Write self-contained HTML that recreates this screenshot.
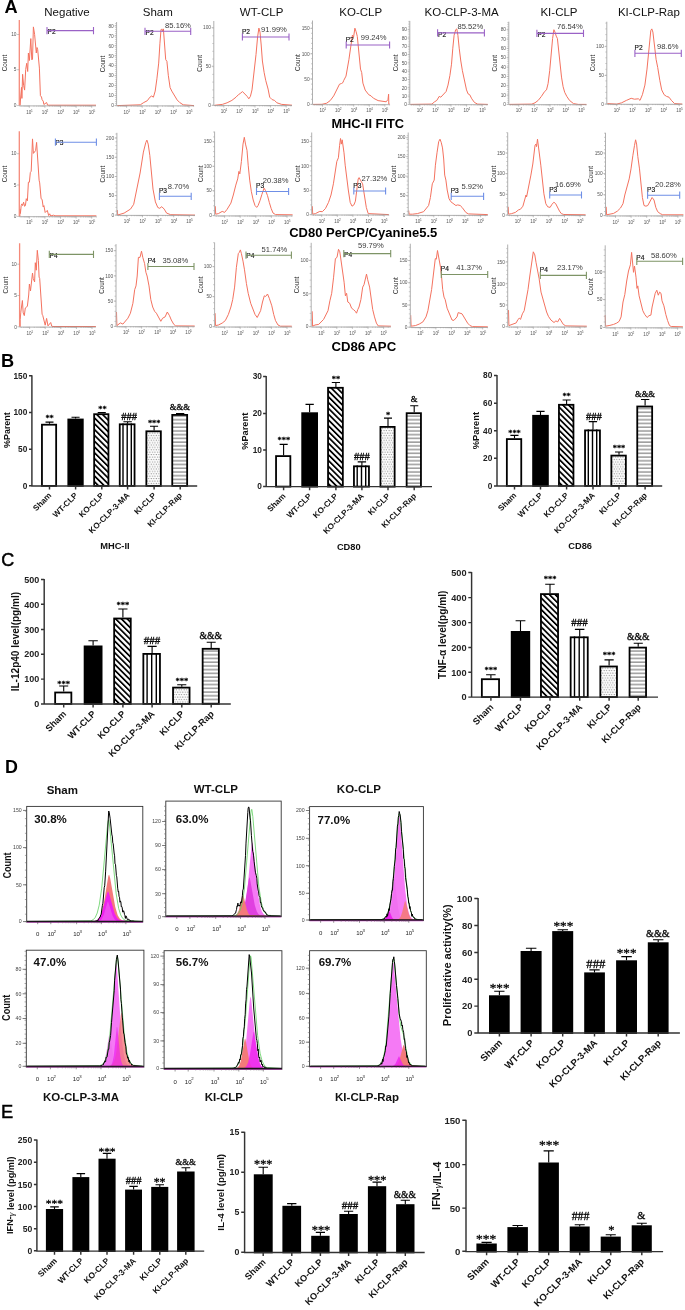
<!DOCTYPE html>
<html><head><meta charset="utf-8"><title>Figure</title>
<style>
html,body{margin:0;padding:0;background:#fff;}
body{width:685px;height:1310px;overflow:hidden;}
svg{display:block;filter:blur(0.3px);font-family:"Liberation Sans", sans-serif;}
</style></head><body>
<svg width="685" height="1310" viewBox="0 0 685 1310">
<rect width="685" height="1310" fill="#fff"/>

<defs>
<pattern id="hatch" patternUnits="userSpaceOnUse" width="4.1" height="4.1" patternTransform="rotate(-45)">
  <rect width="4.1" height="4.1" fill="#fff"/><rect width="1.75" height="4.1" fill="#000"/>
</pattern>
<pattern id="vl" patternUnits="userSpaceOnUse" width="4.4" height="4">
  <rect width="4.4" height="4" fill="#fff"/><rect x="0" width="1.5" height="4" fill="#000"/>
</pattern>
<pattern id="dots" patternUnits="userSpaceOnUse" width="2.53" height="4.8">
  <rect width="2.53" height="4.8" fill="#fff"/>
  <circle cx="0.7" cy="1.0" r="0.62" fill="#777"/><circle cx="1.96" cy="3.4" r="0.62" fill="#808080"/>
</pattern>
<pattern id="hl" patternUnits="userSpaceOnUse" width="4" height="3.73">
  <rect width="4" height="3.73" fill="#fff"/><rect y="1.5" width="4" height="0.9" fill="#555"/>
</pattern>
</defs>

<text x="4.60" y="13.00" font-size="18.2" font-weight="bold">A</text>
<text x="67.00" y="15.60" font-size="11.5" text-anchor="middle" fill="#111">Negative</text>
<text x="157.80" y="15.60" font-size="11.5" text-anchor="middle" fill="#111">Sham</text>
<text x="261.60" y="15.60" font-size="11.5" text-anchor="middle" fill="#111">WT-CLP</text>
<text x="360.70" y="15.60" font-size="11.5" text-anchor="middle" fill="#111">KO-CLP</text>
<text x="461.60" y="15.60" font-size="11.5" text-anchor="middle" fill="#111">KO-CLP-3-MA</text>
<text x="559.00" y="15.60" font-size="11.5" text-anchor="middle" fill="#111">KI-CLP</text>
<text x="648.90" y="15.60" font-size="11.5" text-anchor="middle" fill="#111">KI-CLP-Rap</text>
<text x="28.80" y="113.60" font-size="4.6" text-anchor="middle" fill="#555">10</text>
<text x="31.90" y="111.60" font-size="3.2" text-anchor="middle" fill="#555">1</text>
<text x="44.40" y="113.60" font-size="4.6" text-anchor="middle" fill="#555">10</text>
<text x="47.50" y="111.60" font-size="3.2" text-anchor="middle" fill="#555">2</text>
<text x="60.00" y="113.60" font-size="4.6" text-anchor="middle" fill="#555">10</text>
<text x="63.10" y="111.60" font-size="3.2" text-anchor="middle" fill="#555">3</text>
<text x="75.60" y="113.60" font-size="4.6" text-anchor="middle" fill="#555">10</text>
<text x="78.70" y="111.60" font-size="3.2" text-anchor="middle" fill="#555">4</text>
<text x="91.20" y="113.60" font-size="4.6" text-anchor="middle" fill="#555">10</text>
<text x="94.30" y="111.60" font-size="3.2" text-anchor="middle" fill="#555">5</text>
<text x="16.50" y="36.20" font-size="4.8" text-anchor="end" fill="#555">10</text>
<text x="16.50" y="71.40" font-size="4.8" text-anchor="end" fill="#555">5</text>
<text x="16.50" y="107.30" font-size="4.8" text-anchor="end" fill="#555">0</text>
<text x="7.30" y="63.00" font-size="6.4" text-anchor="middle" fill="#222" transform="rotate(-90 7.30 63.00)" textLength="16.6" lengthAdjust="spacingAndGlyphs">Count</text>
<path d="M19.9 105.6L20.2 105.2L20.5 99.0L21.5 87.4L21.9 98.4L22.6 74.3L23.6 85.3L24.6 90.1L25.7 69.5L26.7 63.3L27.7 71.5L28.4 53.0L29.4 60.5L30.8 38.6L31.8 59.9L32.5 59.2L33.4 26.9L34.6 34.4L36.3 53.0L37.0 47.5L37.7 49.6L39.4 68.1L40.4 95.6L41.5 97.0L42.1 99.7L43.2 101.1L43.9 104.5L46.6 102.5L47.6 105.2L96.0 105.2" stroke="#f4725f" stroke-width="1.0" fill="none" stroke-linejoin="round"/>
<text x="47.50" y="33.60" font-size="6.6" fill="#111" stroke="#111" stroke-width="0.15">P2</text>
<text x="126.10" y="113.60" font-size="4.6" text-anchor="middle" fill="#555">10</text>
<text x="129.20" y="111.60" font-size="3.2" text-anchor="middle" fill="#555">1</text>
<text x="141.70" y="113.60" font-size="4.6" text-anchor="middle" fill="#555">10</text>
<text x="144.80" y="111.60" font-size="3.2" text-anchor="middle" fill="#555">2</text>
<text x="157.30" y="113.60" font-size="4.6" text-anchor="middle" fill="#555">10</text>
<text x="160.40" y="111.60" font-size="3.2" text-anchor="middle" fill="#555">3</text>
<text x="172.90" y="113.60" font-size="4.6" text-anchor="middle" fill="#555">10</text>
<text x="176.00" y="111.60" font-size="3.2" text-anchor="middle" fill="#555">4</text>
<text x="188.50" y="113.60" font-size="4.6" text-anchor="middle" fill="#555">10</text>
<text x="191.60" y="111.60" font-size="3.2" text-anchor="middle" fill="#555">5</text>
<text x="113.80" y="27.60" font-size="4.8" text-anchor="end" fill="#555">80</text>
<text x="113.80" y="37.60" font-size="4.8" text-anchor="end" fill="#555">70</text>
<text x="113.80" y="47.50" font-size="4.8" text-anchor="end" fill="#555">60</text>
<text x="113.80" y="57.50" font-size="4.8" text-anchor="end" fill="#555">50</text>
<text x="113.80" y="67.40" font-size="4.8" text-anchor="end" fill="#555">40</text>
<text x="113.80" y="77.40" font-size="4.8" text-anchor="end" fill="#555">30</text>
<text x="113.80" y="87.30" font-size="4.8" text-anchor="end" fill="#555">20</text>
<text x="113.80" y="97.30" font-size="4.8" text-anchor="end" fill="#555">10</text>
<text x="113.80" y="107.30" font-size="4.8" text-anchor="end" fill="#555">0</text>
<text x="104.60" y="64.00" font-size="6.4" text-anchor="middle" fill="#222" transform="rotate(-90 104.60 64.00)" textLength="16.6" lengthAdjust="spacingAndGlyphs">Count</text>
<path d="M117.2 105.6L140.3 104.8L143.8 102.5L147.3 100.7L149.9 97.2L151.7 96.0L153.4 97.2L155.2 91.1L156.9 78.8L158.7 63.1L159.9 43.8L161.0 29.8L161.8 28.9L162.7 31.5L163.4 28.9L165.7 59.6L166.9 61.3L168.3 75.3L170.1 87.6L171.8 91.1L177.1 99.9L179.7 102.5L183.2 104.8L194.0 105.6" stroke="#f4725f" stroke-width="1.0" fill="none" stroke-linejoin="round"/>
<text x="145.50" y="34.50" font-size="6.6" fill="#111" stroke="#111" stroke-width="0.15">P2</text>
<text x="178.00" y="27.80" font-size="7.6" text-anchor="middle" fill="#3a3a3a">85.16%</text>
<text x="223.30" y="113.30" font-size="4.6" text-anchor="middle" fill="#555">10</text>
<text x="226.40" y="111.30" font-size="3.2" text-anchor="middle" fill="#555">1</text>
<text x="238.90" y="113.30" font-size="4.6" text-anchor="middle" fill="#555">10</text>
<text x="242.00" y="111.30" font-size="3.2" text-anchor="middle" fill="#555">2</text>
<text x="254.50" y="113.30" font-size="4.6" text-anchor="middle" fill="#555">10</text>
<text x="257.60" y="111.30" font-size="3.2" text-anchor="middle" fill="#555">3</text>
<text x="270.10" y="113.30" font-size="4.6" text-anchor="middle" fill="#555">10</text>
<text x="273.20" y="111.30" font-size="3.2" text-anchor="middle" fill="#555">4</text>
<text x="285.70" y="113.30" font-size="4.6" text-anchor="middle" fill="#555">10</text>
<text x="288.80" y="111.30" font-size="3.2" text-anchor="middle" fill="#555">5</text>
<text x="211.00" y="29.30" font-size="4.8" text-anchor="end" fill="#555">100</text>
<text x="211.00" y="67.90" font-size="4.8" text-anchor="end" fill="#555">50</text>
<text x="211.00" y="107.00" font-size="4.8" text-anchor="end" fill="#555">0</text>
<text x="201.80" y="63.35" font-size="6.4" text-anchor="middle" fill="#222" transform="rotate(-90 201.80 63.35)" textLength="16.6" lengthAdjust="spacingAndGlyphs">Count</text>
<path d="M214.4 105.3L222.3 104.4L227.1 102.8L231.9 100.4L236.0 97.2L238.4 94.7L240.8 93.1L242.4 91.5L247.2 96.4L248.8 98.8L250.4 96.4L252.0 89.9L256.0 54.6L257.6 36.9L258.9 28.1L260.0 32.1L261.2 45.0L262.4 61.0L264.1 72.3L265.7 80.3L268.1 89.1L269.7 97.2L272.1 99.6L274.5 100.4L276.9 102.8L281.7 104.4L292.0 105.2" stroke="#f4725f" stroke-width="1.0" fill="none" stroke-linejoin="round"/>
<text x="241.90" y="33.50" font-size="6.6" fill="#111" stroke="#111" stroke-width="0.15">P2</text>
<text x="274.00" y="32.30" font-size="7.6" text-anchor="middle" fill="#3a3a3a">91.99%</text>
<text x="322.00" y="112.40" font-size="4.6" text-anchor="middle" fill="#555">10</text>
<text x="325.10" y="110.40" font-size="3.2" text-anchor="middle" fill="#555">1</text>
<text x="337.60" y="112.40" font-size="4.6" text-anchor="middle" fill="#555">10</text>
<text x="340.70" y="110.40" font-size="3.2" text-anchor="middle" fill="#555">2</text>
<text x="353.20" y="112.40" font-size="4.6" text-anchor="middle" fill="#555">10</text>
<text x="356.30" y="110.40" font-size="3.2" text-anchor="middle" fill="#555">3</text>
<text x="368.80" y="112.40" font-size="4.6" text-anchor="middle" fill="#555">10</text>
<text x="371.90" y="110.40" font-size="3.2" text-anchor="middle" fill="#555">4</text>
<text x="384.40" y="112.40" font-size="4.6" text-anchor="middle" fill="#555">10</text>
<text x="387.50" y="110.40" font-size="3.2" text-anchor="middle" fill="#555">5</text>
<text x="309.70" y="30.10" font-size="4.8" text-anchor="end" fill="#555">150</text>
<text x="309.70" y="55.50" font-size="4.8" text-anchor="end" fill="#555">100</text>
<text x="309.70" y="80.70" font-size="4.8" text-anchor="end" fill="#555">50</text>
<text x="309.70" y="106.10" font-size="4.8" text-anchor="end" fill="#555">0</text>
<text x="300.50" y="62.65" font-size="6.4" text-anchor="middle" fill="#222" transform="rotate(-90 300.50 62.65)" textLength="16.6" lengthAdjust="spacingAndGlyphs">Count</text>
<path d="M313.1 104.4L322.0 104.3L326.7 103.2L330.2 100.6L333.7 95.9L339.5 84.2L341.5 83.5L343.0 82.5L343.6 80.7L346.0 76.1L348.9 59.7L352.4 35.2L353.5 37.5L354.9 28.2L356.1 31.7L357.3 36.4L360.5 69.1L361.7 72.6L362.9 83.1L365.2 90.1L368.7 94.7L371.1 95.9L373.4 98.2L378.1 100.6L386.2 101.8L388.0 99.4L388.6 94.2L388.8 104.1L389.6 104.1" stroke="#f4725f" stroke-width="1.0" fill="none" stroke-linejoin="round"/>
<text x="345.70" y="41.50" font-size="6.6" fill="#111" stroke="#111" stroke-width="0.15">P2</text>
<text x="373.70" y="39.90" font-size="7.6" text-anchor="middle" fill="#3a3a3a">99.24%</text>
<text x="419.30" y="112.40" font-size="4.6" text-anchor="middle" fill="#555">10</text>
<text x="422.40" y="110.40" font-size="3.2" text-anchor="middle" fill="#555">1</text>
<text x="434.90" y="112.40" font-size="4.6" text-anchor="middle" fill="#555">10</text>
<text x="438.00" y="110.40" font-size="3.2" text-anchor="middle" fill="#555">2</text>
<text x="450.50" y="112.40" font-size="4.6" text-anchor="middle" fill="#555">10</text>
<text x="453.60" y="110.40" font-size="3.2" text-anchor="middle" fill="#555">3</text>
<text x="466.10" y="112.40" font-size="4.6" text-anchor="middle" fill="#555">10</text>
<text x="469.20" y="110.40" font-size="3.2" text-anchor="middle" fill="#555">4</text>
<text x="481.70" y="112.40" font-size="4.6" text-anchor="middle" fill="#555">10</text>
<text x="484.80" y="110.40" font-size="3.2" text-anchor="middle" fill="#555">5</text>
<text x="407.00" y="31.40" font-size="4.8" text-anchor="end" fill="#555">90</text>
<text x="407.00" y="39.70" font-size="4.8" text-anchor="end" fill="#555">80</text>
<text x="407.00" y="48.00" font-size="4.8" text-anchor="end" fill="#555">70</text>
<text x="407.00" y="56.30" font-size="4.8" text-anchor="end" fill="#555">60</text>
<text x="407.00" y="64.60" font-size="4.8" text-anchor="end" fill="#555">50</text>
<text x="407.00" y="72.90" font-size="4.8" text-anchor="end" fill="#555">40</text>
<text x="407.00" y="81.20" font-size="4.8" text-anchor="end" fill="#555">30</text>
<text x="407.00" y="89.50" font-size="4.8" text-anchor="end" fill="#555">20</text>
<text x="407.00" y="97.80" font-size="4.8" text-anchor="end" fill="#555">10</text>
<text x="407.00" y="106.10" font-size="4.8" text-anchor="end" fill="#555">0</text>
<text x="397.80" y="62.85" font-size="6.4" text-anchor="middle" fill="#222" transform="rotate(-90 397.80 62.85)" textLength="16.6" lengthAdjust="spacingAndGlyphs">Count</text>
<path d="M410.4 104.4L431.9 104.1L434.3 102.0L436.8 100.4L439.2 96.4L440.8 97.2L446.1 91.5L448.0 85.1L449.9 75.5L451.5 64.2L452.8 48.2L454.1 35.3L455.7 29.7L456.8 28.9L457.9 35.3L459.2 48.2L460.8 61.0L462.4 70.7L466.5 89.9L468.1 93.9L469.7 94.7L471.8 98.8L474.5 102.5L477.7 104.1L487.8 104.4" stroke="#f4725f" stroke-width="1.0" fill="none" stroke-linejoin="round"/>
<text x="438.10" y="36.60" font-size="6.6" fill="#111" stroke="#111" stroke-width="0.15">P2</text>
<text x="470.30" y="29.10" font-size="7.6" text-anchor="middle" fill="#3a3a3a">85.52%</text>
<text x="518.30" y="112.40" font-size="4.6" text-anchor="middle" fill="#555">10</text>
<text x="521.40" y="110.40" font-size="3.2" text-anchor="middle" fill="#555">1</text>
<text x="533.90" y="112.40" font-size="4.6" text-anchor="middle" fill="#555">10</text>
<text x="537.00" y="110.40" font-size="3.2" text-anchor="middle" fill="#555">2</text>
<text x="549.50" y="112.40" font-size="4.6" text-anchor="middle" fill="#555">10</text>
<text x="552.60" y="110.40" font-size="3.2" text-anchor="middle" fill="#555">3</text>
<text x="565.10" y="112.40" font-size="4.6" text-anchor="middle" fill="#555">10</text>
<text x="568.20" y="110.40" font-size="3.2" text-anchor="middle" fill="#555">4</text>
<text x="580.70" y="112.40" font-size="4.6" text-anchor="middle" fill="#555">10</text>
<text x="583.80" y="110.40" font-size="3.2" text-anchor="middle" fill="#555">5</text>
<text x="506.00" y="31.40" font-size="4.8" text-anchor="end" fill="#555">80</text>
<text x="506.00" y="40.70" font-size="4.8" text-anchor="end" fill="#555">70</text>
<text x="506.00" y="50.10" font-size="4.8" text-anchor="end" fill="#555">60</text>
<text x="506.00" y="59.40" font-size="4.8" text-anchor="end" fill="#555">50</text>
<text x="506.00" y="68.80" font-size="4.8" text-anchor="end" fill="#555">40</text>
<text x="506.00" y="78.10" font-size="4.8" text-anchor="end" fill="#555">30</text>
<text x="506.00" y="87.40" font-size="4.8" text-anchor="end" fill="#555">20</text>
<text x="506.00" y="96.80" font-size="4.8" text-anchor="end" fill="#555">10</text>
<text x="506.00" y="106.10" font-size="4.8" text-anchor="end" fill="#555">0</text>
<text x="496.80" y="63.25" font-size="6.4" text-anchor="middle" fill="#222" transform="rotate(-90 496.80 63.25)" textLength="16.6" lengthAdjust="spacingAndGlyphs">Count</text>
<path d="M509.4 104.4L531.8 104.1L535.0 102.8L538.2 100.4L541.4 96.4L544.6 91.5L546.5 89.9L548.1 83.5L549.7 70.7L552.6 38.5L553.9 29.7L555.0 32.1L556.2 36.1L557.4 38.5L561.5 77.1L563.1 86.7L564.7 92.3L566.8 96.4L569.5 100.4L573.5 103.6L578.3 104.4L586.4 104.4" stroke="#f4725f" stroke-width="1.0" fill="none" stroke-linejoin="round"/>
<text x="537.40" y="37.10" font-size="6.6" fill="#111" stroke="#111" stroke-width="0.15">P2</text>
<text x="569.80" y="29.10" font-size="7.6" text-anchor="middle" fill="#3a3a3a">76.54%</text>
<text x="616.30" y="112.00" font-size="4.6" text-anchor="middle" fill="#555">10</text>
<text x="619.40" y="110.00" font-size="3.2" text-anchor="middle" fill="#555">1</text>
<text x="631.90" y="112.00" font-size="4.6" text-anchor="middle" fill="#555">10</text>
<text x="635.00" y="110.00" font-size="3.2" text-anchor="middle" fill="#555">2</text>
<text x="647.50" y="112.00" font-size="4.6" text-anchor="middle" fill="#555">10</text>
<text x="650.60" y="110.00" font-size="3.2" text-anchor="middle" fill="#555">3</text>
<text x="663.10" y="112.00" font-size="4.6" text-anchor="middle" fill="#555">10</text>
<text x="666.20" y="110.00" font-size="3.2" text-anchor="middle" fill="#555">4</text>
<text x="678.70" y="112.00" font-size="4.6" text-anchor="middle" fill="#555">10</text>
<text x="681.80" y="110.00" font-size="3.2" text-anchor="middle" fill="#555">5</text>
<text x="604.00" y="48.30" font-size="4.8" text-anchor="end" fill="#555">100</text>
<text x="604.00" y="77.20" font-size="4.8" text-anchor="end" fill="#555">50</text>
<text x="604.00" y="105.80" font-size="4.8" text-anchor="end" fill="#555">0</text>
<text x="594.80" y="63.05" font-size="6.4" text-anchor="middle" fill="#222" transform="rotate(-90 594.80 63.05)" textLength="16.6" lengthAdjust="spacingAndGlyphs">Count</text>
<path d="M607.4 104.0L607.5 103.6L616.8 104.1L621.6 102.8L626.4 100.4L631.2 98.3L634.4 99.2L638.4 98.8L640.0 100.4L642.4 94.7L644.9 85.1L647.0 69.1L650.8 30.5L651.8 28.9L652.9 32.1L656.1 59.4L657.7 67.4L659.8 80.3L661.7 89.9L664.1 94.7L666.5 96.4L669.0 97.2L671.4 100.4L674.6 103.6L682.3 104.1" stroke="#f4725f" stroke-width="1.0" fill="none" stroke-linejoin="round"/>
<text x="634.50" y="50.00" font-size="6.6" fill="#111" stroke="#111" stroke-width="0.15">P2</text>
<text x="667.70" y="49.20" font-size="7.6" text-anchor="middle" fill="#3a3a3a">98.6%</text>
<text x="367.70" y="127.60" font-size="13.0" font-weight="bold" text-anchor="middle" textLength="72.6" lengthAdjust="spacingAndGlyphs">MHC-II FITC</text>
<text x="28.80" y="224.40" font-size="4.6" text-anchor="middle" fill="#555">10</text>
<text x="31.90" y="222.40" font-size="3.2" text-anchor="middle" fill="#555">1</text>
<text x="44.40" y="224.40" font-size="4.6" text-anchor="middle" fill="#555">10</text>
<text x="47.50" y="222.40" font-size="3.2" text-anchor="middle" fill="#555">2</text>
<text x="60.00" y="224.40" font-size="4.6" text-anchor="middle" fill="#555">10</text>
<text x="63.10" y="222.40" font-size="3.2" text-anchor="middle" fill="#555">3</text>
<text x="75.60" y="224.40" font-size="4.6" text-anchor="middle" fill="#555">10</text>
<text x="78.70" y="222.40" font-size="3.2" text-anchor="middle" fill="#555">4</text>
<text x="91.20" y="224.40" font-size="4.6" text-anchor="middle" fill="#555">10</text>
<text x="94.30" y="222.40" font-size="3.2" text-anchor="middle" fill="#555">5</text>
<text x="16.50" y="155.40" font-size="4.8" text-anchor="end" fill="#555">10</text>
<text x="16.50" y="186.70" font-size="4.8" text-anchor="end" fill="#555">5</text>
<text x="16.50" y="218.10" font-size="4.8" text-anchor="end" fill="#555">0</text>
<text x="7.30" y="174.00" font-size="6.4" text-anchor="middle" fill="#222" transform="rotate(-90 7.30 174.00)" textLength="16.6" lengthAdjust="spacingAndGlyphs">Count</text>
<path d="M19.9 216.4L19.8 209.0L20.4 213.5L21.2 205.6L21.9 203.9L22.6 205.6L23.6 202.2L24.6 206.3L25.4 205.6L26.3 198.7L27.4 200.8L28.4 182.2L29.4 182.2L30.3 172.6L31.2 171.2L32.5 138.9L33.4 153.4L35.6 150.6L36.6 142.4L39.1 180.2L39.7 182.9L41.1 198.7L42.1 199.4L43.2 207.0L43.9 205.6L45.2 212.5L47.3 210.4L48.7 215.6L49.7 213.8L50.7 215.9L53.5 215.2L55.0 215.8L96.4 215.8" stroke="#f4725f" stroke-width="1.0" fill="none" stroke-linejoin="round"/>
<text x="55.30" y="145.30" font-size="6.6" fill="#111" stroke="#111" stroke-width="0.15">P3</text>
<text x="126.40" y="223.10" font-size="4.6" text-anchor="middle" fill="#555">10</text>
<text x="129.50" y="221.10" font-size="3.2" text-anchor="middle" fill="#555">1</text>
<text x="142.00" y="223.10" font-size="4.6" text-anchor="middle" fill="#555">10</text>
<text x="145.10" y="221.10" font-size="3.2" text-anchor="middle" fill="#555">2</text>
<text x="157.60" y="223.10" font-size="4.6" text-anchor="middle" fill="#555">10</text>
<text x="160.70" y="221.10" font-size="3.2" text-anchor="middle" fill="#555">3</text>
<text x="173.20" y="223.10" font-size="4.6" text-anchor="middle" fill="#555">10</text>
<text x="176.30" y="221.10" font-size="3.2" text-anchor="middle" fill="#555">4</text>
<text x="188.80" y="223.10" font-size="4.6" text-anchor="middle" fill="#555">10</text>
<text x="191.90" y="221.10" font-size="3.2" text-anchor="middle" fill="#555">5</text>
<text x="114.10" y="139.70" font-size="4.8" text-anchor="end" fill="#555">200</text>
<text x="114.10" y="159.00" font-size="4.8" text-anchor="end" fill="#555">150</text>
<text x="114.10" y="178.20" font-size="4.8" text-anchor="end" fill="#555">100</text>
<text x="114.10" y="197.20" font-size="4.8" text-anchor="end" fill="#555">50</text>
<text x="114.10" y="216.80" font-size="4.8" text-anchor="end" fill="#555">0</text>
<text x="104.90" y="174.15" font-size="6.4" text-anchor="middle" fill="#222" transform="rotate(-90 104.90 174.15)" textLength="16.6" lengthAdjust="spacingAndGlyphs">Count</text>
<path d="M117.3 210.0L117.7 215.0L124.1 213.1L130.5 209.1L133.7 204.3L140.1 173.0L143.4 152.1L145.8 142.5L146.9 140.1L148.2 144.1L149.8 155.3L153.0 189.1L155.4 201.9L157.8 207.5L159.7 208.3L161.8 206.7L164.2 209.1L166.6 213.1L170.7 214.7L195.0 215.1" stroke="#f4725f" stroke-width="1.0" fill="none" stroke-linejoin="round"/>
<text x="158.90" y="192.80" font-size="6.6" fill="#111" stroke="#111" stroke-width="0.15">P3</text>
<text x="178.50" y="188.50" font-size="7.6" text-anchor="middle" fill="#3a3a3a">8.70%</text>
<text x="224.10" y="223.60" font-size="4.6" text-anchor="middle" fill="#555">10</text>
<text x="227.20" y="221.60" font-size="3.2" text-anchor="middle" fill="#555">1</text>
<text x="239.70" y="223.60" font-size="4.6" text-anchor="middle" fill="#555">10</text>
<text x="242.80" y="221.60" font-size="3.2" text-anchor="middle" fill="#555">2</text>
<text x="255.30" y="223.60" font-size="4.6" text-anchor="middle" fill="#555">10</text>
<text x="258.40" y="221.60" font-size="3.2" text-anchor="middle" fill="#555">3</text>
<text x="270.90" y="223.60" font-size="4.6" text-anchor="middle" fill="#555">10</text>
<text x="274.00" y="221.60" font-size="3.2" text-anchor="middle" fill="#555">4</text>
<text x="286.50" y="223.60" font-size="4.6" text-anchor="middle" fill="#555">10</text>
<text x="289.60" y="221.60" font-size="3.2" text-anchor="middle" fill="#555">5</text>
<text x="211.80" y="143.40" font-size="4.8" text-anchor="end" fill="#555">150</text>
<text x="211.80" y="168.00" font-size="4.8" text-anchor="end" fill="#555">100</text>
<text x="211.80" y="192.40" font-size="4.8" text-anchor="end" fill="#555">50</text>
<text x="211.80" y="217.30" font-size="4.8" text-anchor="end" fill="#555">0</text>
<text x="202.60" y="173.80" font-size="6.4" text-anchor="middle" fill="#222" transform="rotate(-90 202.60 173.80)" textLength="16.6" lengthAdjust="spacingAndGlyphs">Count</text>
<path d="M215.3 206.2L215.7 214.2L218.4 213.6L222.2 211.4L224.6 212.4L227.1 209.3L230.9 203.1L233.3 195.0L235.8 185.1L237.7 178.9L238.9 171.4L239.8 173.9L241.4 161.5L243.0 144.1L244.3 137.3L245.5 144.1L247.0 150.3L248.2 165.2L249.7 180.1L251.3 191.3L253.2 200.0L255.0 205.5L256.7 207.4L258.1 205.5L260.0 200.6L261.9 194.4L264.1 188.2L265.6 190.7L267.5 195.6L269.3 202.4L271.2 208.6L273.0 213.0L275.5 214.6L292.6 214.8" stroke="#f4725f" stroke-width="1.0" fill="none" stroke-linejoin="round"/>
<text x="256.10" y="188.00" font-size="6.6" fill="#111" stroke="#111" stroke-width="0.15">P3</text>
<text x="275.70" y="182.90" font-size="7.6" text-anchor="middle" fill="#3a3a3a">20.38%</text>
<text x="321.20" y="222.70" font-size="4.6" text-anchor="middle" fill="#555">10</text>
<text x="324.30" y="220.70" font-size="3.2" text-anchor="middle" fill="#555">1</text>
<text x="336.80" y="222.70" font-size="4.6" text-anchor="middle" fill="#555">10</text>
<text x="339.90" y="220.70" font-size="3.2" text-anchor="middle" fill="#555">2</text>
<text x="352.40" y="222.70" font-size="4.6" text-anchor="middle" fill="#555">10</text>
<text x="355.50" y="220.70" font-size="3.2" text-anchor="middle" fill="#555">3</text>
<text x="368.00" y="222.70" font-size="4.6" text-anchor="middle" fill="#555">10</text>
<text x="371.10" y="220.70" font-size="3.2" text-anchor="middle" fill="#555">4</text>
<text x="383.60" y="222.70" font-size="4.6" text-anchor="middle" fill="#555">10</text>
<text x="386.70" y="220.70" font-size="3.2" text-anchor="middle" fill="#555">5</text>
<text x="308.90" y="143.10" font-size="4.8" text-anchor="end" fill="#555">150</text>
<text x="308.90" y="167.50" font-size="4.8" text-anchor="end" fill="#555">100</text>
<text x="308.90" y="192.40" font-size="4.8" text-anchor="end" fill="#555">50</text>
<text x="308.90" y="216.40" font-size="4.8" text-anchor="end" fill="#555">0</text>
<text x="299.70" y="173.80" font-size="6.4" text-anchor="middle" fill="#222" transform="rotate(-90 299.70 173.80)" textLength="16.6" lengthAdjust="spacingAndGlyphs">Count</text>
<path d="M312.3 206.2L312.7 214.2L315.4 213.6L319.8 211.4L322.3 211.7L325.4 208.6L328.5 202.4L331.0 195.0L333.4 183.8L336.8 161.5L338.4 157.8L339.6 145.4L340.5 138.5L341.3 144.1L342.2 139.8L344.0 152.8L345.2 165.2L348.3 190.0L350.2 202.4L352.0 206.2L353.9 204.9L355.4 201.2L358.2 178.9L359.1 177.6L360.7 180.7L362.6 183.8L366.3 207.4L368.2 213.6L388.8 214.6" stroke="#f4725f" stroke-width="1.0" fill="none" stroke-linejoin="round"/>
<text x="353.30" y="188.00" font-size="6.6" fill="#111" stroke="#111" stroke-width="0.15">P3</text>
<text x="374.50" y="180.70" font-size="7.6" text-anchor="middle" fill="#3a3a3a">27.32%</text>
<text x="417.70" y="223.10" font-size="4.6" text-anchor="middle" fill="#555">10</text>
<text x="420.80" y="221.10" font-size="3.2" text-anchor="middle" fill="#555">1</text>
<text x="433.30" y="223.10" font-size="4.6" text-anchor="middle" fill="#555">10</text>
<text x="436.40" y="221.10" font-size="3.2" text-anchor="middle" fill="#555">2</text>
<text x="448.90" y="223.10" font-size="4.6" text-anchor="middle" fill="#555">10</text>
<text x="452.00" y="221.10" font-size="3.2" text-anchor="middle" fill="#555">3</text>
<text x="464.50" y="223.10" font-size="4.6" text-anchor="middle" fill="#555">10</text>
<text x="467.60" y="221.10" font-size="3.2" text-anchor="middle" fill="#555">4</text>
<text x="480.10" y="223.10" font-size="4.6" text-anchor="middle" fill="#555">10</text>
<text x="483.20" y="221.10" font-size="3.2" text-anchor="middle" fill="#555">5</text>
<text x="405.40" y="139.40" font-size="4.8" text-anchor="end" fill="#555">200</text>
<text x="405.40" y="158.30" font-size="4.8" text-anchor="end" fill="#555">150</text>
<text x="405.40" y="177.90" font-size="4.8" text-anchor="end" fill="#555">100</text>
<text x="405.40" y="197.20" font-size="4.8" text-anchor="end" fill="#555">50</text>
<text x="405.40" y="216.80" font-size="4.8" text-anchor="end" fill="#555">0</text>
<text x="396.20" y="174.00" font-size="6.4" text-anchor="middle" fill="#222" transform="rotate(-90 396.20 174.00)" textLength="16.6" lengthAdjust="spacingAndGlyphs">Count</text>
<path d="M408.7 210.5L409.1 214.2L412.4 214.2L417.4 213.6L423.6 211.7L428.6 205.5L430.4 197.5L432.3 183.8L434.2 180.1L435.4 165.2L437.0 152.8L438.7 141.6L440.0 139.2L441.2 142.3L442.5 147.9L443.7 159.0L444.7 175.1L445.9 180.1L447.2 190.0L449.0 198.7L450.9 201.8L455.9 205.5L457.7 204.9L460.2 205.5L462.1 207.4L465.8 212.4L468.3 213.9L487.8 214.6" stroke="#f4725f" stroke-width="1.0" fill="none" stroke-linejoin="round"/>
<text x="450.70" y="192.80" font-size="6.6" fill="#111" stroke="#111" stroke-width="0.15">P3</text>
<text x="472.30" y="188.90" font-size="7.6" text-anchor="middle" fill="#3a3a3a">5.92%</text>
<text x="517.20" y="223.10" font-size="4.6" text-anchor="middle" fill="#555">10</text>
<text x="520.30" y="221.10" font-size="3.2" text-anchor="middle" fill="#555">1</text>
<text x="532.80" y="223.10" font-size="4.6" text-anchor="middle" fill="#555">10</text>
<text x="535.90" y="221.10" font-size="3.2" text-anchor="middle" fill="#555">2</text>
<text x="548.40" y="223.10" font-size="4.6" text-anchor="middle" fill="#555">10</text>
<text x="551.50" y="221.10" font-size="3.2" text-anchor="middle" fill="#555">3</text>
<text x="564.00" y="223.10" font-size="4.6" text-anchor="middle" fill="#555">10</text>
<text x="567.10" y="221.10" font-size="3.2" text-anchor="middle" fill="#555">4</text>
<text x="579.60" y="223.10" font-size="4.6" text-anchor="middle" fill="#555">10</text>
<text x="582.70" y="221.10" font-size="3.2" text-anchor="middle" fill="#555">5</text>
<text x="504.90" y="154.60" font-size="4.8" text-anchor="end" fill="#555">150</text>
<text x="504.90" y="175.20" font-size="4.8" text-anchor="end" fill="#555">100</text>
<text x="504.90" y="195.90" font-size="4.8" text-anchor="end" fill="#555">50</text>
<text x="504.90" y="216.80" font-size="4.8" text-anchor="end" fill="#555">0</text>
<text x="495.70" y="174.00" font-size="6.4" text-anchor="middle" fill="#222" transform="rotate(-90 495.70 174.00)" textLength="16.6" lengthAdjust="spacingAndGlyphs">Count</text>
<path d="M508.2 206.8L508.6 214.2L511.7 213.6L515.4 212.4L518.5 209.9L520.4 209.3L522.9 206.2L526.0 195.0L526.6 196.9L530.9 175.1L532.8 164.0L535.0 145.4L535.9 144.1L536.5 146.6L537.5 139.2L540.8 165.2L543.9 193.8L545.8 203.7L547.7 206.8L550.1 207.4L552.0 204.3L553.9 202.2L555.7 203.7L559.5 211.1L561.3 213.6L563.8 214.5L585.6 214.8" stroke="#f4725f" stroke-width="1.0" fill="none" stroke-linejoin="round"/>
<text x="549.20" y="191.80" font-size="6.6" fill="#111" stroke="#111" stroke-width="0.15">P3</text>
<text x="568.00" y="186.90" font-size="7.6" text-anchor="middle" fill="#3a3a3a">16.69%</text>
<text x="615.00" y="223.60" font-size="4.6" text-anchor="middle" fill="#555">10</text>
<text x="618.10" y="221.60" font-size="3.2" text-anchor="middle" fill="#555">1</text>
<text x="630.60" y="223.60" font-size="4.6" text-anchor="middle" fill="#555">10</text>
<text x="633.70" y="221.60" font-size="3.2" text-anchor="middle" fill="#555">2</text>
<text x="646.20" y="223.60" font-size="4.6" text-anchor="middle" fill="#555">10</text>
<text x="649.30" y="221.60" font-size="3.2" text-anchor="middle" fill="#555">3</text>
<text x="661.80" y="223.60" font-size="4.6" text-anchor="middle" fill="#555">10</text>
<text x="664.90" y="221.60" font-size="3.2" text-anchor="middle" fill="#555">4</text>
<text x="677.40" y="223.60" font-size="4.6" text-anchor="middle" fill="#555">10</text>
<text x="680.50" y="221.60" font-size="3.2" text-anchor="middle" fill="#555">5</text>
<text x="602.70" y="154.60" font-size="4.8" text-anchor="end" fill="#555">150</text>
<text x="602.70" y="175.20" font-size="4.8" text-anchor="end" fill="#555">100</text>
<text x="602.70" y="196.40" font-size="4.8" text-anchor="end" fill="#555">50</text>
<text x="602.70" y="217.30" font-size="4.8" text-anchor="end" fill="#555">0</text>
<text x="593.50" y="174.40" font-size="6.4" text-anchor="middle" fill="#222" transform="rotate(-90 593.50 174.40)" textLength="16.6" lengthAdjust="spacingAndGlyphs">Count</text>
<path d="M606.2 206.8L606.6 214.8L613.6 213.4L617.4 211.1L620.5 208.0L623.0 203.7L624.8 195.0L629.2 178.9L631.0 168.9L632.9 155.3L634.5 145.4L635.6 139.8L636.6 144.1L637.8 156.5L639.5 168.9L642.4 197.5L644.0 205.5L645.9 206.2L647.8 205.5L652.1 197.5L654.0 200.0L655.8 207.4L657.7 211.7L660.2 213.6L662.7 214.8L683.4 214.8" stroke="#f4725f" stroke-width="1.0" fill="none" stroke-linejoin="round"/>
<text x="647.10" y="192.20" font-size="6.6" fill="#111" stroke="#111" stroke-width="0.15">P3</text>
<text x="667.90" y="186.90" font-size="7.6" text-anchor="middle" fill="#3a3a3a">20.28%</text>
<text x="363.20" y="237.00" font-size="13.0" font-weight="bold" text-anchor="middle">CD80 PerCP/Cyanine5.5</text>
<text x="29.10" y="334.80" font-size="4.6" text-anchor="middle" fill="#555">10</text>
<text x="32.20" y="332.80" font-size="3.2" text-anchor="middle" fill="#555">1</text>
<text x="44.70" y="334.80" font-size="4.6" text-anchor="middle" fill="#555">10</text>
<text x="47.80" y="332.80" font-size="3.2" text-anchor="middle" fill="#555">2</text>
<text x="60.30" y="334.80" font-size="4.6" text-anchor="middle" fill="#555">10</text>
<text x="63.40" y="332.80" font-size="3.2" text-anchor="middle" fill="#555">3</text>
<text x="75.90" y="334.80" font-size="4.6" text-anchor="middle" fill="#555">10</text>
<text x="79.00" y="332.80" font-size="3.2" text-anchor="middle" fill="#555">4</text>
<text x="91.50" y="334.80" font-size="4.6" text-anchor="middle" fill="#555">10</text>
<text x="94.60" y="332.80" font-size="3.2" text-anchor="middle" fill="#555">5</text>
<text x="16.80" y="265.90" font-size="4.8" text-anchor="end" fill="#555">10</text>
<text x="16.80" y="297.20" font-size="4.8" text-anchor="end" fill="#555">5</text>
<text x="16.80" y="328.50" font-size="4.8" text-anchor="end" fill="#555">0</text>
<text x="7.60" y="285.20" font-size="6.4" text-anchor="middle" fill="#222" transform="rotate(-90 7.60 285.20)" textLength="16.6" lengthAdjust="spacingAndGlyphs">Count</text>
<path d="M20.2 326.8L20.2 319.7L20.8 312.2L22.4 300.5L23.2 312.9L24.3 315.6L25.3 308.0L26.3 307.4L27.4 306.0L28.7 295.0L29.4 284.0L30.5 290.9L32.5 273.0L33.2 278.5L34.6 281.9L35.3 262.7L36.3 270.2L37.3 250.3L38.4 260.6L39.1 277.1L39.7 278.5L42.1 314.2L42.8 315.6L45.2 325.2L46.6 318.4L48.0 325.9L50.7 322.5L51.8 326.3L53.0 326.5L95.9 326.5" stroke="#f4725f" stroke-width="1.0" fill="none" stroke-linejoin="round"/>
<text x="49.60" y="257.90" font-size="6.6" fill="#111" stroke="#111" stroke-width="0.15">P4</text>
<text x="125.50" y="334.40" font-size="4.6" text-anchor="middle" fill="#555">10</text>
<text x="128.60" y="332.40" font-size="3.2" text-anchor="middle" fill="#555">1</text>
<text x="141.10" y="334.40" font-size="4.6" text-anchor="middle" fill="#555">10</text>
<text x="144.20" y="332.40" font-size="3.2" text-anchor="middle" fill="#555">2</text>
<text x="156.70" y="334.40" font-size="4.6" text-anchor="middle" fill="#555">10</text>
<text x="159.80" y="332.40" font-size="3.2" text-anchor="middle" fill="#555">3</text>
<text x="172.30" y="334.40" font-size="4.6" text-anchor="middle" fill="#555">10</text>
<text x="175.40" y="332.40" font-size="3.2" text-anchor="middle" fill="#555">4</text>
<text x="187.90" y="334.40" font-size="4.6" text-anchor="middle" fill="#555">10</text>
<text x="191.00" y="332.40" font-size="3.2" text-anchor="middle" fill="#555">5</text>
<text x="113.20" y="252.30" font-size="4.8" text-anchor="end" fill="#555">150</text>
<text x="113.20" y="277.50" font-size="4.8" text-anchor="end" fill="#555">100</text>
<text x="113.20" y="302.80" font-size="4.8" text-anchor="end" fill="#555">50</text>
<text x="113.20" y="328.10" font-size="4.8" text-anchor="end" fill="#555">0</text>
<text x="104.00" y="285.45" font-size="6.4" text-anchor="middle" fill="#222" transform="rotate(-90 104.00 285.45)" textLength="16.6" lengthAdjust="spacingAndGlyphs">Count</text>
<path d="M116.5 312.0L116.9 325.6L120.4 322.9L122.9 324.1L127.9 318.2L130.4 313.2L132.9 303.3L134.7 289.6L136.0 285.9L137.2 276.0L138.4 257.4L140.0 257.4L141.5 251.2L142.8 257.4L144.6 263.6L145.9 272.3L147.1 276.0L149.0 285.9L150.8 299.6L152.7 307.0L154.6 311.3L156.4 313.2L160.8 321.3L162.6 318.2L165.1 316.9L167.3 312.0L169.5 315.7L171.3 320.0L173.8 324.4L175.7 325.9L194.7 326.0" stroke="#f4725f" stroke-width="1.0" fill="none" stroke-linejoin="round"/>
<text x="147.70" y="263.40" font-size="6.6" fill="#111" stroke="#111" stroke-width="0.15">P4</text>
<text x="175.40" y="262.60" font-size="7.6" text-anchor="middle" fill="#3a3a3a">35.08%</text>
<text x="224.10" y="334.70" font-size="4.6" text-anchor="middle" fill="#555">10</text>
<text x="227.20" y="332.70" font-size="3.2" text-anchor="middle" fill="#555">1</text>
<text x="239.70" y="334.70" font-size="4.6" text-anchor="middle" fill="#555">10</text>
<text x="242.80" y="332.70" font-size="3.2" text-anchor="middle" fill="#555">2</text>
<text x="255.30" y="334.70" font-size="4.6" text-anchor="middle" fill="#555">10</text>
<text x="258.40" y="332.70" font-size="3.2" text-anchor="middle" fill="#555">3</text>
<text x="270.90" y="334.70" font-size="4.6" text-anchor="middle" fill="#555">10</text>
<text x="274.00" y="332.70" font-size="3.2" text-anchor="middle" fill="#555">4</text>
<text x="286.50" y="334.70" font-size="4.6" text-anchor="middle" fill="#555">10</text>
<text x="289.60" y="332.70" font-size="3.2" text-anchor="middle" fill="#555">5</text>
<text x="211.80" y="268.30" font-size="4.8" text-anchor="end" fill="#555">100</text>
<text x="211.80" y="298.30" font-size="4.8" text-anchor="end" fill="#555">50</text>
<text x="211.80" y="328.40" font-size="4.8" text-anchor="end" fill="#555">0</text>
<text x="202.60" y="284.80" font-size="6.4" text-anchor="middle" fill="#222" transform="rotate(-90 202.60 284.80)" textLength="16.6" lengthAdjust="spacingAndGlyphs">Count</text>
<path d="M215.1 313.2L215.5 325.6L218.4 325.0L222.2 323.1L225.3 320.6L228.4 314.4L230.9 307.0L232.7 299.6L234.6 287.1L236.4 267.3L238.3 253.6L239.3 252.4L240.4 249.9L241.4 253.6L243.0 261.1L244.5 269.8L246.4 283.4L248.2 293.3L250.7 303.3L255.0 314.4L257.2 317.5L260.6 310.7L262.5 302.0L264.3 295.8L265.6 296.5L267.5 294.0L269.3 298.3L271.8 305.8L273.7 314.4L275.5 320.6L278.0 325.0L280.5 326.2L291.8 326.2" stroke="#f4725f" stroke-width="1.0" fill="none" stroke-linejoin="round"/>
<text x="246.30" y="258.30" font-size="6.6" fill="#111" stroke="#111" stroke-width="0.15">P4</text>
<text x="274.50" y="252.30" font-size="7.6" text-anchor="middle" fill="#3a3a3a">51.74%</text>
<text x="320.70" y="334.70" font-size="4.6" text-anchor="middle" fill="#555">10</text>
<text x="323.80" y="332.70" font-size="3.2" text-anchor="middle" fill="#555">1</text>
<text x="336.30" y="334.70" font-size="4.6" text-anchor="middle" fill="#555">10</text>
<text x="339.40" y="332.70" font-size="3.2" text-anchor="middle" fill="#555">2</text>
<text x="351.90" y="334.70" font-size="4.6" text-anchor="middle" fill="#555">10</text>
<text x="355.00" y="332.70" font-size="3.2" text-anchor="middle" fill="#555">3</text>
<text x="367.50" y="334.70" font-size="4.6" text-anchor="middle" fill="#555">10</text>
<text x="370.60" y="332.70" font-size="3.2" text-anchor="middle" fill="#555">4</text>
<text x="383.10" y="334.70" font-size="4.6" text-anchor="middle" fill="#555">10</text>
<text x="386.20" y="332.70" font-size="3.2" text-anchor="middle" fill="#555">5</text>
<text x="308.40" y="262.20" font-size="4.8" text-anchor="end" fill="#555">100</text>
<text x="308.40" y="295.50" font-size="4.8" text-anchor="end" fill="#555">50</text>
<text x="308.40" y="328.40" font-size="4.8" text-anchor="end" fill="#555">0</text>
<text x="299.20" y="284.95" font-size="6.4" text-anchor="middle" fill="#222" transform="rotate(-90 299.20 284.95)" textLength="16.6" lengthAdjust="spacingAndGlyphs">Count</text>
<path d="M312.2 311.3L312.6 326.2L315.0 325.0L318.7 324.4L323.6 319.4L328.0 310.7L329.9 300.8L331.7 293.3L333.6 277.2L335.4 258.6L337.0 257.4L338.5 249.3L339.8 251.8L344.1 282.2L345.4 295.8L346.6 293.3L347.8 302.0L349.7 303.3L351.6 308.2L353.4 309.5L355.3 311.3L356.5 313.2L357.8 309.5L359.0 307.0L360.9 299.6L362.7 287.1L364.0 284.7L366.5 274.1L367.7 279.7L369.6 287.1L372.7 309.5L374.5 316.9L376.4 323.1L378.2 325.9L390.9 326.2" stroke="#f4725f" stroke-width="1.0" fill="none" stroke-linejoin="round"/>
<text x="344.10" y="257.20" font-size="6.6" fill="#111" stroke="#111" stroke-width="0.15">P4</text>
<text x="370.90" y="248.30" font-size="7.6" text-anchor="middle" fill="#3a3a3a">59.79%</text>
<text x="419.80" y="335.20" font-size="4.6" text-anchor="middle" fill="#555">10</text>
<text x="422.90" y="333.20" font-size="3.2" text-anchor="middle" fill="#555">1</text>
<text x="435.40" y="335.20" font-size="4.6" text-anchor="middle" fill="#555">10</text>
<text x="438.50" y="333.20" font-size="3.2" text-anchor="middle" fill="#555">2</text>
<text x="451.00" y="335.20" font-size="4.6" text-anchor="middle" fill="#555">10</text>
<text x="454.10" y="333.20" font-size="3.2" text-anchor="middle" fill="#555">3</text>
<text x="466.60" y="335.20" font-size="4.6" text-anchor="middle" fill="#555">10</text>
<text x="469.70" y="333.20" font-size="3.2" text-anchor="middle" fill="#555">4</text>
<text x="482.20" y="335.20" font-size="4.6" text-anchor="middle" fill="#555">10</text>
<text x="485.30" y="333.20" font-size="3.2" text-anchor="middle" fill="#555">5</text>
<text x="407.50" y="262.20" font-size="4.8" text-anchor="end" fill="#555">150</text>
<text x="407.50" y="284.40" font-size="4.8" text-anchor="end" fill="#555">100</text>
<text x="407.50" y="306.70" font-size="4.8" text-anchor="end" fill="#555">50</text>
<text x="407.50" y="328.90" font-size="4.8" text-anchor="end" fill="#555">0</text>
<text x="398.30" y="285.65" font-size="6.4" text-anchor="middle" fill="#222" transform="rotate(-90 398.30 285.65)" textLength="16.6" lengthAdjust="spacingAndGlyphs">Count</text>
<path d="M410.7 315.1L411.1 326.2L415.4 325.6L419.2 324.1L422.9 321.9L426.0 316.9L427.9 310.7L431.6 289.6L435.3 258.6L436.3 259.2L437.5 250.5L440.5 267.3L441.5 276.0L442.7 289.6L444.0 297.1L445.2 299.6L447.1 308.2L452.0 320.0L453.9 320.4L457.0 316.9L458.2 312.6L462.0 313.8L467.6 323.1L470.0 325.6L472.5 326.6L487.8 326.8" stroke="#f4725f" stroke-width="1.0" fill="none" stroke-linejoin="round"/>
<text x="440.80" y="270.80" font-size="6.6" fill="#111" stroke="#111" stroke-width="0.15">P4</text>
<text x="469.20" y="269.70" font-size="7.6" text-anchor="middle" fill="#3a3a3a">41.37%</text>
<text x="517.20" y="334.70" font-size="4.6" text-anchor="middle" fill="#555">10</text>
<text x="520.30" y="332.70" font-size="3.2" text-anchor="middle" fill="#555">1</text>
<text x="532.80" y="334.70" font-size="4.6" text-anchor="middle" fill="#555">10</text>
<text x="535.90" y="332.70" font-size="3.2" text-anchor="middle" fill="#555">2</text>
<text x="548.40" y="334.70" font-size="4.6" text-anchor="middle" fill="#555">10</text>
<text x="551.50" y="332.70" font-size="3.2" text-anchor="middle" fill="#555">3</text>
<text x="564.00" y="334.70" font-size="4.6" text-anchor="middle" fill="#555">10</text>
<text x="567.10" y="332.70" font-size="3.2" text-anchor="middle" fill="#555">4</text>
<text x="579.60" y="334.70" font-size="4.6" text-anchor="middle" fill="#555">10</text>
<text x="582.70" y="332.70" font-size="3.2" text-anchor="middle" fill="#555">5</text>
<text x="504.90" y="263.80" font-size="4.8" text-anchor="end" fill="#555">150</text>
<text x="504.90" y="285.50" font-size="4.8" text-anchor="end" fill="#555">100</text>
<text x="504.90" y="306.70" font-size="4.8" text-anchor="end" fill="#555">50</text>
<text x="504.90" y="328.40" font-size="4.8" text-anchor="end" fill="#555">0</text>
<text x="495.70" y="285.80" font-size="6.4" text-anchor="middle" fill="#222" transform="rotate(-90 495.70 285.80)" textLength="16.6" lengthAdjust="spacingAndGlyphs">Count</text>
<path d="M508.5 310.1L508.9 325.6L516.2 322.9L518.0 319.4L519.3 318.2L520.5 319.4L522.4 313.8L524.2 310.7L528.0 289.6L529.8 276.0L533.3 251.8L534.8 254.9L536.0 262.3L539.1 278.5L541.0 292.1L546.6 312.0L548.4 316.3L550.9 320.0L554.0 322.5L555.9 320.9L557.7 321.9L559.6 318.4L563.3 324.4L565.8 325.9L586.8 326.2" stroke="#f4725f" stroke-width="1.0" fill="none" stroke-linejoin="round"/>
<text x="539.80" y="272.40" font-size="6.6" fill="#111" stroke="#111" stroke-width="0.15">P4</text>
<text x="569.90" y="269.70" font-size="7.6" text-anchor="middle" fill="#3a3a3a">23.17%</text>
<text x="614.70" y="335.50" font-size="4.6" text-anchor="middle" fill="#555">10</text>
<text x="617.80" y="333.50" font-size="3.2" text-anchor="middle" fill="#555">1</text>
<text x="630.30" y="335.50" font-size="4.6" text-anchor="middle" fill="#555">10</text>
<text x="633.40" y="333.50" font-size="3.2" text-anchor="middle" fill="#555">2</text>
<text x="645.90" y="335.50" font-size="4.6" text-anchor="middle" fill="#555">10</text>
<text x="649.00" y="333.50" font-size="3.2" text-anchor="middle" fill="#555">3</text>
<text x="661.50" y="335.50" font-size="4.6" text-anchor="middle" fill="#555">10</text>
<text x="664.60" y="333.50" font-size="3.2" text-anchor="middle" fill="#555">4</text>
<text x="677.10" y="335.50" font-size="4.6" text-anchor="middle" fill="#555">10</text>
<text x="680.20" y="333.50" font-size="3.2" text-anchor="middle" fill="#555">5</text>
<text x="602.40" y="273.50" font-size="4.8" text-anchor="end" fill="#555">100</text>
<text x="602.40" y="301.20" font-size="4.8" text-anchor="end" fill="#555">50</text>
<text x="602.40" y="329.20" font-size="4.8" text-anchor="end" fill="#555">0</text>
<text x="593.20" y="286.60" font-size="6.4" text-anchor="middle" fill="#222" transform="rotate(-90 593.20 286.60)" textLength="16.6" lengthAdjust="spacingAndGlyphs">Count</text>
<path d="M605.2 315.1L605.6 326.2L609.9 325.4L613.6 324.4L616.7 323.1L619.2 321.3L621.1 316.9L623.0 302.0L624.8 294.6L626.7 281.0L628.5 271.0L630.4 264.8L631.6 252.4L633.5 272.3L634.5 266.1L636.0 277.2L637.0 288.4L637.8 285.9L639.1 295.8L642.8 310.7L644.7 314.4L647.1 317.5L649.0 315.7L650.9 315.1L652.1 307.0L655.2 293.3L656.8 290.2L658.3 295.2L659.6 292.1L661.0 293.3L662.0 300.8L663.9 305.8L665.8 314.4L667.6 320.6L669.5 325.6L671.3 326.5L682.9 326.8" stroke="#f4725f" stroke-width="1.0" fill="none" stroke-linejoin="round"/>
<text x="636.30" y="259.90" font-size="6.6" fill="#111" stroke="#111" stroke-width="0.15">P4</text>
<text x="663.90" y="258.10" font-size="7.6" text-anchor="middle" fill="#3a3a3a">58.60%</text>
<text x="363.80" y="350.70" font-size="13.2" font-weight="bold" text-anchor="middle">CD86 APC</text>
<text x="1.10" y="366.90" font-size="18.2" font-weight="bold">B</text>
<rect x="41.95" y="424.70" width="14.20" height="61.20" fill="#fff" stroke="#000" stroke-width="1.8"/>
<rect x="68.30" y="419.50" width="14.50" height="66.40" fill="#000" stroke="#000" stroke-width="1.8"/>
<rect x="94.15" y="414.20" width="14.30" height="71.70" fill="url(#hatch)" stroke="#000" stroke-width="1.8"/>
<rect x="119.75" y="424.30" width="14.80" height="61.60" fill="#fff" stroke="#000" stroke-width="1.8"/>
<rect x="146.35" y="431.30" width="14.50" height="54.60" fill="url(#dots)" stroke="#000" stroke-width="1.8"/>
<rect x="172.25" y="414.90" width="14.90" height="71.00" fill="url(#hl)" stroke="#000" stroke-width="1.8"/>
<text x="27.30" y="488.79" font-size="8.3" font-weight="bold" text-anchor="end" fill="#222">0</text>
<text x="27.30" y="452.19" font-size="8.3" font-weight="bold" text-anchor="end" fill="#222">50</text>
<text x="27.30" y="415.39" font-size="8.3" font-weight="bold" text-anchor="end" fill="#222">100</text>
<text x="27.30" y="378.69" font-size="8.3" font-weight="bold" text-anchor="end" fill="#222">150</text>
<text x="9.60" y="430.10" font-size="9.8" font-weight="bold" text-anchor="middle" fill="#111" transform="rotate(-90 9.60 430.10)" textLength="35.6" lengthAdjust="spacingAndGlyphs">%Parent</text>
<text x="49.60" y="420.80" font-size="8.4" text-anchor="middle" font-family="Liberation Serif" stroke="#000" stroke-width="0.3">**</text>
<text x="102.50" y="412.00" font-size="8.4" text-anchor="middle" font-family="Liberation Serif" stroke="#000" stroke-width="0.3">**</text>
<text x="129.00" y="420.10" font-size="10.5" text-anchor="middle" font-family="Liberation Serif" stroke="#000" stroke-width="0.3">###</text>
<text x="154.20" y="426.00" font-size="8.4" text-anchor="middle" font-family="Liberation Serif" stroke="#000" stroke-width="0.3">***</text>
<text x="179.80" y="410.20" font-size="8.6" text-anchor="middle" font-family="Liberation Serif" stroke="#000" stroke-width="0.3">&amp;&amp;&amp;</text>
<text x="52.00" y="495.90" font-size="8.15" font-weight="bold" text-anchor="end" fill="#111" transform="rotate(-45 52.00 495.90)">Sham</text>
<text x="78.05" y="495.90" font-size="8.15" font-weight="bold" text-anchor="end" fill="#111" transform="rotate(-45 78.05 495.90)">WT-CLP</text>
<text x="104.25" y="495.90" font-size="8.15" font-weight="bold" text-anchor="end" fill="#111" transform="rotate(-45 104.25 495.90)">KO-CLP</text>
<text x="130.10" y="495.90" font-size="8.15" font-weight="bold" text-anchor="end" fill="#111" transform="rotate(-45 130.10 495.90)">KO-CLP-3-MA</text>
<text x="156.55" y="495.90" font-size="8.15" font-weight="bold" text-anchor="end" fill="#111" transform="rotate(-45 156.55 495.90)">KI-CLP</text>
<text x="182.65" y="495.90" font-size="8.15" font-weight="bold" text-anchor="end" fill="#111" transform="rotate(-45 182.65 495.90)">KI-CLP-Rap</text>
<text x="114.90" y="548.70" font-size="9.3" font-weight="bold" text-anchor="middle" fill="#111">MHC-II</text>
<rect x="276.05" y="456.10" width="14.30" height="30.50" fill="#fff" stroke="#000" stroke-width="1.8"/>
<rect x="302.20" y="413.20" width="14.90" height="73.40" fill="#000" stroke="#000" stroke-width="1.8"/>
<rect x="328.05" y="387.80" width="14.80" height="98.80" fill="url(#hatch)" stroke="#000" stroke-width="1.8"/>
<rect x="353.95" y="466.30" width="15.00" height="20.30" fill="#fff" stroke="#000" stroke-width="1.8"/>
<rect x="380.45" y="426.90" width="14.20" height="59.70" fill="url(#dots)" stroke="#000" stroke-width="1.8"/>
<rect x="406.65" y="413.20" width="14.30" height="73.40" fill="url(#hl)" stroke="#000" stroke-width="1.8"/>
<text x="261.90" y="489.39" font-size="8.3" font-weight="bold" text-anchor="end" fill="#222">0</text>
<text x="261.90" y="452.99" font-size="8.3" font-weight="bold" text-anchor="end" fill="#222">10</text>
<text x="261.90" y="416.49" font-size="8.3" font-weight="bold" text-anchor="end" fill="#222">20</text>
<text x="261.90" y="379.39" font-size="8.3" font-weight="bold" text-anchor="end" fill="#222">30</text>
<text x="248.10" y="431.30" font-size="9.8" font-weight="bold" text-anchor="middle" fill="#111" transform="rotate(-90 248.10 431.30)" textLength="37.1" lengthAdjust="spacingAndGlyphs">%Parent</text>
<text x="283.80" y="443.10" font-size="8.4" text-anchor="middle" font-family="Liberation Serif" stroke="#000" stroke-width="0.3">***</text>
<text x="335.90" y="382.10" font-size="8.4" text-anchor="middle" font-family="Liberation Serif" stroke="#000" stroke-width="0.3">**</text>
<text x="361.90" y="459.90" font-size="10.5" text-anchor="middle" font-family="Liberation Serif" stroke="#000" stroke-width="0.3">###</text>
<text x="388.00" y="417.70" font-size="8.4" text-anchor="middle" font-family="Liberation Serif" stroke="#000" stroke-width="0.3">*</text>
<text x="414.20" y="402.00" font-size="8.6" text-anchor="middle" font-family="Liberation Serif" stroke="#000" stroke-width="0.3">&amp;</text>
<text x="286.15" y="496.60" font-size="8.15" font-weight="bold" text-anchor="end" fill="#111" transform="rotate(-45 286.15 496.60)">Sham</text>
<text x="312.15" y="496.60" font-size="8.15" font-weight="bold" text-anchor="end" fill="#111" transform="rotate(-45 312.15 496.60)">WT-CLP</text>
<text x="338.40" y="496.60" font-size="8.15" font-weight="bold" text-anchor="end" fill="#111" transform="rotate(-45 338.40 496.60)">KO-CLP</text>
<text x="364.40" y="496.60" font-size="8.15" font-weight="bold" text-anchor="end" fill="#111" transform="rotate(-45 364.40 496.60)">KO-CLP-3-MA</text>
<text x="390.50" y="496.60" font-size="8.15" font-weight="bold" text-anchor="end" fill="#111" transform="rotate(-45 390.50 496.60)">KI-CLP</text>
<text x="416.75" y="496.60" font-size="8.15" font-weight="bold" text-anchor="end" fill="#111" transform="rotate(-45 416.75 496.60)">KI-CLP-Rap</text>
<text x="348.80" y="549.90" font-size="9.3" font-weight="bold" text-anchor="middle" fill="#111">CD80</text>
<rect x="506.85" y="439.10" width="14.40" height="46.80" fill="#fff" stroke="#000" stroke-width="1.8"/>
<rect x="533.10" y="415.80" width="14.80" height="70.10" fill="#000" stroke="#000" stroke-width="1.8"/>
<rect x="558.95" y="404.80" width="14.50" height="81.10" fill="url(#hatch)" stroke="#000" stroke-width="1.8"/>
<rect x="585.05" y="430.40" width="14.90" height="55.50" fill="#fff" stroke="#000" stroke-width="1.8"/>
<rect x="611.35" y="455.60" width="14.50" height="30.30" fill="url(#dots)" stroke="#000" stroke-width="1.8"/>
<rect x="637.25" y="406.50" width="14.90" height="79.40" fill="url(#hl)" stroke="#000" stroke-width="1.8"/>
<text x="492.30" y="488.89" font-size="8.3" font-weight="bold" text-anchor="end" fill="#222">0</text>
<text x="492.30" y="461.19" font-size="8.3" font-weight="bold" text-anchor="end" fill="#222">20</text>
<text x="492.30" y="433.69" font-size="8.3" font-weight="bold" text-anchor="end" fill="#222">40</text>
<text x="492.30" y="406.19" font-size="8.3" font-weight="bold" text-anchor="end" fill="#222">60</text>
<text x="492.30" y="378.49" font-size="8.3" font-weight="bold" text-anchor="end" fill="#222">80</text>
<text x="479.30" y="430.60" font-size="9.8" font-weight="bold" text-anchor="middle" fill="#111" transform="rotate(-90 479.30 430.60)" textLength="37.3" lengthAdjust="spacingAndGlyphs">%Parent</text>
<text x="514.50" y="435.90" font-size="8.4" text-anchor="middle" font-family="Liberation Serif" stroke="#000" stroke-width="0.3">***</text>
<text x="566.60" y="399.10" font-size="8.4" text-anchor="middle" font-family="Liberation Serif" stroke="#000" stroke-width="0.3">**</text>
<text x="593.90" y="420.10" font-size="10.5" text-anchor="middle" font-family="Liberation Serif" stroke="#000" stroke-width="0.3">###</text>
<text x="619.00" y="451.30" font-size="8.4" text-anchor="middle" font-family="Liberation Serif" stroke="#000" stroke-width="0.3">***</text>
<text x="645.00" y="397.20" font-size="8.6" text-anchor="middle" font-family="Liberation Serif" stroke="#000" stroke-width="0.3">&amp;&amp;&amp;</text>
<text x="517.00" y="495.90" font-size="8.15" font-weight="bold" text-anchor="end" fill="#111" transform="rotate(-45 517.00 495.90)">Sham</text>
<text x="543.00" y="495.90" font-size="8.15" font-weight="bold" text-anchor="end" fill="#111" transform="rotate(-45 543.00 495.90)">WT-CLP</text>
<text x="569.15" y="495.90" font-size="8.15" font-weight="bold" text-anchor="end" fill="#111" transform="rotate(-45 569.15 495.90)">KO-CLP</text>
<text x="595.45" y="495.90" font-size="8.15" font-weight="bold" text-anchor="end" fill="#111" transform="rotate(-45 595.45 495.90)">KO-CLP-3-MA</text>
<text x="621.55" y="495.90" font-size="8.15" font-weight="bold" text-anchor="end" fill="#111" transform="rotate(-45 621.55 495.90)">KI-CLP</text>
<text x="647.65" y="495.90" font-size="8.15" font-weight="bold" text-anchor="end" fill="#111" transform="rotate(-45 647.65 495.90)">KI-CLP-Rap</text>
<text x="580.10" y="548.70" font-size="9.3" font-weight="bold" text-anchor="middle" fill="#111">CD86</text>
<text x="1.30" y="565.80" font-size="18.0" stroke="#000" stroke-width="0.45">C</text>
<rect x="55.15" y="692.50" width="16.20" height="11.40" fill="#fff" stroke="#000" stroke-width="1.8"/>
<rect x="84.60" y="646.40" width="17.00" height="57.50" fill="#000" stroke="#000" stroke-width="1.8"/>
<rect x="114.15" y="618.50" width="16.60" height="85.40" fill="url(#hatch)" stroke="#000" stroke-width="1.8"/>
<rect x="143.35" y="653.90" width="16.60" height="50.00" fill="#fff" stroke="#000" stroke-width="1.8"/>
<rect x="173.05" y="687.60" width="16.50" height="16.30" fill="url(#dots)" stroke="#000" stroke-width="1.8"/>
<rect x="202.65" y="648.80" width="16.20" height="55.10" fill="url(#hl)" stroke="#000" stroke-width="1.8"/>
<text x="39.30" y="707.24" font-size="9.0" font-weight="bold" text-anchor="end" fill="#222">0</text>
<text x="39.30" y="682.34" font-size="9.0" font-weight="bold" text-anchor="end" fill="#222">100</text>
<text x="39.30" y="657.44" font-size="9.0" font-weight="bold" text-anchor="end" fill="#222">200</text>
<text x="39.30" y="632.64" font-size="9.0" font-weight="bold" text-anchor="end" fill="#222">300</text>
<text x="39.30" y="607.54" font-size="9.0" font-weight="bold" text-anchor="end" fill="#222">400</text>
<text x="39.30" y="582.64" font-size="9.0" font-weight="bold" text-anchor="end" fill="#222">500</text>
<text x="19.20" y="641.60" font-size="11.0" font-weight="bold" text-anchor="middle" fill="#111" transform="rotate(-90 19.20 641.60)" textLength="99.5" lengthAdjust="spacingAndGlyphs">IL-12p40 level(pg/ml)</text>
<text x="63.70" y="687.10" font-size="8.5" text-anchor="middle" font-family="Liberation Serif" stroke="#000" stroke-width="0.3">***</text>
<text x="122.90" y="607.90" font-size="8.5" text-anchor="middle" font-family="Liberation Serif" stroke="#000" stroke-width="0.3">***</text>
<text x="152.10" y="643.60" font-size="11.0" text-anchor="middle" font-family="Liberation Serif" stroke="#000" stroke-width="0.3">###</text>
<text x="181.90" y="683.50" font-size="8.5" text-anchor="middle" font-family="Liberation Serif" stroke="#000" stroke-width="0.3">***</text>
<text x="210.80" y="639.20" font-size="9.6" text-anchor="middle" font-family="Liberation Serif" stroke="#000" stroke-width="0.3">&amp;&amp;&amp;</text>
<text x="66.90" y="714.50" font-size="9.2" font-weight="bold" text-anchor="end" fill="#111" transform="rotate(-45 66.90 714.50)">Sham</text>
<text x="96.30" y="714.50" font-size="9.2" font-weight="bold" text-anchor="end" fill="#111" transform="rotate(-45 96.30 714.50)">WT-CLP</text>
<text x="126.10" y="714.50" font-size="9.2" font-weight="bold" text-anchor="end" fill="#111" transform="rotate(-45 126.10 714.50)">KO-CLP</text>
<text x="155.30" y="714.50" font-size="9.2" font-weight="bold" text-anchor="end" fill="#111" transform="rotate(-45 155.30 714.50)">KO-CLP-3-MA</text>
<text x="184.95" y="714.50" font-size="9.2" font-weight="bold" text-anchor="end" fill="#111" transform="rotate(-45 184.95 714.50)">KI-CLP</text>
<text x="214.40" y="714.50" font-size="9.2" font-weight="bold" text-anchor="end" fill="#111" transform="rotate(-45 214.40 714.50)">KI-CLP-Rap</text>
<rect x="481.85" y="679.20" width="17.20" height="17.90" fill="#fff" stroke="#000" stroke-width="1.8"/>
<rect x="511.70" y="631.90" width="17.60" height="65.20" fill="#000" stroke="#000" stroke-width="1.8"/>
<rect x="540.95" y="594.10" width="17.10" height="103.00" fill="url(#hatch)" stroke="#000" stroke-width="1.8"/>
<rect x="570.65" y="637.30" width="17.10" height="59.80" fill="#fff" stroke="#000" stroke-width="1.8"/>
<rect x="600.35" y="666.50" width="16.60" height="30.60" fill="url(#dots)" stroke="#000" stroke-width="1.8"/>
<rect x="629.55" y="647.60" width="16.50" height="49.50" fill="url(#hl)" stroke="#000" stroke-width="1.8"/>
<text x="466.60" y="700.41" font-size="9.2" font-weight="bold" text-anchor="end" fill="#222">0</text>
<text x="466.60" y="675.51" font-size="9.2" font-weight="bold" text-anchor="end" fill="#222">100</text>
<text x="466.60" y="650.81" font-size="9.2" font-weight="bold" text-anchor="end" fill="#222">200</text>
<text x="466.60" y="625.91" font-size="9.2" font-weight="bold" text-anchor="end" fill="#222">300</text>
<text x="466.60" y="600.91" font-size="9.2" font-weight="bold" text-anchor="end" fill="#222">400</text>
<text x="466.60" y="575.81" font-size="9.2" font-weight="bold" text-anchor="end" fill="#222">500</text>
<text x="446.50" y="634.80" font-size="10.9" font-weight="bold" text-anchor="middle" fill="#111" transform="rotate(-90 446.50 634.80)" textLength="88.5" lengthAdjust="spacingAndGlyphs">TNF-α level(pg/ml)</text>
<text x="490.80" y="673.00" font-size="8.5" text-anchor="middle" font-family="Liberation Serif" stroke="#000" stroke-width="0.3">***</text>
<text x="550.00" y="581.80" font-size="8.5" text-anchor="middle" font-family="Liberation Serif" stroke="#000" stroke-width="0.3">***</text>
<text x="579.60" y="625.90" font-size="11.0" text-anchor="middle" font-family="Liberation Serif" stroke="#000" stroke-width="0.3">###</text>
<text x="609.10" y="658.00" font-size="8.5" text-anchor="middle" font-family="Liberation Serif" stroke="#000" stroke-width="0.3">***</text>
<text x="638.20" y="639.60" font-size="9.6" text-anchor="middle" font-family="Liberation Serif" stroke="#000" stroke-width="0.3">&amp;&amp;&amp;</text>
<text x="494.10" y="707.70" font-size="9.2" font-weight="bold" text-anchor="end" fill="#111" transform="rotate(-45 494.10 707.70)">Sham</text>
<text x="523.70" y="707.70" font-size="9.2" font-weight="bold" text-anchor="end" fill="#111" transform="rotate(-45 523.70 707.70)">WT-CLP</text>
<text x="553.15" y="707.70" font-size="9.2" font-weight="bold" text-anchor="end" fill="#111" transform="rotate(-45 553.15 707.70)">KO-CLP</text>
<text x="582.85" y="707.70" font-size="9.2" font-weight="bold" text-anchor="end" fill="#111" transform="rotate(-45 582.85 707.70)">KO-CLP-3-MA</text>
<text x="612.30" y="707.70" font-size="9.2" font-weight="bold" text-anchor="end" fill="#111" transform="rotate(-45 612.30 707.70)">KI-CLP</text>
<text x="641.45" y="707.70" font-size="9.2" font-weight="bold" text-anchor="end" fill="#111" transform="rotate(-45 641.45 707.70)">KI-CLP-Rap</text>
<rect x="489.90" y="996.20" width="18.90" height="36.80" fill="#000" stroke="#000" stroke-width="1.8"/>
<rect x="521.50" y="951.90" width="19.20" height="81.10" fill="#000" stroke="#000" stroke-width="1.8"/>
<rect x="553.10" y="932.00" width="19.20" height="101.00" fill="#000" stroke="#000" stroke-width="1.8"/>
<rect x="585.10" y="973.30" width="18.90" height="59.70" fill="#000" stroke="#000" stroke-width="1.8"/>
<rect x="617.00" y="961.20" width="19.10" height="71.80" fill="#000" stroke="#000" stroke-width="1.8"/>
<rect x="648.70" y="943.20" width="19.00" height="89.80" fill="#000" stroke="#000" stroke-width="1.8"/>
<text x="472.40" y="1036.28" font-size="9.4" font-weight="bold" text-anchor="end" fill="#222">0</text>
<text x="472.40" y="1009.48" font-size="9.4" font-weight="bold" text-anchor="end" fill="#222">20</text>
<text x="472.40" y="982.68" font-size="9.4" font-weight="bold" text-anchor="end" fill="#222">40</text>
<text x="472.40" y="955.78" font-size="9.4" font-weight="bold" text-anchor="end" fill="#222">60</text>
<text x="472.40" y="928.88" font-size="9.4" font-weight="bold" text-anchor="end" fill="#222">80</text>
<text x="472.40" y="901.78" font-size="9.4" font-weight="bold" text-anchor="end" fill="#222">100</text>
<text x="451.20" y="965.20" font-size="11.0" font-weight="bold" text-anchor="middle" fill="#111" transform="rotate(-90 451.20 965.20)" textLength="121.9" lengthAdjust="spacingAndGlyphs">Proliferative activity(%)</text>
<text x="499.60" y="992.30" font-size="13.2" text-anchor="middle" font-family="Liberation Serif" stroke="#000" stroke-width="0.3">***</text>
<text x="563.40" y="929.60" font-size="13.2" text-anchor="middle" font-family="Liberation Serif" stroke="#000" stroke-width="0.3">***</text>
<text x="595.80" y="968.40" font-size="12.7" text-anchor="middle" font-family="Liberation Serif" stroke="#000" stroke-width="0.3">###</text>
<text x="626.60" y="957.40" font-size="13.2" text-anchor="middle" font-family="Liberation Serif" stroke="#000" stroke-width="0.3">***</text>
<text x="657.90" y="937.10" font-size="10.1" text-anchor="middle" font-family="Liberation Serif" stroke="#000" stroke-width="0.3">&amp;&amp;&amp;</text>
<text x="502.75" y="1043.50" font-size="9.6" font-weight="bold" text-anchor="end" fill="#111" transform="rotate(-45 502.75 1043.50)">Sham</text>
<text x="534.50" y="1043.50" font-size="9.6" font-weight="bold" text-anchor="end" fill="#111" transform="rotate(-45 534.50 1043.50)">WT-CLP</text>
<text x="566.10" y="1043.50" font-size="9.6" font-weight="bold" text-anchor="end" fill="#111" transform="rotate(-45 566.10 1043.50)">KO-CLP</text>
<text x="597.95" y="1043.50" font-size="9.6" font-weight="bold" text-anchor="end" fill="#111" transform="rotate(-45 597.95 1043.50)">KO-CLP-3-MA</text>
<text x="629.95" y="1043.50" font-size="9.6" font-weight="bold" text-anchor="end" fill="#111" transform="rotate(-45 629.95 1043.50)">KI-CLP</text>
<text x="661.60" y="1043.50" font-size="9.6" font-weight="bold" text-anchor="end" fill="#111" transform="rotate(-45 661.60 1043.50)">KI-CLP-Rap</text>
<text x="4.90" y="772.80" font-size="17.9" font-weight="bold">D</text>
<text x="62.30" y="793.70" font-size="11.5" font-weight="bold" text-anchor="middle" fill="#111">Sham</text>
<text x="215.80" y="793.40" font-size="11.5" font-weight="bold" text-anchor="middle" fill="#111">WT-CLP</text>
<text x="358.90" y="793.40" font-size="11.5" font-weight="bold" text-anchor="middle" fill="#111">KO-CLP</text>
<text x="81.00" y="1101.00" font-size="11.5" font-weight="bold" text-anchor="middle" fill="#111">KO-CLP-3-MA</text>
<text x="223.80" y="1101.00" font-size="11.5" font-weight="bold" text-anchor="middle" fill="#111">KI-CLP</text>
<text x="367.00" y="1101.00" font-size="11.5" font-weight="bold" text-anchor="middle" fill="#111">KI-CLP-Rap</text>
<text x="10.70" y="865.50" font-size="10.2" font-weight="bold" text-anchor="middle" fill="#111" transform="rotate(-90 10.70 865.50)" textLength="26.2" lengthAdjust="spacingAndGlyphs">Count</text>
<text x="10.40" y="1007.80" font-size="10.2" font-weight="bold" text-anchor="middle" fill="#111" transform="rotate(-90 10.40 1007.80)" textLength="26.2" lengthAdjust="spacingAndGlyphs">Count</text>
<path d="M27.7 921.5L95.2 921.0L97.7 919.8L99.7 917.3L101.7 912.4L104.2 901.1L108.2 876.7L108.7 875.0L109.2 874.7L110.2 878.3L115.2 906.8L117.7 915.2L119.7 918.6L122.2 920.6L141.8 921.5 Z" stroke="none" stroke-width="0" fill="#f47a7a"/>
<path d="M27.7 921.5L95.2 921.0L97.7 919.7L99.7 917.5L101.7 913.3L107.2 892.9L107.7 891.8L108.2 891.6L109.2 893.9L114.7 913.5L117.2 918.1L119.7 920.3L141.8 921.5 Z" stroke="none" stroke-width="0" fill="#ee22ee"/>
<path d="M27.7 921.5L98.2 921.2L100.2 920.4L101.7 918.9L103.7 914.9L107.2 903.0L107.7 901.8L108.2 901.7L112.7 915.9L114.7 919.4L116.7 920.9L141.8 921.5 Z" stroke="none" stroke-width="0" fill="#f0a0f0" fill-opacity="0.35"/>
<path d="M27.7 921.5L90.7 920.9L93.2 919.7L95.2 917.5L97.2 913.1L99.2 905.2L101.7 888.2L107.7 823.9L108.2 820.9L108.7 819.8L109.2 821.9L116.2 893.9L118.7 908.5L120.7 914.9L122.7 918.4L125.2 920.4L141.7 921.5" stroke="#5fcf5f" stroke-width="0.8" fill="none"/>
<path d="M27.7 921.5L94.8 921.3L95.7 921.1L96.1 921.2L96.6 920.9L97.0 920.9L97.5 920.1L97.9 920.5L98.4 919.0L98.8 918.8L99.7 917.2L100.2 917.1L100.6 915.0L101.1 914.7L102.4 905.3L102.9 903.3L104.2 887.7L104.7 885.8L105.6 871.9L108.7 811.0L109.2 812.2L110.1 818.2L111.9 835.0L112.3 836.1L112.8 842.9L113.2 843.7L114.1 853.0L114.6 855.8L115.0 863.9L115.5 864.3L116.4 875.7L116.8 876.9L117.7 888.2L118.2 891.7L118.6 891.1L119.1 896.8L119.5 897.2L120.0 902.3L120.4 900.9L120.9 902.2L121.3 906.9L121.8 906.5L122.2 907.5L122.7 912.0L123.1 912.1L123.6 910.7L124.0 911.9L124.5 914.6L124.9 915.5L125.4 918.4L125.8 915.9L126.3 916.2L127.2 919.2L127.6 919.7L128.1 919.0L129.0 919.7L129.4 919.7L129.9 920.7L131.2 920.9L131.7 921.1L133.0 921.0L134.8 921.4L141.6 921.5" stroke="#000" stroke-width="1.0" fill="none" stroke-linejoin="round"/>
<rect x="26.70" y="806.40" width="116.10" height="115.60" fill="none" stroke="#333" stroke-width="0.9"/>
<text x="21.70" y="923.40" font-size="5.2" text-anchor="end" fill="#444">0</text>
<text x="21.70" y="886.60" font-size="5.2" text-anchor="end" fill="#444">50</text>
<text x="21.70" y="849.40" font-size="5.2" text-anchor="end" fill="#444">100</text>
<text x="21.70" y="812.20" font-size="5.2" text-anchor="end" fill="#444">150</text>
<text x="37.70" y="936.30" font-size="6.0" text-anchor="middle" fill="#222">0</text>
<text x="50.80" y="936.30" font-size="6.0" text-anchor="middle" fill="#222">10</text>
<text x="55.00" y="933.00" font-size="4.3" text-anchor="middle" fill="#222">2</text>
<text x="76.60" y="936.30" font-size="6.0" text-anchor="middle" fill="#222">10</text>
<text x="80.80" y="933.00" font-size="4.3" text-anchor="middle" fill="#222">3</text>
<text x="101.40" y="936.30" font-size="6.0" text-anchor="middle" fill="#222">10</text>
<text x="105.60" y="933.00" font-size="4.3" text-anchor="middle" fill="#222">4</text>
<text x="125.90" y="936.30" font-size="6.0" text-anchor="middle" fill="#222">10</text>
<text x="130.10" y="933.00" font-size="4.3" text-anchor="middle" fill="#222">5</text>
<text x="34.20" y="823.20" font-size="11.5" font-weight="bold" fill="#111">30.8%</text>
<path d="M166.8 916.2L238.8 915.8L240.8 914.9L242.3 913.2L243.8 909.9L245.3 904.1L247.3 890.5L251.3 847.9L251.8 844.1L252.3 842.2L252.8 844.0L258.3 896.0L260.3 906.7L261.8 911.3L263.3 913.8L265.3 915.4L280.2 916.2 Z" stroke="none" stroke-width="0" fill="#f57af5"/>
<path d="M166.8 916.2L238.3 915.8L240.3 914.9L241.8 913.1L243.3 909.8L245.3 901.4L248.8 879.3L249.3 877.5L249.8 877.7L254.8 905.3L256.8 911.5L258.3 914.0L260.3 915.5L280.2 916.2 Z" stroke="none" stroke-width="0" fill="#e040e0"/>
<path d="M166.8 916.2L234.3 915.9L235.8 915.2L237.3 913.6L238.8 910.2L242.3 895.5L242.8 894.3L243.3 894.9L246.8 909.5L248.3 913.3L249.8 915.1L280.2 916.2 Z" stroke="none" stroke-width="0" fill="#f47a7a"/>
<path d="M166.8 916.2L234.8 915.7L237.3 914.5L238.8 912.8L240.3 909.8L242.3 902.7L244.3 889.9L250.8 813.2L251.3 809.8L251.8 809.3L252.8 816.4L258.8 886.4L261.3 902.5L263.3 909.6L265.3 913.2L267.8 915.2L279.8 916.2" stroke="#5fcf5f" stroke-width="0.8" fill="none"/>
<path d="M166.8 916.2L231.6 916.0L232.9 915.6L233.8 914.6L234.3 913.8L234.7 913.9L235.2 913.3L235.6 913.1L236.1 910.9L236.5 909.7L237.0 905.9L237.4 906.4L237.9 903.1L238.3 906.1L239.2 905.1L239.7 906.2L240.1 904.8L240.6 901.8L241.0 903.1L241.5 902.6L242.4 895.4L242.8 890.1L243.3 889.1L245.5 855.4L246.0 843.1L247.8 812.5L248.2 808.0L248.7 806.9L249.1 807.9L250.0 817.9L250.5 820.8L251.4 835.3L252.7 851.4L253.2 852.9L253.6 855.9L254.1 861.3L255.4 872.2L256.3 875.5L256.8 878.2L257.2 883.9L258.1 890.1L258.6 891.8L259.0 895.6L259.5 896.8L259.9 897.5L260.4 902.6L260.8 902.0L261.3 905.4L261.7 907.3L262.6 907.7L263.1 909.8L263.5 910.8L264.0 910.6L264.4 911.9L264.9 911.5L265.3 911.8L266.7 914.8L267.1 914.7L267.6 915.1L268.0 915.1L268.5 915.6L268.9 915.2L269.4 915.7L270.3 915.6L271.6 916.0L280.2 916.2" stroke="#000" stroke-width="1.0" fill="none" stroke-linejoin="round"/>
<rect x="165.80" y="801.10" width="115.40" height="115.60" fill="none" stroke="#333" stroke-width="0.9"/>
<text x="160.80" y="918.50" font-size="5.2" text-anchor="end" fill="#444">0</text>
<text x="160.80" y="895.50" font-size="5.2" text-anchor="end" fill="#444">30</text>
<text x="160.80" y="871.40" font-size="5.2" text-anchor="end" fill="#444">60</text>
<text x="160.80" y="847.30" font-size="5.2" text-anchor="end" fill="#444">90</text>
<text x="160.80" y="823.30" font-size="5.2" text-anchor="end" fill="#444">120</text>
<text x="176.80" y="931.00" font-size="6.0" text-anchor="middle" fill="#222">0</text>
<text x="189.90" y="931.00" font-size="6.0" text-anchor="middle" fill="#222">10</text>
<text x="194.10" y="927.70" font-size="4.3" text-anchor="middle" fill="#222">2</text>
<text x="215.70" y="931.00" font-size="6.0" text-anchor="middle" fill="#222">10</text>
<text x="219.90" y="927.70" font-size="4.3" text-anchor="middle" fill="#222">3</text>
<text x="240.50" y="931.00" font-size="6.0" text-anchor="middle" fill="#222">10</text>
<text x="244.70" y="927.70" font-size="4.3" text-anchor="middle" fill="#222">4</text>
<text x="265.00" y="931.00" font-size="6.0" text-anchor="middle" fill="#222">10</text>
<text x="269.20" y="927.70" font-size="4.3" text-anchor="middle" fill="#222">5</text>
<text x="175.80" y="823.40" font-size="11.5" font-weight="bold" fill="#111">63.0%</text>
<path d="M310.6 920.0L384.6 919.5L386.6 918.6L388.1 916.9L389.6 913.6L391.1 907.5L393.1 893.0L398.6 818.3L399.1 814.6L399.6 815.1L405.1 889.0L407.1 905.3L408.6 912.3L410.1 916.2L411.6 918.2L414.6 919.7L422.4 920.0 Z" stroke="none" stroke-width="0" fill="#f57af5"/>
<path d="M310.6 920.0L383.6 919.7L385.1 919.0L386.6 917.2L388.1 913.3L389.6 905.8L393.1 876.1L393.6 873.4L394.1 873.9L398.1 908.4L399.6 915.1L400.6 917.4L402.1 919.1L422.4 920.0 Z" stroke="none" stroke-width="0" fill="#f070f0" fill-opacity="0.85"/>
<path d="M310.6 920.0L382.6 919.8L384.1 919.1L385.6 917.3L388.6 910.2L389.1 910.3L392.1 917.5L393.6 919.2L422.4 920.0 Z" stroke="none" stroke-width="0" fill="#ee22ee"/>
<path d="M310.6 920.0L397.1 919.8L399.1 918.8L400.6 916.8L402.1 912.6L404.6 902.2L405.1 901.1L405.6 901.7L409.1 915.1L410.6 918.1L412.1 919.4L422.4 920.0 Z" stroke="none" stroke-width="0" fill="#f47a7a" fill-opacity="0.9"/>
<path d="M310.6 920.0L381.6 919.5L384.1 918.5L386.1 916.4L388.1 912.1L390.1 904.1L392.6 886.2L398.6 816.6L399.1 813.6L399.6 813.6L400.6 820.3L407.6 894.0L409.6 906.8L411.6 913.9L413.6 917.4L416.1 919.2L422.1 920.0" stroke="#5fcf5f" stroke-width="0.8" fill="none"/>
<path d="M310.6 920.0L380.8 919.8L382.6 919.3L383.0 919.1L383.9 919.2L384.8 917.9L385.3 916.8L386.2 916.2L386.6 917.2L387.1 913.8L387.5 916.2L388.9 908.7L389.3 910.5L389.8 905.2L391.1 898.4L391.6 893.3L392.0 890.3L392.5 890.3L392.9 881.8L393.4 878.4L394.3 866.7L395.2 859.1L395.6 849.1L396.1 847.6L397.4 826.1L397.9 823.9L398.3 817.2L398.8 815.5L399.2 811.5L399.7 813.6L400.1 814.6L401.0 822.4L401.5 831.7L403.3 849.3L403.7 858.4L404.2 859.3L404.6 866.6L405.1 868.7L405.5 877.3L407.3 889.8L407.8 896.7L408.2 897.9L408.7 903.1L409.1 903.0L409.6 908.4L410.0 906.5L410.5 910.6L411.4 912.5L411.8 916.3L412.3 914.0L412.7 916.1L413.2 917.0L413.6 917.1L414.1 918.1L414.5 917.8L415.0 919.2L415.4 919.3L415.9 919.1L417.2 919.7L422.2 920.0" stroke="#000" stroke-width="1.0" fill="none" stroke-linejoin="round"/>
<rect x="309.60" y="806.60" width="113.80" height="114.00" fill="none" stroke="#333" stroke-width="0.9"/>
<text x="304.60" y="921.80" font-size="5.2" text-anchor="end" fill="#444">0</text>
<text x="304.60" y="895.10" font-size="5.2" text-anchor="end" fill="#444">50</text>
<text x="304.60" y="867.50" font-size="5.2" text-anchor="end" fill="#444">100</text>
<text x="304.60" y="840.10" font-size="5.2" text-anchor="end" fill="#444">150</text>
<text x="304.60" y="812.30" font-size="5.2" text-anchor="end" fill="#444">200</text>
<text x="320.60" y="934.90" font-size="6.0" text-anchor="middle" fill="#222">0</text>
<text x="333.70" y="934.90" font-size="6.0" text-anchor="middle" fill="#222">10</text>
<text x="337.90" y="931.60" font-size="4.3" text-anchor="middle" fill="#222">2</text>
<text x="359.50" y="934.90" font-size="6.0" text-anchor="middle" fill="#222">10</text>
<text x="363.70" y="931.60" font-size="4.3" text-anchor="middle" fill="#222">3</text>
<text x="384.30" y="934.90" font-size="6.0" text-anchor="middle" fill="#222">10</text>
<text x="388.50" y="931.60" font-size="4.3" text-anchor="middle" fill="#222">4</text>
<text x="408.80" y="934.90" font-size="6.0" text-anchor="middle" fill="#222">10</text>
<text x="413.00" y="931.60" font-size="4.3" text-anchor="middle" fill="#222">5</text>
<text x="317.50" y="824.00" font-size="11.5" font-weight="bold" fill="#111">77.0%</text>
<path d="M27.3 1066.3L101.8 1066.0L103.8 1065.2L105.3 1063.7L106.8 1060.6L108.3 1054.8L109.8 1044.6L112.3 1015.2L115.3 969.1L115.8 964.2L116.3 962.5L116.8 966.1L121.8 1038.7L123.8 1054.3L125.3 1060.5L126.8 1063.7L128.3 1065.2L142.9 1066.3 Z" stroke="none" stroke-width="0" fill="#f57af5"/>
<path d="M27.3 1066.3L100.3 1066.0L101.8 1065.4L103.3 1063.7L104.8 1059.9L106.8 1049.8L108.8 1036.7L109.3 1034.6L109.8 1034.9L113.8 1058.4L115.3 1062.9L116.8 1065.1L142.9 1066.3 Z" stroke="none" stroke-width="0" fill="#f070f0" fill-opacity="0.8"/>
<path d="M27.3 1066.3L109.8 1065.9L111.8 1064.9L113.3 1063.1L114.8 1059.3L116.3 1052.4L120.8 1015.2L121.3 1012.7L121.8 1013.1L126.8 1053.0L128.3 1059.6L129.8 1063.2L131.3 1065.0L142.9 1066.3 Z" stroke="none" stroke-width="0" fill="#f47a7a" fill-opacity="0.8"/>
<path d="M27.3 1066.3L109.3 1066.1L110.8 1065.4L111.8 1064.1L112.8 1061.1L113.8 1055.7L116.8 1026.9L117.3 1027.5L120.3 1056.4L121.3 1061.5L122.3 1064.3L123.3 1065.5L142.9 1066.3 Z" stroke="none" stroke-width="0" fill="#ee22ee" fill-opacity="0.7"/>
<path d="M27.3 1066.3L99.3 1065.8L101.8 1064.8L103.8 1062.8L105.3 1060.0L107.3 1053.2L109.3 1041.3L116.3 961.1L116.8 957.5L117.3 956.3L117.8 958.8L124.3 1034.8L126.8 1051.8L128.8 1059.2L130.8 1063.1L133.3 1065.2L142.8 1066.3" stroke="#5fcf5f" stroke-width="0.8" fill="none"/>
<path d="M27.3 1066.3L99.8 1066.0L100.2 1065.8L101.1 1065.8L102.5 1065.0L102.9 1064.5L103.4 1064.7L103.8 1062.9L104.3 1062.9L104.7 1061.1L105.6 1061.8L106.1 1057.2L106.5 1057.6L107.0 1057.2L108.3 1049.2L108.8 1049.3L109.2 1042.7L109.7 1041.0L110.6 1035.5L111.5 1022.7L114.2 990.7L114.6 980.2L116.4 959.6L117.3 955.0L118.2 962.0L120.5 989.1L120.9 999.7L121.4 1003.6L122.3 1017.1L122.7 1020.9L123.6 1033.1L124.1 1034.2L125.0 1042.5L125.9 1046.8L126.3 1053.0L126.8 1054.7L127.2 1055.4L127.7 1058.2L128.1 1057.4L129.0 1061.9L129.5 1060.3L129.9 1063.2L130.4 1063.0L131.3 1063.7L131.7 1065.2L132.2 1065.2L132.6 1064.8L133.5 1065.7L142.5 1066.3" stroke="#000" stroke-width="1.0" fill="none" stroke-linejoin="round"/>
<rect x="26.30" y="950.20" width="117.60" height="116.90" fill="none" stroke="#333" stroke-width="0.9"/>
<text x="21.30" y="1068.10" font-size="5.2" text-anchor="end" fill="#444">0</text>
<text x="21.30" y="1045.10" font-size="5.2" text-anchor="end" fill="#444">20</text>
<text x="21.30" y="1020.30" font-size="5.2" text-anchor="end" fill="#444">40</text>
<text x="21.30" y="995.60" font-size="5.2" text-anchor="end" fill="#444">60</text>
<text x="21.30" y="971.10" font-size="5.2" text-anchor="end" fill="#444">80</text>
<text x="37.30" y="1081.40" font-size="6.0" text-anchor="middle" fill="#222">0</text>
<text x="50.40" y="1081.40" font-size="6.0" text-anchor="middle" fill="#222">10</text>
<text x="54.60" y="1078.10" font-size="4.3" text-anchor="middle" fill="#222">2</text>
<text x="76.20" y="1081.40" font-size="6.0" text-anchor="middle" fill="#222">10</text>
<text x="80.40" y="1078.10" font-size="4.3" text-anchor="middle" fill="#222">3</text>
<text x="101.00" y="1081.40" font-size="6.0" text-anchor="middle" fill="#222">10</text>
<text x="105.20" y="1078.10" font-size="4.3" text-anchor="middle" fill="#222">4</text>
<text x="125.50" y="1081.40" font-size="6.0" text-anchor="middle" fill="#222">10</text>
<text x="129.70" y="1078.10" font-size="4.3" text-anchor="middle" fill="#222">5</text>
<text x="33.60" y="966.40" font-size="11.5" font-weight="bold" fill="#111">47.0%</text>
<path d="M165.1 1068.5L237.6 1068.2L239.6 1067.3L241.1 1065.7L242.6 1062.3L244.1 1056.1L246.1 1041.4L249.6 1002.6L250.1 998.6L250.6 996.5L251.1 998.4L256.1 1047.5L258.1 1059.0L259.6 1063.7L261.1 1066.2L263.1 1067.8L280.9 1068.5 Z" stroke="none" stroke-width="0" fill="#f57af5"/>
<path d="M165.1 1068.5L236.1 1068.2L237.6 1067.5L239.1 1065.7L240.6 1061.8L244.6 1039.8L245.1 1038.5L245.6 1039.8L249.1 1059.9L250.6 1064.7L252.1 1067.1L254.1 1068.2L280.9 1068.5 Z" stroke="none" stroke-width="0" fill="#f47a7a"/>
<path d="M165.1 1068.5L243.1 1068.2L245.1 1067.4L246.6 1065.7L248.1 1062.4L250.1 1053.6L253.1 1034.2L253.6 1032.1L254.1 1031.8L258.6 1058.2L260.1 1063.5L261.6 1066.3L263.6 1067.9L280.9 1068.5 Z" stroke="none" stroke-width="0" fill="#ee22ee" fill-opacity="0.8"/>
<path d="M165.1 1068.5L233.6 1068.0L236.1 1066.8L237.6 1065.2L239.1 1062.3L240.6 1057.5L242.6 1046.4L245.6 1016.2L249.6 962.2L250.1 958.0L250.6 955.8L251.1 957.8L257.6 1035.4L260.1 1053.2L262.1 1061.0L264.1 1065.1L266.6 1067.4L280.6 1068.5" stroke="#5fcf5f" stroke-width="0.8" fill="none"/>
<path d="M165.1 1068.5L232.1 1068.4L233.9 1068.1L234.4 1067.8L235.7 1067.6L236.6 1066.8L237.1 1065.2L237.5 1065.0L238.4 1062.4L238.9 1063.3L239.8 1059.0L240.2 1059.8L240.7 1054.9L241.1 1054.9L241.6 1053.2L242.5 1045.6L242.9 1038.2L243.4 1036.6L243.8 1029.9L244.3 1026.8L244.7 1018.4L245.2 1014.7L245.6 1003.9L246.1 999.8L246.5 989.7L247.0 986.1L249.2 954.6L249.7 956.9L251.5 973.0L253.7 1008.0L256.4 1038.8L256.9 1040.3L257.3 1043.2L257.8 1050.7L258.2 1049.2L258.7 1056.0L259.1 1057.9L259.6 1057.0L260.0 1061.5L260.5 1062.0L260.9 1060.1L261.8 1064.7L262.3 1064.0L262.7 1066.5L263.2 1066.7L263.6 1065.9L264.1 1066.4L264.5 1067.7L265.0 1067.2L265.9 1068.0L266.8 1067.9L267.2 1068.3L280.7 1068.5" stroke="#000" stroke-width="1.0" fill="none" stroke-linejoin="round"/>
<rect x="164.10" y="950.70" width="117.80" height="118.60" fill="none" stroke="#333" stroke-width="0.9"/>
<text x="159.10" y="1070.30" font-size="5.2" text-anchor="end" fill="#444">0</text>
<text x="159.10" y="1042.70" font-size="5.2" text-anchor="end" fill="#444">30</text>
<text x="159.10" y="1014.40" font-size="5.2" text-anchor="end" fill="#444">60</text>
<text x="159.10" y="986.40" font-size="5.2" text-anchor="end" fill="#444">90</text>
<text x="159.10" y="957.90" font-size="5.2" text-anchor="end" fill="#444">120</text>
<text x="175.10" y="1083.60" font-size="6.0" text-anchor="middle" fill="#222">0</text>
<text x="188.20" y="1083.60" font-size="6.0" text-anchor="middle" fill="#222">10</text>
<text x="192.40" y="1080.30" font-size="4.3" text-anchor="middle" fill="#222">2</text>
<text x="214.00" y="1083.60" font-size="6.0" text-anchor="middle" fill="#222">10</text>
<text x="218.20" y="1080.30" font-size="4.3" text-anchor="middle" fill="#222">3</text>
<text x="238.80" y="1083.60" font-size="6.0" text-anchor="middle" fill="#222">10</text>
<text x="243.00" y="1080.30" font-size="4.3" text-anchor="middle" fill="#222">4</text>
<text x="263.30" y="1083.60" font-size="6.0" text-anchor="middle" fill="#222">10</text>
<text x="267.50" y="1080.30" font-size="4.3" text-anchor="middle" fill="#222">5</text>
<text x="175.80" y="966.10" font-size="11.5" font-weight="bold" fill="#111">56.7%</text>
<path d="M310.6 1066.3L378.1 1065.9L380.1 1064.9L381.6 1063.4L383.1 1060.4L384.6 1054.9L386.6 1041.9L392.6 965.5L393.1 962.5L393.6 963.6L400.6 1039.0L403.1 1053.9L405.1 1060.3L407.1 1063.6L409.6 1065.4L425.3 1066.3 Z" stroke="none" stroke-width="0" fill="#f57af5"/>
<path d="M310.6 1066.3L394.6 1066.0L396.6 1065.0L398.1 1063.1L399.6 1059.5L403.1 1045.9L403.6 1044.9L404.1 1045.4L408.1 1060.4L409.6 1063.6L411.1 1065.2L425.3 1066.3 Z" stroke="none" stroke-width="0" fill="#f47a7a"/>
<path d="M310.6 1066.3L392.6 1066.0L394.1 1065.2L395.6 1063.4L398.6 1056.7L399.1 1056.3L402.6 1063.8L404.1 1065.4L425.3 1066.3 Z" stroke="none" stroke-width="0" fill="#ee22ee" fill-opacity="0.8"/>
<path d="M310.6 1066.3L377.1 1065.8L379.6 1064.7L381.1 1063.0L382.6 1059.9L384.1 1054.7L386.1 1042.5L392.6 962.7L393.1 959.0L393.6 958.4L394.6 964.9L399.6 1018.4L401.1 1027.4L403.6 1034.9L407.6 1057.0L409.1 1061.6L410.6 1064.1L412.6 1065.6L425.1 1066.3" stroke="#5fcf5f" stroke-width="0.8" fill="none"/>
<path d="M310.6 1066.3L377.2 1066.1L377.6 1065.8L378.1 1065.9L380.3 1064.5L380.8 1064.4L381.2 1062.7L381.7 1064.2L382.1 1063.0L382.6 1059.2L383.0 1061.6L383.5 1057.1L383.9 1056.6L385.3 1050.8L385.7 1046.0L386.2 1046.4L388.9 1016.1L390.2 993.7L392.5 962.3L392.9 959.3L393.4 959.3L393.8 956.8L394.3 961.5L394.7 964.0L396.5 985.3L397.9 998.6L399.2 1013.9L400.1 1018.3L401.5 1021.7L401.9 1025.9L402.4 1025.1L402.8 1029.3L403.7 1032.7L404.2 1039.3L404.6 1038.8L405.5 1048.7L406.0 1050.8L406.4 1051.9L406.9 1057.5L407.3 1055.6L408.7 1062.9L409.1 1062.4L409.6 1064.2L410.0 1064.9L410.5 1064.2L410.9 1065.2L411.4 1065.1L411.8 1065.6L412.7 1065.9L424.9 1066.3" stroke="#000" stroke-width="1.0" fill="none" stroke-linejoin="round"/>
<rect x="309.60" y="950.70" width="116.70" height="116.00" fill="none" stroke="#333" stroke-width="0.9"/>
<text x="304.60" y="1068.10" font-size="5.2" text-anchor="end" fill="#444">0</text>
<text x="304.60" y="1044.00" font-size="5.2" text-anchor="end" fill="#444">30</text>
<text x="304.60" y="1019.70" font-size="5.2" text-anchor="end" fill="#444">60</text>
<text x="304.60" y="995.20" font-size="5.2" text-anchor="end" fill="#444">90</text>
<text x="304.60" y="970.00" font-size="5.2" text-anchor="end" fill="#444">120</text>
<text x="320.60" y="1081.00" font-size="6.0" text-anchor="middle" fill="#222">0</text>
<text x="333.70" y="1081.00" font-size="6.0" text-anchor="middle" fill="#222">10</text>
<text x="337.90" y="1077.70" font-size="4.3" text-anchor="middle" fill="#222">2</text>
<text x="359.50" y="1081.00" font-size="6.0" text-anchor="middle" fill="#222">10</text>
<text x="363.70" y="1077.70" font-size="4.3" text-anchor="middle" fill="#222">3</text>
<text x="384.30" y="1081.00" font-size="6.0" text-anchor="middle" fill="#222">10</text>
<text x="388.50" y="1077.70" font-size="4.3" text-anchor="middle" fill="#222">4</text>
<text x="408.80" y="1081.00" font-size="6.0" text-anchor="middle" fill="#222">10</text>
<text x="413.00" y="1077.70" font-size="4.3" text-anchor="middle" fill="#222">5</text>
<text x="318.70" y="966.40" font-size="11.5" font-weight="bold" fill="#111">69.7%</text>
<text x="1.00" y="1117.70" font-size="18.3" stroke="#000" stroke-width="0.45">E</text>
<rect x="46.80" y="1209.90" width="15.40" height="41.20" fill="#000" stroke="#000" stroke-width="1.8"/>
<rect x="73.30" y="1178.00" width="15.10" height="73.10" fill="#000" stroke="#000" stroke-width="1.8"/>
<rect x="99.40" y="1159.60" width="15.30" height="91.50" fill="#000" stroke="#000" stroke-width="1.8"/>
<rect x="126.00" y="1190.50" width="15.10" height="60.60" fill="#000" stroke="#000" stroke-width="1.8"/>
<rect x="152.10" y="1187.80" width="15.30" height="63.30" fill="#000" stroke="#000" stroke-width="1.8"/>
<rect x="178.00" y="1172.40" width="15.70" height="78.70" fill="#000" stroke="#000" stroke-width="1.8"/>
<text x="32.20" y="1253.80" font-size="8.6" font-weight="bold" text-anchor="end" fill="#222">0</text>
<text x="32.20" y="1231.90" font-size="8.6" font-weight="bold" text-anchor="end" fill="#222">50</text>
<text x="32.20" y="1209.60" font-size="8.6" font-weight="bold" text-anchor="end" fill="#222">100</text>
<text x="32.20" y="1187.50" font-size="8.6" font-weight="bold" text-anchor="end" fill="#222">150</text>
<text x="32.20" y="1165.30" font-size="8.6" font-weight="bold" text-anchor="end" fill="#222">200</text>
<text x="32.20" y="1143.00" font-size="8.6" font-weight="bold" text-anchor="end" fill="#222">250</text>
<text x="13.00" y="1195.20" font-size="8.9" font-weight="bold" text-anchor="middle" fill="#111" transform="rotate(-90 13.00 1195.20)" textLength="77.7" lengthAdjust="spacingAndGlyphs">IFN-<tspan font-family="Liberation Serif" font-style="italic" font-weight="normal" dy="0.8">γ</tspan><tspan dy="-0.8"></tspan> level (pg/ml)</text>
<text x="54.30" y="1206.70" font-size="11.4" text-anchor="middle" font-family="Liberation Serif" stroke="#000" stroke-width="0.3">***</text>
<text x="107.00" y="1154.50" font-size="11.4" text-anchor="middle" font-family="Liberation Serif" stroke="#000" stroke-width="0.3">***</text>
<text x="133.60" y="1183.90" font-size="10.5" text-anchor="middle" font-family="Liberation Serif" stroke="#000" stroke-width="0.3">###</text>
<text x="159.60" y="1186.10" font-size="11.8" text-anchor="middle" font-family="Liberation Serif" stroke="#000" stroke-width="0.3">**</text>
<text x="185.60" y="1164.80" font-size="8.7" text-anchor="middle" font-family="Liberation Serif" stroke="#000" stroke-width="0.3">&amp;&amp;&amp;</text>
<text x="57.50" y="1261.40" font-size="8.4" font-weight="bold" text-anchor="end" fill="#111" transform="rotate(-45 57.50 1261.40)">Sham</text>
<text x="83.85" y="1261.40" font-size="8.4" font-weight="bold" text-anchor="end" fill="#111" transform="rotate(-45 83.85 1261.40)">WT-CLP</text>
<text x="110.05" y="1261.40" font-size="8.4" font-weight="bold" text-anchor="end" fill="#111" transform="rotate(-45 110.05 1261.40)">KO-CLP</text>
<text x="136.55" y="1261.40" font-size="8.4" font-weight="bold" text-anchor="end" fill="#111" transform="rotate(-45 136.55 1261.40)">KO-CLP-3-MA</text>
<text x="162.75" y="1261.40" font-size="8.4" font-weight="bold" text-anchor="end" fill="#111" transform="rotate(-45 162.75 1261.40)">KI-CLP</text>
<text x="188.85" y="1261.40" font-size="8.4" font-weight="bold" text-anchor="end" fill="#111" transform="rotate(-45 188.85 1261.40)">KI-CLP-Rap</text>
<rect x="254.70" y="1175.20" width="17.10" height="77.20" fill="#000" stroke="#000" stroke-width="1.8"/>
<rect x="283.30" y="1206.70" width="16.90" height="45.70" fill="#000" stroke="#000" stroke-width="1.8"/>
<rect x="312.10" y="1236.70" width="16.60" height="15.70" fill="#000" stroke="#000" stroke-width="1.8"/>
<rect x="340.30" y="1214.90" width="16.60" height="37.50" fill="#000" stroke="#000" stroke-width="1.8"/>
<rect x="368.80" y="1187.10" width="16.50" height="65.30" fill="#000" stroke="#000" stroke-width="1.8"/>
<rect x="397.00" y="1205.10" width="16.60" height="47.30" fill="#000" stroke="#000" stroke-width="1.8"/>
<text x="239.30" y="1255.47" font-size="8.8" font-weight="bold" text-anchor="end" fill="#222">0</text>
<text x="239.30" y="1215.47" font-size="8.8" font-weight="bold" text-anchor="end" fill="#222">5</text>
<text x="239.30" y="1175.37" font-size="8.8" font-weight="bold" text-anchor="end" fill="#222">10</text>
<text x="239.30" y="1135.47" font-size="8.8" font-weight="bold" text-anchor="end" fill="#222">15</text>
<text x="224.30" y="1192.30" font-size="9.9" font-weight="bold" text-anchor="middle" fill="#111" transform="rotate(-90 224.30 1192.30)" textLength="76.8" lengthAdjust="spacingAndGlyphs">IL-4 level (pg/ml)</text>
<text x="263.20" y="1167.80" font-size="12.2" text-anchor="middle" font-family="Liberation Serif" stroke="#000" stroke-width="0.3">***</text>
<text x="321.00" y="1233.60" font-size="12.4" text-anchor="middle" font-family="Liberation Serif" stroke="#000" stroke-width="0.3">***</text>
<text x="349.90" y="1208.70" font-size="11.0" text-anchor="middle" font-family="Liberation Serif" stroke="#000" stroke-width="0.3">###</text>
<text x="377.20" y="1183.50" font-size="12.4" text-anchor="middle" font-family="Liberation Serif" stroke="#000" stroke-width="0.3">***</text>
<text x="404.80" y="1197.70" font-size="9.5" text-anchor="middle" font-family="Liberation Serif" stroke="#000" stroke-width="0.3">&amp;&amp;&amp;</text>
<text x="266.25" y="1262.70" font-size="9.2" font-weight="bold" text-anchor="end" fill="#111" transform="rotate(-45 266.25 1262.70)">Sham</text>
<text x="294.75" y="1262.70" font-size="9.2" font-weight="bold" text-anchor="end" fill="#111" transform="rotate(-45 294.75 1262.70)">WT-CLP</text>
<text x="323.40" y="1262.70" font-size="9.2" font-weight="bold" text-anchor="end" fill="#111" transform="rotate(-45 323.40 1262.70)">KO-CLP</text>
<text x="351.60" y="1262.70" font-size="9.2" font-weight="bold" text-anchor="end" fill="#111" transform="rotate(-45 351.60 1262.70)">KO-CLP-3-MA</text>
<text x="380.05" y="1262.70" font-size="9.2" font-weight="bold" text-anchor="end" fill="#111" transform="rotate(-45 380.05 1262.70)">KI-CLP</text>
<text x="408.30" y="1262.70" font-size="9.2" font-weight="bold" text-anchor="end" fill="#111" transform="rotate(-45 408.30 1262.70)">KI-CLP-Rap</text>
<rect x="477.30" y="1244.40" width="18.60" height="7.20" fill="#000" stroke="#000" stroke-width="1.8"/>
<rect x="508.30" y="1228.00" width="18.70" height="23.60" fill="#000" stroke="#000" stroke-width="1.8"/>
<rect x="539.40" y="1163.40" width="18.60" height="88.20" fill="#000" stroke="#000" stroke-width="1.8"/>
<rect x="570.60" y="1227.40" width="18.20" height="24.20" fill="#000" stroke="#000" stroke-width="1.8"/>
<rect x="601.60" y="1237.50" width="18.30" height="14.10" fill="#000" stroke="#000" stroke-width="1.8"/>
<rect x="632.60" y="1226.20" width="18.30" height="25.40" fill="#000" stroke="#000" stroke-width="1.8"/>
<text x="460.40" y="1254.76" font-size="9.6" font-weight="bold" text-anchor="end" fill="#222">0</text>
<text x="460.40" y="1211.56" font-size="9.6" font-weight="bold" text-anchor="end" fill="#222">50</text>
<text x="460.40" y="1168.06" font-size="9.6" font-weight="bold" text-anchor="end" fill="#222">100</text>
<text x="460.40" y="1123.76" font-size="9.6" font-weight="bold" text-anchor="end" fill="#222">150</text>
<text x="439.80" y="1185.80" font-size="10.6" font-weight="bold" text-anchor="middle" fill="#111" transform="rotate(-90 439.80 1185.80)" textLength="48.2" lengthAdjust="spacingAndGlyphs">IFN-<tspan font-family="Liberation Serif" font-style="italic" font-weight="normal" dy="0.8">γ</tspan><tspan dy="-0.8"></tspan>/IL-4</text>
<text x="486.20" y="1242.70" font-size="13.5" text-anchor="middle" font-family="Liberation Serif" stroke="#000" stroke-width="0.3">***</text>
<text x="549.10" y="1149.10" font-size="13.5" text-anchor="middle" font-family="Liberation Serif" stroke="#000" stroke-width="0.3">***</text>
<text x="580.60" y="1220.30" font-size="11.9" text-anchor="middle" font-family="Liberation Serif" stroke="#000" stroke-width="0.3">###</text>
<text x="611.40" y="1234.40" font-size="12.6" text-anchor="middle" font-family="Liberation Serif" stroke="#000" stroke-width="0.3">*</text>
<text x="641.30" y="1219.00" font-size="10.3" text-anchor="middle" font-family="Liberation Serif" stroke="#000" stroke-width="0.3">&amp;</text>
<text x="489.60" y="1262.40" font-size="9.6" font-weight="bold" text-anchor="end" fill="#111" transform="rotate(-45 489.60 1262.40)">Sham</text>
<text x="520.65" y="1262.40" font-size="9.6" font-weight="bold" text-anchor="end" fill="#111" transform="rotate(-45 520.65 1262.40)">WT-CLP</text>
<text x="551.70" y="1262.40" font-size="9.6" font-weight="bold" text-anchor="end" fill="#111" transform="rotate(-45 551.70 1262.40)">KO-CLP</text>
<text x="582.70" y="1262.40" font-size="9.6" font-weight="bold" text-anchor="end" fill="#111" transform="rotate(-45 582.70 1262.40)">KO-CLP-3-MA</text>
<text x="613.75" y="1262.40" font-size="9.6" font-weight="bold" text-anchor="end" fill="#111" transform="rotate(-45 613.75 1262.40)">KI-CLP</text>
<text x="644.75" y="1262.40" font-size="9.6" font-weight="bold" text-anchor="end" fill="#111" transform="rotate(-45 644.75 1262.40)">KI-CLP-Rap</text>
<path d="M19.3 20.0L19.3 105.6M19.3 131.2L19.3 216.4M19.6 243.2L19.6 326.8" stroke="#f58a7a" stroke-width="1.3" fill="none"/>
<path d="M19.3 105.9L96.0 105.9M116.6 105.9L194.0 105.9M213.8 105.6L292.0 105.6M312.5 104.7L389.6 104.7M409.8 104.7L487.8 104.7M508.8 104.7L586.4 104.7M606.8 104.3L682.3 104.3M19.3 216.7L96.4 216.7M116.9 215.4L195.0 215.4M214.6 215.9L292.6 215.9M311.7 215.0L388.8 215.0M408.2 215.4L487.8 215.4M507.7 215.4L585.6 215.4M605.5 215.9L683.4 215.9M19.6 327.1L95.9 327.1M116.0 326.7L194.7 326.7M214.6 327.0L291.8 327.0M311.2 327.0L390.9 327.0M410.3 327.5L487.8 327.5M507.7 327.0L586.8 327.0M605.2 327.8L682.9 327.8" stroke="#9a9a9a" stroke-width="0.8" fill="none"/>
<path d="M29.3 105.6L29.3 107.8M44.9 105.6L44.9 107.8M60.5 105.6L60.5 107.8M76.1 105.6L76.1 107.8M91.7 105.6L91.7 107.8M17.1 34.5L19.3 34.5M17.1 69.7L19.3 69.7M17.1 105.6L19.3 105.6M126.6 105.6L126.6 107.8M142.2 105.6L142.2 107.8M157.8 105.6L157.8 107.8M173.4 105.6L173.4 107.8M189.0 105.6L189.0 107.8M114.4 25.9L116.6 25.9M114.4 35.9L116.6 35.9M114.4 45.8L116.6 45.8M114.4 55.8L116.6 55.8M114.4 65.7L116.6 65.7M114.4 75.7L116.6 75.7M114.4 85.6L116.6 85.6M114.4 95.6L116.6 95.6M114.4 105.6L116.6 105.6M223.8 105.3L223.8 107.5M239.4 105.3L239.4 107.5M255.0 105.3L255.0 107.5M270.6 105.3L270.6 107.5M286.2 105.3L286.2 107.5M211.6 27.6L213.8 27.6M211.6 66.2L213.8 66.2M211.6 105.3L213.8 105.3M322.5 104.4L322.5 106.6M338.1 104.4L338.1 106.6M353.7 104.4L353.7 106.6M369.3 104.4L369.3 106.6M384.9 104.4L384.9 106.6M310.3 28.4L312.5 28.4M310.3 53.8L312.5 53.8M310.3 79.0L312.5 79.0M310.3 104.4L312.5 104.4M419.8 104.4L419.8 106.6M435.4 104.4L435.4 106.6M451.0 104.4L451.0 106.6M466.6 104.4L466.6 106.6M482.2 104.4L482.2 106.6M407.6 29.7L409.8 29.7M407.6 38.0L409.8 38.0M407.6 46.3L409.8 46.3M407.6 54.6L409.8 54.6M407.6 62.9L409.8 62.9M407.6 71.2L409.8 71.2M407.6 79.5L409.8 79.5M407.6 87.8L409.8 87.8M407.6 96.1L409.8 96.1M407.6 104.4L409.8 104.4M518.8 104.4L518.8 106.6M534.4 104.4L534.4 106.6M550.0 104.4L550.0 106.6M565.6 104.4L565.6 106.6M581.2 104.4L581.2 106.6M506.6 29.7L508.8 29.7M506.6 39.0L508.8 39.0M506.6 48.4L508.8 48.4M506.6 57.7L508.8 57.7M506.6 67.1L508.8 67.1M506.6 76.4L508.8 76.4M506.6 85.7L508.8 85.7M506.6 95.1L508.8 95.1M506.6 104.4L508.8 104.4M616.8 104.0L616.8 106.2M632.4 104.0L632.4 106.2M648.0 104.0L648.0 106.2M663.6 104.0L663.6 106.2M679.2 104.0L679.2 106.2M604.6 46.6L606.8 46.6M604.6 75.5L606.8 75.5M604.6 104.1L606.8 104.1M29.3 216.4L29.3 218.6M44.9 216.4L44.9 218.6M60.5 216.4L60.5 218.6M76.1 216.4L76.1 218.6M91.7 216.4L91.7 218.6M17.1 153.7L19.3 153.7M17.1 185.0L19.3 185.0M17.1 216.4L19.3 216.4M126.9 215.1L126.9 217.3M142.5 215.1L142.5 217.3M158.1 215.1L158.1 217.3M173.7 215.1L173.7 217.3M189.3 215.1L189.3 217.3M114.7 138.0L116.9 138.0M114.7 157.3L116.9 157.3M114.7 176.5L116.9 176.5M114.7 195.5L116.9 195.5M114.7 215.1L116.9 215.1M224.6 215.6L224.6 217.8M240.2 215.6L240.2 217.8M255.8 215.6L255.8 217.8M271.4 215.6L271.4 217.8M287.0 215.6L287.0 217.8M212.4 141.7L214.6 141.7M212.4 166.3L214.6 166.3M212.4 190.7L214.6 190.7M212.4 215.6L214.6 215.6M321.7 214.7L321.7 216.9M337.3 214.7L337.3 216.9M352.9 214.7L352.9 216.9M368.5 214.7L368.5 216.9M384.1 214.7L384.1 216.9M309.5 141.4L311.7 141.4M309.5 165.8L311.7 165.8M309.5 190.7L311.7 190.7M309.5 214.7L311.7 214.7M418.2 215.1L418.2 217.3M433.8 215.1L433.8 217.3M449.4 215.1L449.4 217.3M465.0 215.1L465.0 217.3M480.6 215.1L480.6 217.3M406.0 137.7L408.2 137.7M406.0 156.6L408.2 156.6M406.0 176.2L408.2 176.2M406.0 195.5L408.2 195.5M406.0 215.1L408.2 215.1M517.7 215.1L517.7 217.3M533.3 215.1L533.3 217.3M548.9 215.1L548.9 217.3M564.5 215.1L564.5 217.3M580.1 215.1L580.1 217.3M505.5 152.9L507.7 152.9M505.5 173.5L507.7 173.5M505.5 194.2L507.7 194.2M505.5 215.1L507.7 215.1M615.5 215.6L615.5 217.8M631.1 215.6L631.1 217.8M646.7 215.6L646.7 217.8M662.3 215.6L662.3 217.8M677.9 215.6L677.9 217.8M603.3 152.9L605.5 152.9M603.3 173.5L605.5 173.5M603.3 194.7L605.5 194.7M603.3 215.6L605.5 215.6M29.6 326.8L29.6 329.0M45.2 326.8L45.2 329.0M60.8 326.8L60.8 329.0M76.4 326.8L76.4 329.0M92.0 326.8L92.0 329.0M17.4 264.2L19.6 264.2M17.4 295.5L19.6 295.5M17.4 326.8L19.6 326.8M126.0 326.4L126.0 328.6M141.6 326.4L141.6 328.6M157.2 326.4L157.2 328.6M172.8 326.4L172.8 328.6M188.4 326.4L188.4 328.6M113.8 250.6L116.0 250.6M113.8 275.8L116.0 275.8M113.8 301.1L116.0 301.1M113.8 326.4L116.0 326.4M224.6 326.7L224.6 328.9M240.2 326.7L240.2 328.9M255.8 326.7L255.8 328.9M271.4 326.7L271.4 328.9M287.0 326.7L287.0 328.9M212.4 266.6L214.6 266.6M212.4 296.6L214.6 296.6M212.4 326.7L214.6 326.7M321.2 326.7L321.2 328.9M336.8 326.7L336.8 328.9M352.4 326.7L352.4 328.9M368.0 326.7L368.0 328.9M383.6 326.7L383.6 328.9M309.0 260.5L311.2 260.5M309.0 293.8L311.2 293.8M309.0 326.7L311.2 326.7M420.3 327.2L420.3 329.4M435.9 327.2L435.9 329.4M451.5 327.2L451.5 329.4M467.1 327.2L467.1 329.4M482.7 327.2L482.7 329.4M408.1 260.5L410.3 260.5M408.1 282.7L410.3 282.7M408.1 305.0L410.3 305.0M408.1 327.2L410.3 327.2M517.7 326.7L517.7 328.9M533.3 326.7L533.3 328.9M548.9 326.7L548.9 328.9M564.5 326.7L564.5 328.9M580.1 326.7L580.1 328.9M505.5 262.1L507.7 262.1M505.5 283.8L507.7 283.8M505.5 305.0L507.7 305.0M505.5 326.7L507.7 326.7M615.2 327.5L615.2 329.7M630.8 327.5L630.8 329.7M646.4 327.5L646.4 329.7M662.0 327.5L662.0 329.7M677.6 327.5L677.6 329.7M603.0 271.8L605.2 271.8M603.0 299.5L605.2 299.5M603.0 327.5L605.2 327.5" stroke="#9a9a9a" stroke-width="0.6" fill="none"/>
<path d="M21.1 105.6L21.1 106.8M23.1 105.6L23.1 106.8M24.6 105.6L24.6 106.8M25.8 105.6L25.8 106.8M26.9 105.6L26.9 106.8M27.8 105.6L27.8 106.8M28.6 105.6L28.6 106.8M34.0 105.6L34.0 106.8M36.7 105.6L36.7 106.8M38.7 105.6L38.7 106.8M40.2 105.6L40.2 106.8M41.4 105.6L41.4 106.8M42.5 105.6L42.5 106.8M43.4 105.6L43.4 106.8M44.2 105.6L44.2 106.8M49.6 105.6L49.6 106.8M52.3 105.6L52.3 106.8M54.3 105.6L54.3 106.8M55.8 105.6L55.8 106.8M57.0 105.6L57.0 106.8M58.1 105.6L58.1 106.8M59.0 105.6L59.0 106.8M59.8 105.6L59.8 106.8M65.2 105.6L65.2 106.8M67.9 105.6L67.9 106.8M69.9 105.6L69.9 106.8M71.4 105.6L71.4 106.8M72.6 105.6L72.6 106.8M73.7 105.6L73.7 106.8M74.6 105.6L74.6 106.8M75.4 105.6L75.4 106.8M80.8 105.6L80.8 106.8M83.5 105.6L83.5 106.8M85.5 105.6L85.5 106.8M87.0 105.6L87.0 106.8M88.2 105.6L88.2 106.8M89.3 105.6L89.3 106.8M90.2 105.6L90.2 106.8M91.0 105.6L91.0 106.8M118.4 105.6L118.4 106.8M120.4 105.6L120.4 106.8M121.9 105.6L121.9 106.8M123.1 105.6L123.1 106.8M124.2 105.6L124.2 106.8M125.1 105.6L125.1 106.8M125.9 105.6L125.9 106.8M131.3 105.6L131.3 106.8M134.0 105.6L134.0 106.8M136.0 105.6L136.0 106.8M137.5 105.6L137.5 106.8M138.7 105.6L138.7 106.8M139.8 105.6L139.8 106.8M140.7 105.6L140.7 106.8M141.5 105.6L141.5 106.8M146.9 105.6L146.9 106.8M149.6 105.6L149.6 106.8M151.6 105.6L151.6 106.8M153.1 105.6L153.1 106.8M154.3 105.6L154.3 106.8M155.4 105.6L155.4 106.8M156.3 105.6L156.3 106.8M157.1 105.6L157.1 106.8M162.5 105.6L162.5 106.8M165.2 105.6L165.2 106.8M167.2 105.6L167.2 106.8M168.7 105.6L168.7 106.8M169.9 105.6L169.9 106.8M171.0 105.6L171.0 106.8M171.9 105.6L171.9 106.8M172.7 105.6L172.7 106.8M178.1 105.6L178.1 106.8M180.8 105.6L180.8 106.8M182.8 105.6L182.8 106.8M184.3 105.6L184.3 106.8M185.5 105.6L185.5 106.8M186.6 105.6L186.6 106.8M187.5 105.6L187.5 106.8M188.3 105.6L188.3 106.8M193.7 105.6L193.7 106.8M215.6 105.3L215.6 106.5M217.6 105.3L217.6 106.5M219.1 105.3L219.1 106.5M220.3 105.3L220.3 106.5M221.4 105.3L221.4 106.5M222.3 105.3L222.3 106.5M223.1 105.3L223.1 106.5M228.5 105.3L228.5 106.5M231.2 105.3L231.2 106.5M233.2 105.3L233.2 106.5M234.7 105.3L234.7 106.5M235.9 105.3L235.9 106.5M237.0 105.3L237.0 106.5M237.9 105.3L237.9 106.5M238.7 105.3L238.7 106.5M244.1 105.3L244.1 106.5M246.8 105.3L246.8 106.5M248.8 105.3L248.8 106.5M250.3 105.3L250.3 106.5M251.5 105.3L251.5 106.5M252.6 105.3L252.6 106.5M253.5 105.3L253.5 106.5M254.3 105.3L254.3 106.5M259.7 105.3L259.7 106.5M262.4 105.3L262.4 106.5M264.4 105.3L264.4 106.5M265.9 105.3L265.9 106.5M267.1 105.3L267.1 106.5M268.2 105.3L268.2 106.5M269.1 105.3L269.1 106.5M269.9 105.3L269.9 106.5M275.3 105.3L275.3 106.5M278.0 105.3L278.0 106.5M280.0 105.3L280.0 106.5M281.5 105.3L281.5 106.5M282.7 105.3L282.7 106.5M283.8 105.3L283.8 106.5M284.7 105.3L284.7 106.5M285.5 105.3L285.5 106.5M290.9 105.3L290.9 106.5M314.3 104.4L314.3 105.6M316.3 104.4L316.3 105.6M317.8 104.4L317.8 105.6M319.0 104.4L319.0 105.6M320.1 104.4L320.1 105.6M321.0 104.4L321.0 105.6M321.8 104.4L321.8 105.6M327.2 104.4L327.2 105.6M329.9 104.4L329.9 105.6M331.9 104.4L331.9 105.6M333.4 104.4L333.4 105.6M334.6 104.4L334.6 105.6M335.7 104.4L335.7 105.6M336.6 104.4L336.6 105.6M337.4 104.4L337.4 105.6M342.8 104.4L342.8 105.6M345.5 104.4L345.5 105.6M347.5 104.4L347.5 105.6M349.0 104.4L349.0 105.6M350.2 104.4L350.2 105.6M351.3 104.4L351.3 105.6M352.2 104.4L352.2 105.6M353.0 104.4L353.0 105.6M358.4 104.4L358.4 105.6M361.1 104.4L361.1 105.6M363.1 104.4L363.1 105.6M364.6 104.4L364.6 105.6M365.8 104.4L365.8 105.6M366.9 104.4L366.9 105.6M367.8 104.4L367.8 105.6M368.6 104.4L368.6 105.6M374.0 104.4L374.0 105.6M376.7 104.4L376.7 105.6M378.7 104.4L378.7 105.6M380.2 104.4L380.2 105.6M381.4 104.4L381.4 105.6M382.5 104.4L382.5 105.6M383.4 104.4L383.4 105.6M384.2 104.4L384.2 105.6M389.6 104.4L389.6 105.6M411.6 104.4L411.6 105.6M413.6 104.4L413.6 105.6M415.1 104.4L415.1 105.6M416.3 104.4L416.3 105.6M417.4 104.4L417.4 105.6M418.3 104.4L418.3 105.6M419.1 104.4L419.1 105.6M424.5 104.4L424.5 105.6M427.2 104.4L427.2 105.6M429.2 104.4L429.2 105.6M430.7 104.4L430.7 105.6M431.9 104.4L431.9 105.6M433.0 104.4L433.0 105.6M433.9 104.4L433.9 105.6M434.7 104.4L434.7 105.6M440.1 104.4L440.1 105.6M442.8 104.4L442.8 105.6M444.8 104.4L444.8 105.6M446.3 104.4L446.3 105.6M447.5 104.4L447.5 105.6M448.6 104.4L448.6 105.6M449.5 104.4L449.5 105.6M450.3 104.4L450.3 105.6M455.7 104.4L455.7 105.6M458.4 104.4L458.4 105.6M460.4 104.4L460.4 105.6M461.9 104.4L461.9 105.6M463.1 104.4L463.1 105.6M464.2 104.4L464.2 105.6M465.1 104.4L465.1 105.6M465.9 104.4L465.9 105.6M471.3 104.4L471.3 105.6M474.0 104.4L474.0 105.6M476.0 104.4L476.0 105.6M477.5 104.4L477.5 105.6M478.7 104.4L478.7 105.6M479.8 104.4L479.8 105.6M480.7 104.4L480.7 105.6M481.5 104.4L481.5 105.6M486.9 104.4L486.9 105.6M510.6 104.4L510.6 105.6M512.6 104.4L512.6 105.6M514.1 104.4L514.1 105.6M515.3 104.4L515.3 105.6M516.4 104.4L516.4 105.6M517.3 104.4L517.3 105.6M518.1 104.4L518.1 105.6M523.5 104.4L523.5 105.6M526.2 104.4L526.2 105.6M528.2 104.4L528.2 105.6M529.7 104.4L529.7 105.6M530.9 104.4L530.9 105.6M532.0 104.4L532.0 105.6M532.9 104.4L532.9 105.6M533.7 104.4L533.7 105.6M539.1 104.4L539.1 105.6M541.8 104.4L541.8 105.6M543.8 104.4L543.8 105.6M545.3 104.4L545.3 105.6M546.5 104.4L546.5 105.6M547.6 104.4L547.6 105.6M548.5 104.4L548.5 105.6M549.3 104.4L549.3 105.6M554.7 104.4L554.7 105.6M557.4 104.4L557.4 105.6M559.4 104.4L559.4 105.6M560.9 104.4L560.9 105.6M562.1 104.4L562.1 105.6M563.2 104.4L563.2 105.6M564.1 104.4L564.1 105.6M564.9 104.4L564.9 105.6M570.3 104.4L570.3 105.6M573.0 104.4L573.0 105.6M575.0 104.4L575.0 105.6M576.5 104.4L576.5 105.6M577.7 104.4L577.7 105.6M578.8 104.4L578.8 105.6M579.7 104.4L579.7 105.6M580.5 104.4L580.5 105.6M585.9 104.4L585.9 105.6M608.6 104.0L608.6 105.2M610.6 104.0L610.6 105.2M612.1 104.0L612.1 105.2M613.3 104.0L613.3 105.2M614.4 104.0L614.4 105.2M615.3 104.0L615.3 105.2M616.1 104.0L616.1 105.2M621.5 104.0L621.5 105.2M624.2 104.0L624.2 105.2M626.2 104.0L626.2 105.2M627.7 104.0L627.7 105.2M628.9 104.0L628.9 105.2M630.0 104.0L630.0 105.2M630.9 104.0L630.9 105.2M631.7 104.0L631.7 105.2M637.1 104.0L637.1 105.2M639.8 104.0L639.8 105.2M641.8 104.0L641.8 105.2M643.3 104.0L643.3 105.2M644.5 104.0L644.5 105.2M645.6 104.0L645.6 105.2M646.5 104.0L646.5 105.2M647.3 104.0L647.3 105.2M652.7 104.0L652.7 105.2M655.4 104.0L655.4 105.2M657.4 104.0L657.4 105.2M658.9 104.0L658.9 105.2M660.1 104.0L660.1 105.2M661.2 104.0L661.2 105.2M662.1 104.0L662.1 105.2M662.9 104.0L662.9 105.2M668.3 104.0L668.3 105.2M671.0 104.0L671.0 105.2M673.0 104.0L673.0 105.2M674.5 104.0L674.5 105.2M675.7 104.0L675.7 105.2M676.8 104.0L676.8 105.2M677.7 104.0L677.7 105.2M678.5 104.0L678.5 105.2M21.1 216.4L21.1 217.6M23.1 216.4L23.1 217.6M24.6 216.4L24.6 217.6M25.8 216.4L25.8 217.6M26.9 216.4L26.9 217.6M27.8 216.4L27.8 217.6M28.6 216.4L28.6 217.6M34.0 216.4L34.0 217.6M36.7 216.4L36.7 217.6M38.7 216.4L38.7 217.6M40.2 216.4L40.2 217.6M41.4 216.4L41.4 217.6M42.5 216.4L42.5 217.6M43.4 216.4L43.4 217.6M44.2 216.4L44.2 217.6M49.6 216.4L49.6 217.6M52.3 216.4L52.3 217.6M54.3 216.4L54.3 217.6M55.8 216.4L55.8 217.6M57.0 216.4L57.0 217.6M58.1 216.4L58.1 217.6M59.0 216.4L59.0 217.6M59.8 216.4L59.8 217.6M65.2 216.4L65.2 217.6M67.9 216.4L67.9 217.6M69.9 216.4L69.9 217.6M71.4 216.4L71.4 217.6M72.6 216.4L72.6 217.6M73.7 216.4L73.7 217.6M74.6 216.4L74.6 217.6M75.4 216.4L75.4 217.6M80.8 216.4L80.8 217.6M83.5 216.4L83.5 217.6M85.5 216.4L85.5 217.6M87.0 216.4L87.0 217.6M88.2 216.4L88.2 217.6M89.3 216.4L89.3 217.6M90.2 216.4L90.2 217.6M91.0 216.4L91.0 217.6M96.4 216.4L96.4 217.6M118.7 215.1L118.7 216.3M120.7 215.1L120.7 216.3M122.2 215.1L122.2 216.3M123.4 215.1L123.4 216.3M124.5 215.1L124.5 216.3M125.4 215.1L125.4 216.3M126.2 215.1L126.2 216.3M131.6 215.1L131.6 216.3M134.3 215.1L134.3 216.3M136.3 215.1L136.3 216.3M137.8 215.1L137.8 216.3M139.0 215.1L139.0 216.3M140.1 215.1L140.1 216.3M141.0 215.1L141.0 216.3M141.8 215.1L141.8 216.3M147.2 215.1L147.2 216.3M149.9 215.1L149.9 216.3M151.9 215.1L151.9 216.3M153.4 215.1L153.4 216.3M154.6 215.1L154.6 216.3M155.7 215.1L155.7 216.3M156.6 215.1L156.6 216.3M157.4 215.1L157.4 216.3M162.8 215.1L162.8 216.3M165.5 215.1L165.5 216.3M167.5 215.1L167.5 216.3M169.0 215.1L169.0 216.3M170.2 215.1L170.2 216.3M171.3 215.1L171.3 216.3M172.2 215.1L172.2 216.3M173.0 215.1L173.0 216.3M178.4 215.1L178.4 216.3M181.1 215.1L181.1 216.3M183.1 215.1L183.1 216.3M184.6 215.1L184.6 216.3M185.8 215.1L185.8 216.3M186.9 215.1L186.9 216.3M187.8 215.1L187.8 216.3M188.6 215.1L188.6 216.3M194.0 215.1L194.0 216.3M216.4 215.6L216.4 216.8M218.4 215.6L218.4 216.8M219.9 215.6L219.9 216.8M221.1 215.6L221.1 216.8M222.2 215.6L222.2 216.8M223.1 215.6L223.1 216.8M223.9 215.6L223.9 216.8M229.3 215.6L229.3 216.8M232.0 215.6L232.0 216.8M234.0 215.6L234.0 216.8M235.5 215.6L235.5 216.8M236.7 215.6L236.7 216.8M237.8 215.6L237.8 216.8M238.7 215.6L238.7 216.8M239.5 215.6L239.5 216.8M244.9 215.6L244.9 216.8M247.6 215.6L247.6 216.8M249.6 215.6L249.6 216.8M251.1 215.6L251.1 216.8M252.3 215.6L252.3 216.8M253.4 215.6L253.4 216.8M254.3 215.6L254.3 216.8M255.1 215.6L255.1 216.8M260.5 215.6L260.5 216.8M263.2 215.6L263.2 216.8M265.2 215.6L265.2 216.8M266.7 215.6L266.7 216.8M267.9 215.6L267.9 216.8M269.0 215.6L269.0 216.8M269.9 215.6L269.9 216.8M270.7 215.6L270.7 216.8M276.1 215.6L276.1 216.8M278.8 215.6L278.8 216.8M280.8 215.6L280.8 216.8M282.3 215.6L282.3 216.8M283.5 215.6L283.5 216.8M284.6 215.6L284.6 216.8M285.5 215.6L285.5 216.8M286.3 215.6L286.3 216.8M291.7 215.6L291.7 216.8M313.5 214.7L313.5 215.9M315.5 214.7L315.5 215.9M317.0 214.7L317.0 215.9M318.2 214.7L318.2 215.9M319.3 214.7L319.3 215.9M320.2 214.7L320.2 215.9M321.0 214.7L321.0 215.9M326.4 214.7L326.4 215.9M329.1 214.7L329.1 215.9M331.1 214.7L331.1 215.9M332.6 214.7L332.6 215.9M333.8 214.7L333.8 215.9M334.9 214.7L334.9 215.9M335.8 214.7L335.8 215.9M336.6 214.7L336.6 215.9M342.0 214.7L342.0 215.9M344.7 214.7L344.7 215.9M346.7 214.7L346.7 215.9M348.2 214.7L348.2 215.9M349.4 214.7L349.4 215.9M350.5 214.7L350.5 215.9M351.4 214.7L351.4 215.9M352.2 214.7L352.2 215.9M357.6 214.7L357.6 215.9M360.3 214.7L360.3 215.9M362.3 214.7L362.3 215.9M363.8 214.7L363.8 215.9M365.0 214.7L365.0 215.9M366.1 214.7L366.1 215.9M367.0 214.7L367.0 215.9M367.8 214.7L367.8 215.9M373.2 214.7L373.2 215.9M375.9 214.7L375.9 215.9M377.9 214.7L377.9 215.9M379.4 214.7L379.4 215.9M380.6 214.7L380.6 215.9M381.7 214.7L381.7 215.9M382.6 214.7L382.6 215.9M383.4 214.7L383.4 215.9M388.8 214.7L388.8 215.9M410.0 215.1L410.0 216.3M412.0 215.1L412.0 216.3M413.5 215.1L413.5 216.3M414.7 215.1L414.7 216.3M415.8 215.1L415.8 216.3M416.7 215.1L416.7 216.3M417.5 215.1L417.5 216.3M422.9 215.1L422.9 216.3M425.6 215.1L425.6 216.3M427.6 215.1L427.6 216.3M429.1 215.1L429.1 216.3M430.3 215.1L430.3 216.3M431.4 215.1L431.4 216.3M432.3 215.1L432.3 216.3M433.1 215.1L433.1 216.3M438.5 215.1L438.5 216.3M441.2 215.1L441.2 216.3M443.2 215.1L443.2 216.3M444.7 215.1L444.7 216.3M445.9 215.1L445.9 216.3M447.0 215.1L447.0 216.3M447.9 215.1L447.9 216.3M448.7 215.1L448.7 216.3M454.1 215.1L454.1 216.3M456.8 215.1L456.8 216.3M458.8 215.1L458.8 216.3M460.3 215.1L460.3 216.3M461.5 215.1L461.5 216.3M462.6 215.1L462.6 216.3M463.5 215.1L463.5 216.3M464.3 215.1L464.3 216.3M469.7 215.1L469.7 216.3M472.4 215.1L472.4 216.3M474.4 215.1L474.4 216.3M475.9 215.1L475.9 216.3M477.1 215.1L477.1 216.3M478.2 215.1L478.2 216.3M479.1 215.1L479.1 216.3M479.9 215.1L479.9 216.3M485.3 215.1L485.3 216.3M509.5 215.1L509.5 216.3M511.5 215.1L511.5 216.3M513.0 215.1L513.0 216.3M514.2 215.1L514.2 216.3M515.3 215.1L515.3 216.3M516.2 215.1L516.2 216.3M517.0 215.1L517.0 216.3M522.4 215.1L522.4 216.3M525.1 215.1L525.1 216.3M527.1 215.1L527.1 216.3M528.6 215.1L528.6 216.3M529.8 215.1L529.8 216.3M530.9 215.1L530.9 216.3M531.8 215.1L531.8 216.3M532.6 215.1L532.6 216.3M538.0 215.1L538.0 216.3M540.7 215.1L540.7 216.3M542.7 215.1L542.7 216.3M544.2 215.1L544.2 216.3M545.4 215.1L545.4 216.3M546.5 215.1L546.5 216.3M547.4 215.1L547.4 216.3M548.2 215.1L548.2 216.3M553.6 215.1L553.6 216.3M556.3 215.1L556.3 216.3M558.3 215.1L558.3 216.3M559.8 215.1L559.8 216.3M561.0 215.1L561.0 216.3M562.1 215.1L562.1 216.3M563.0 215.1L563.0 216.3M563.8 215.1L563.8 216.3M569.2 215.1L569.2 216.3M571.9 215.1L571.9 216.3M573.9 215.1L573.9 216.3M575.4 215.1L575.4 216.3M576.6 215.1L576.6 216.3M577.7 215.1L577.7 216.3M578.6 215.1L578.6 216.3M579.4 215.1L579.4 216.3M584.8 215.1L584.8 216.3M607.3 215.6L607.3 216.8M609.3 215.6L609.3 216.8M610.8 215.6L610.8 216.8M612.0 215.6L612.0 216.8M613.1 215.6L613.1 216.8M614.0 215.6L614.0 216.8M614.8 215.6L614.8 216.8M620.2 215.6L620.2 216.8M622.9 215.6L622.9 216.8M624.9 215.6L624.9 216.8M626.4 215.6L626.4 216.8M627.6 215.6L627.6 216.8M628.7 215.6L628.7 216.8M629.6 215.6L629.6 216.8M630.4 215.6L630.4 216.8M635.8 215.6L635.8 216.8M638.5 215.6L638.5 216.8M640.5 215.6L640.5 216.8M642.0 215.6L642.0 216.8M643.2 215.6L643.2 216.8M644.3 215.6L644.3 216.8M645.2 215.6L645.2 216.8M646.0 215.6L646.0 216.8M651.4 215.6L651.4 216.8M654.1 215.6L654.1 216.8M656.1 215.6L656.1 216.8M657.6 215.6L657.6 216.8M658.8 215.6L658.8 216.8M659.9 215.6L659.9 216.8M660.8 215.6L660.8 216.8M661.6 215.6L661.6 216.8M667.0 215.6L667.0 216.8M669.7 215.6L669.7 216.8M671.7 215.6L671.7 216.8M673.2 215.6L673.2 216.8M674.4 215.6L674.4 216.8M675.5 215.6L675.5 216.8M676.4 215.6L676.4 216.8M677.2 215.6L677.2 216.8M682.6 215.6L682.6 216.8M21.4 326.8L21.4 328.0M23.4 326.8L23.4 328.0M24.9 326.8L24.9 328.0M26.1 326.8L26.1 328.0M27.2 326.8L27.2 328.0M28.1 326.8L28.1 328.0M28.9 326.8L28.9 328.0M34.3 326.8L34.3 328.0M37.0 326.8L37.0 328.0M39.0 326.8L39.0 328.0M40.5 326.8L40.5 328.0M41.7 326.8L41.7 328.0M42.8 326.8L42.8 328.0M43.7 326.8L43.7 328.0M44.5 326.8L44.5 328.0M49.9 326.8L49.9 328.0M52.6 326.8L52.6 328.0M54.6 326.8L54.6 328.0M56.1 326.8L56.1 328.0M57.3 326.8L57.3 328.0M58.4 326.8L58.4 328.0M59.3 326.8L59.3 328.0M60.1 326.8L60.1 328.0M65.5 326.8L65.5 328.0M68.2 326.8L68.2 328.0M70.2 326.8L70.2 328.0M71.7 326.8L71.7 328.0M72.9 326.8L72.9 328.0M74.0 326.8L74.0 328.0M74.9 326.8L74.9 328.0M75.7 326.8L75.7 328.0M81.1 326.8L81.1 328.0M83.8 326.8L83.8 328.0M85.8 326.8L85.8 328.0M87.3 326.8L87.3 328.0M88.5 326.8L88.5 328.0M89.6 326.8L89.6 328.0M90.5 326.8L90.5 328.0M91.3 326.8L91.3 328.0M117.8 326.4L117.8 327.6M119.8 326.4L119.8 327.6M121.3 326.4L121.3 327.6M122.5 326.4L122.5 327.6M123.6 326.4L123.6 327.6M124.5 326.4L124.5 327.6M125.3 326.4L125.3 327.6M130.7 326.4L130.7 327.6M133.4 326.4L133.4 327.6M135.4 326.4L135.4 327.6M136.9 326.4L136.9 327.6M138.1 326.4L138.1 327.6M139.2 326.4L139.2 327.6M140.1 326.4L140.1 327.6M140.9 326.4L140.9 327.6M146.3 326.4L146.3 327.6M149.0 326.4L149.0 327.6M151.0 326.4L151.0 327.6M152.5 326.4L152.5 327.6M153.7 326.4L153.7 327.6M154.8 326.4L154.8 327.6M155.7 326.4L155.7 327.6M156.5 326.4L156.5 327.6M161.9 326.4L161.9 327.6M164.6 326.4L164.6 327.6M166.6 326.4L166.6 327.6M168.1 326.4L168.1 327.6M169.3 326.4L169.3 327.6M170.4 326.4L170.4 327.6M171.3 326.4L171.3 327.6M172.1 326.4L172.1 327.6M177.5 326.4L177.5 327.6M180.2 326.4L180.2 327.6M182.2 326.4L182.2 327.6M183.7 326.4L183.7 327.6M184.9 326.4L184.9 327.6M186.0 326.4L186.0 327.6M186.9 326.4L186.9 327.6M187.7 326.4L187.7 327.6M193.1 326.4L193.1 327.6M216.4 326.7L216.4 327.9M218.4 326.7L218.4 327.9M219.9 326.7L219.9 327.9M221.1 326.7L221.1 327.9M222.2 326.7L222.2 327.9M223.1 326.7L223.1 327.9M223.9 326.7L223.9 327.9M229.3 326.7L229.3 327.9M232.0 326.7L232.0 327.9M234.0 326.7L234.0 327.9M235.5 326.7L235.5 327.9M236.7 326.7L236.7 327.9M237.8 326.7L237.8 327.9M238.7 326.7L238.7 327.9M239.5 326.7L239.5 327.9M244.9 326.7L244.9 327.9M247.6 326.7L247.6 327.9M249.6 326.7L249.6 327.9M251.1 326.7L251.1 327.9M252.3 326.7L252.3 327.9M253.4 326.7L253.4 327.9M254.3 326.7L254.3 327.9M255.1 326.7L255.1 327.9M260.5 326.7L260.5 327.9M263.2 326.7L263.2 327.9M265.2 326.7L265.2 327.9M266.7 326.7L266.7 327.9M267.9 326.7L267.9 327.9M269.0 326.7L269.0 327.9M269.9 326.7L269.9 327.9M270.7 326.7L270.7 327.9M276.1 326.7L276.1 327.9M278.8 326.7L278.8 327.9M280.8 326.7L280.8 327.9M282.3 326.7L282.3 327.9M283.5 326.7L283.5 327.9M284.6 326.7L284.6 327.9M285.5 326.7L285.5 327.9M286.3 326.7L286.3 327.9M291.7 326.7L291.7 327.9M313.0 326.7L313.0 327.9M315.0 326.7L315.0 327.9M316.5 326.7L316.5 327.9M317.7 326.7L317.7 327.9M318.8 326.7L318.8 327.9M319.7 326.7L319.7 327.9M320.5 326.7L320.5 327.9M325.9 326.7L325.9 327.9M328.6 326.7L328.6 327.9M330.6 326.7L330.6 327.9M332.1 326.7L332.1 327.9M333.3 326.7L333.3 327.9M334.4 326.7L334.4 327.9M335.3 326.7L335.3 327.9M336.1 326.7L336.1 327.9M341.5 326.7L341.5 327.9M344.2 326.7L344.2 327.9M346.2 326.7L346.2 327.9M347.7 326.7L347.7 327.9M348.9 326.7L348.9 327.9M350.0 326.7L350.0 327.9M350.9 326.7L350.9 327.9M351.7 326.7L351.7 327.9M357.1 326.7L357.1 327.9M359.8 326.7L359.8 327.9M361.8 326.7L361.8 327.9M363.3 326.7L363.3 327.9M364.5 326.7L364.5 327.9M365.6 326.7L365.6 327.9M366.5 326.7L366.5 327.9M367.3 326.7L367.3 327.9M372.7 326.7L372.7 327.9M375.4 326.7L375.4 327.9M377.4 326.7L377.4 327.9M378.9 326.7L378.9 327.9M380.1 326.7L380.1 327.9M381.2 326.7L381.2 327.9M382.1 326.7L382.1 327.9M382.9 326.7L382.9 327.9M388.3 326.7L388.3 327.9M412.1 327.2L412.1 328.4M414.1 327.2L414.1 328.4M415.6 327.2L415.6 328.4M416.8 327.2L416.8 328.4M417.9 327.2L417.9 328.4M418.8 327.2L418.8 328.4M419.6 327.2L419.6 328.4M425.0 327.2L425.0 328.4M427.7 327.2L427.7 328.4M429.7 327.2L429.7 328.4M431.2 327.2L431.2 328.4M432.4 327.2L432.4 328.4M433.5 327.2L433.5 328.4M434.4 327.2L434.4 328.4M435.2 327.2L435.2 328.4M440.6 327.2L440.6 328.4M443.3 327.2L443.3 328.4M445.3 327.2L445.3 328.4M446.8 327.2L446.8 328.4M448.0 327.2L448.0 328.4M449.1 327.2L449.1 328.4M450.0 327.2L450.0 328.4M450.8 327.2L450.8 328.4M456.2 327.2L456.2 328.4M458.9 327.2L458.9 328.4M460.9 327.2L460.9 328.4M462.4 327.2L462.4 328.4M463.6 327.2L463.6 328.4M464.7 327.2L464.7 328.4M465.6 327.2L465.6 328.4M466.4 327.2L466.4 328.4M471.8 327.2L471.8 328.4M474.5 327.2L474.5 328.4M476.5 327.2L476.5 328.4M478.0 327.2L478.0 328.4M479.2 327.2L479.2 328.4M480.3 327.2L480.3 328.4M481.2 327.2L481.2 328.4M482.0 327.2L482.0 328.4M487.4 327.2L487.4 328.4M509.5 326.7L509.5 327.9M511.5 326.7L511.5 327.9M513.0 326.7L513.0 327.9M514.2 326.7L514.2 327.9M515.3 326.7L515.3 327.9M516.2 326.7L516.2 327.9M517.0 326.7L517.0 327.9M522.4 326.7L522.4 327.9M525.1 326.7L525.1 327.9M527.1 326.7L527.1 327.9M528.6 326.7L528.6 327.9M529.8 326.7L529.8 327.9M530.9 326.7L530.9 327.9M531.8 326.7L531.8 327.9M532.6 326.7L532.6 327.9M538.0 326.7L538.0 327.9M540.7 326.7L540.7 327.9M542.7 326.7L542.7 327.9M544.2 326.7L544.2 327.9M545.4 326.7L545.4 327.9M546.5 326.7L546.5 327.9M547.4 326.7L547.4 327.9M548.2 326.7L548.2 327.9M553.6 326.7L553.6 327.9M556.3 326.7L556.3 327.9M558.3 326.7L558.3 327.9M559.8 326.7L559.8 327.9M561.0 326.7L561.0 327.9M562.1 326.7L562.1 327.9M563.0 326.7L563.0 327.9M563.8 326.7L563.8 327.9M569.2 326.7L569.2 327.9M571.9 326.7L571.9 327.9M573.9 326.7L573.9 327.9M575.4 326.7L575.4 327.9M576.6 326.7L576.6 327.9M577.7 326.7L577.7 327.9M578.6 326.7L578.6 327.9M579.4 326.7L579.4 327.9M584.8 326.7L584.8 327.9M607.0 327.5L607.0 328.7M609.0 327.5L609.0 328.7M610.5 327.5L610.5 328.7M611.7 327.5L611.7 328.7M612.8 327.5L612.8 328.7M613.7 327.5L613.7 328.7M614.5 327.5L614.5 328.7M619.9 327.5L619.9 328.7M622.6 327.5L622.6 328.7M624.6 327.5L624.6 328.7M626.1 327.5L626.1 328.7M627.3 327.5L627.3 328.7M628.4 327.5L628.4 328.7M629.3 327.5L629.3 328.7M630.1 327.5L630.1 328.7M635.5 327.5L635.5 328.7M638.2 327.5L638.2 328.7M640.2 327.5L640.2 328.7M641.7 327.5L641.7 328.7M642.9 327.5L642.9 328.7M644.0 327.5L644.0 328.7M644.9 327.5L644.9 328.7M645.7 327.5L645.7 328.7M651.1 327.5L651.1 328.7M653.8 327.5L653.8 328.7M655.8 327.5L655.8 328.7M657.3 327.5L657.3 328.7M658.5 327.5L658.5 328.7M659.6 327.5L659.6 328.7M660.5 327.5L660.5 328.7M661.3 327.5L661.3 328.7M666.7 327.5L666.7 328.7M669.4 327.5L669.4 328.7M671.4 327.5L671.4 328.7M672.9 327.5L672.9 328.7M674.1 327.5L674.1 328.7M675.2 327.5L675.2 328.7M676.1 327.5L676.1 328.7M676.9 327.5L676.9 328.7M682.3 327.5L682.3 328.7" stroke="#9a9a9a" stroke-width="0.4" fill="none"/>
<path d="M47.0 30.6L93.5 30.6M47.0 27.0L47.0 34.2M93.5 27.0L93.5 34.2M145.0 31.3L190.7 31.3M145.0 27.7L145.0 34.9M190.7 27.7L190.7 34.9M242.4 37.0L289.0 37.0M242.4 33.4L242.4 40.6M289.0 33.4L289.0 40.6M346.2 45.0L389.6 45.0M346.2 41.4L346.2 48.6M389.6 41.4L389.6 48.6M437.6 32.9L484.4 32.9M437.6 29.3L437.6 36.5M484.4 29.3L484.4 36.5M536.9 33.4L583.5 33.4M536.9 29.8L536.9 37.0M583.5 29.8L583.5 37.0M634.9 53.3L681.3 53.3M634.9 49.7L634.9 56.9M681.3 49.7L681.3 56.9" stroke="#9a62c6" stroke-width="1.1" fill="none"/>
<path d="M116.6 22.0L116.6 105.6M213.8 21.0L213.8 105.3M312.5 20.5L312.5 104.4M409.8 20.9L409.8 104.4M508.8 21.7L508.8 104.4M606.8 21.7L606.8 104.0M116.9 132.8L116.9 215.1M214.6 131.6L214.6 215.6M311.7 132.5L311.7 214.7M408.2 132.5L408.2 215.1M507.7 132.5L507.7 215.1M605.5 132.8L605.5 215.6M116.0 244.1L116.0 326.4M214.6 242.5L214.6 326.7M311.2 242.8L311.2 326.7M410.3 243.7L410.3 327.2M507.7 244.5L507.7 326.7M605.2 245.3L605.2 327.5" stroke="#b0b0b0" stroke-width="1.0" fill="none"/>
<path d="M115.1 105.6L116.6 105.6M115.1 103.6L116.6 103.6M115.1 101.6L116.6 101.6M115.1 99.6L116.6 99.6M115.1 97.6L116.6 97.6M115.1 95.6L116.6 95.6M115.1 93.6L116.6 93.6M115.1 91.6L116.6 91.6M115.1 89.6L116.6 89.6M115.1 87.6L116.6 87.6M115.1 85.6L116.6 85.6M115.1 83.6L116.6 83.6M115.1 81.6L116.6 81.6M115.1 79.6L116.6 79.6M115.1 77.6L116.6 77.6M115.1 75.6L116.6 75.6M115.1 73.6L116.6 73.6M115.1 71.6L116.6 71.6M115.1 69.6L116.6 69.6M115.1 67.6L116.6 67.6M115.1 65.6L116.6 65.6M115.1 63.6L116.6 63.6M115.1 61.6L116.6 61.6M115.1 59.6L116.6 59.6M115.1 57.6L116.6 57.6M115.1 55.6L116.6 55.6M115.1 53.6L116.6 53.6M115.1 51.6L116.6 51.6M115.1 49.6L116.6 49.6M115.1 47.6L116.6 47.6M115.1 45.6L116.6 45.6M115.1 43.6L116.6 43.6M115.1 41.6L116.6 41.6M115.1 39.6L116.6 39.6M115.1 37.6L116.6 37.6M115.1 35.6L116.6 35.6M115.1 33.6L116.6 33.6M115.1 31.6L116.6 31.6M115.1 29.6L116.6 29.6M115.1 27.6L116.6 27.6M115.1 25.6L116.6 25.6M115.1 23.6L116.6 23.6M212.3 105.3L213.8 105.3M212.3 97.6L213.8 97.6M212.3 89.9L213.8 89.9M212.3 82.1L213.8 82.1M212.3 74.4L213.8 74.4M212.3 66.7L213.8 66.7M212.3 59.0L213.8 59.0M212.3 51.3L213.8 51.3M212.3 43.5L213.8 43.5M212.3 35.8L213.8 35.8M212.3 28.1L213.8 28.1M311.0 104.4L312.5 104.4M311.0 99.3L312.5 99.3M311.0 94.2L312.5 94.2M311.0 89.2L312.5 89.2M311.0 84.1L312.5 84.1M311.0 79.0L312.5 79.0M311.0 73.9L312.5 73.9M311.0 68.8L312.5 68.8M311.0 63.8L312.5 63.8M311.0 58.7L312.5 58.7M311.0 53.6L312.5 53.6M311.0 48.5L312.5 48.5M311.0 43.4L312.5 43.4M311.0 38.4L312.5 38.4M311.0 33.3L312.5 33.3M311.0 28.2L312.5 28.2M311.0 23.1L312.5 23.1M408.3 104.4L409.8 104.4M408.3 102.7L409.8 102.7M408.3 101.1L409.8 101.1M408.3 99.4L409.8 99.4M408.3 97.8L409.8 97.8M408.3 96.1L409.8 96.1M408.3 94.4L409.8 94.4M408.3 92.8L409.8 92.8M408.3 91.1L409.8 91.1M408.3 89.5L409.8 89.5M408.3 87.8L409.8 87.8M408.3 86.1L409.8 86.1M408.3 84.5L409.8 84.5M408.3 82.8L409.8 82.8M408.3 81.2L409.8 81.2M408.3 79.5L409.8 79.5M408.3 77.8L409.8 77.8M408.3 76.2L409.8 76.2M408.3 74.5L409.8 74.5M408.3 72.9L409.8 72.9M408.3 71.2L409.8 71.2M408.3 69.5L409.8 69.5M408.3 67.9L409.8 67.9M408.3 66.2L409.8 66.2M408.3 64.6L409.8 64.6M408.3 62.9L409.8 62.9M408.3 61.2L409.8 61.2M408.3 59.6L409.8 59.6M408.3 57.9L409.8 57.9M408.3 56.3L409.8 56.3M408.3 54.6L409.8 54.6M408.3 52.9L409.8 52.9M408.3 51.3L409.8 51.3M408.3 49.6L409.8 49.6M408.3 48.0L409.8 48.0M408.3 46.3L409.8 46.3M408.3 44.6L409.8 44.6M408.3 43.0L409.8 43.0M408.3 41.3L409.8 41.3M408.3 39.7L409.8 39.7M408.3 38.0L409.8 38.0M408.3 36.3L409.8 36.3M408.3 34.7L409.8 34.7M408.3 33.0L409.8 33.0M408.3 31.4L409.8 31.4M408.3 29.7L409.8 29.7M408.3 28.0L409.8 28.0M408.3 26.4L409.8 26.4M408.3 24.7L409.8 24.7M408.3 23.1L409.8 23.1M408.3 21.4L409.8 21.4M507.3 104.4L508.8 104.4M507.3 102.5L508.8 102.5M507.3 100.7L508.8 100.7M507.3 98.8L508.8 98.8M507.3 97.0L508.8 97.0M507.3 95.1L508.8 95.1M507.3 93.2L508.8 93.2M507.3 91.4L508.8 91.4M507.3 89.5L508.8 89.5M507.3 87.7L508.8 87.7M507.3 85.8L508.8 85.8M507.3 83.9L508.8 83.9M507.3 82.1L508.8 82.1M507.3 80.2L508.8 80.2M507.3 78.4L508.8 78.4M507.3 76.5L508.8 76.5M507.3 74.6L508.8 74.6M507.3 72.8L508.8 72.8M507.3 70.9L508.8 70.9M507.3 69.1L508.8 69.1M507.3 67.2L508.8 67.2M507.3 65.3L508.8 65.3M507.3 63.5L508.8 63.5M507.3 61.6L508.8 61.6M507.3 59.8L508.8 59.8M507.3 57.9L508.8 57.9M507.3 56.0L508.8 56.0M507.3 54.2L508.8 54.2M507.3 52.3L508.8 52.3M507.3 50.5L508.8 50.5M507.3 48.6L508.8 48.6M507.3 46.7L508.8 46.7M507.3 44.9L508.8 44.9M507.3 43.0L508.8 43.0M507.3 41.2L508.8 41.2M507.3 39.3L508.8 39.3M507.3 37.4L508.8 37.4M507.3 35.6L508.8 35.6M507.3 33.7L508.8 33.7M507.3 31.9L508.8 31.9M507.3 30.0L508.8 30.0M507.3 28.1L508.8 28.1M507.3 26.3L508.8 26.3M507.3 24.4L508.8 24.4M507.3 22.6L508.8 22.6M605.3 104.0L606.8 104.0M605.3 98.2L606.8 98.2M605.3 92.4L606.8 92.4M605.3 86.7L606.8 86.7M605.3 80.9L606.8 80.9M605.3 75.1L606.8 75.1M605.3 69.3L606.8 69.3M605.3 63.5L606.8 63.5M605.3 57.8L606.8 57.8M605.3 52.0L606.8 52.0M605.3 46.2L606.8 46.2M605.3 40.4L606.8 40.4M605.3 34.6L606.8 34.6M605.3 28.9L606.8 28.9M605.3 23.1L606.8 23.1M115.4 215.1L116.9 215.1M115.4 211.2L116.9 211.2M115.4 207.4L116.9 207.4M115.4 203.5L116.9 203.5M115.4 199.7L116.9 199.7M115.4 195.8L116.9 195.8M115.4 191.9L116.9 191.9M115.4 188.1L116.9 188.1M115.4 184.2L116.9 184.2M115.4 180.4L116.9 180.4M115.4 176.5L116.9 176.5M115.4 172.6L116.9 172.6M115.4 168.8L116.9 168.8M115.4 164.9L116.9 164.9M115.4 161.1L116.9 161.1M115.4 157.2L116.9 157.2M115.4 153.3L116.9 153.3M115.4 149.5L116.9 149.5M115.4 145.6L116.9 145.6M115.4 141.8L116.9 141.8M115.4 137.9L116.9 137.9M115.4 134.0L116.9 134.0M213.1 215.6L214.6 215.6M213.1 210.7L214.6 210.7M213.1 205.8L214.6 205.8M213.1 200.8L214.6 200.8M213.1 195.9L214.6 195.9M213.1 191.0L214.6 191.0M213.1 186.1L214.6 186.1M213.1 181.2L214.6 181.2M213.1 176.2L214.6 176.2M213.1 171.3L214.6 171.3M213.1 166.4L214.6 166.4M213.1 161.5L214.6 161.5M213.1 156.6L214.6 156.6M213.1 151.6L214.6 151.6M213.1 146.7L214.6 146.7M213.1 141.8L214.6 141.8M213.1 136.9L214.6 136.9M213.1 132.0L214.6 132.0M310.2 214.7L311.7 214.7M310.2 209.8L311.7 209.8M310.2 204.9L311.7 204.9M310.2 200.1L311.7 200.1M310.2 195.2L311.7 195.2M310.2 190.3L311.7 190.3M310.2 185.4L311.7 185.4M310.2 180.5L311.7 180.5M310.2 175.7L311.7 175.7M310.2 170.8L311.7 170.8M310.2 165.9L311.7 165.9M310.2 161.0L311.7 161.0M310.2 156.1L311.7 156.1M310.2 151.3L311.7 151.3M310.2 146.4L311.7 146.4M310.2 141.5L311.7 141.5M310.2 136.6L311.7 136.6M406.7 215.1L408.2 215.1M406.7 211.3L408.2 211.3M406.7 207.5L408.2 207.5M406.7 203.8L408.2 203.8M406.7 200.0L408.2 200.0M406.7 196.2L408.2 196.2M406.7 192.4L408.2 192.4M406.7 188.6L408.2 188.6M406.7 184.9L408.2 184.9M406.7 181.1L408.2 181.1M406.7 177.3L408.2 177.3M406.7 173.5L408.2 173.5M406.7 169.7L408.2 169.7M406.7 166.0L408.2 166.0M406.7 162.2L408.2 162.2M406.7 158.4L408.2 158.4M406.7 154.6L408.2 154.6M406.7 150.8L408.2 150.8M406.7 147.1L408.2 147.1M406.7 143.3L408.2 143.3M406.7 139.5L408.2 139.5M406.7 135.7L408.2 135.7M506.2 215.1L507.7 215.1M506.2 211.0L507.7 211.0M506.2 206.9L507.7 206.9M506.2 202.7L507.7 202.7M506.2 198.6L507.7 198.6M506.2 194.5L507.7 194.5M506.2 190.4L507.7 190.4M506.2 186.3L507.7 186.3M506.2 182.1L507.7 182.1M506.2 178.0L507.7 178.0M506.2 173.9L507.7 173.9M506.2 169.8L507.7 169.8M506.2 165.7L507.7 165.7M506.2 161.5L507.7 161.5M506.2 157.4L507.7 157.4M506.2 153.3L507.7 153.3M506.2 149.2L507.7 149.2M506.2 145.1L507.7 145.1M506.2 140.9L507.7 140.9M506.2 136.8L507.7 136.8M506.2 132.7L507.7 132.7M604.0 215.6L605.5 215.6M604.0 211.5L605.5 211.5M604.0 207.4L605.5 207.4M604.0 203.2L605.5 203.2M604.0 199.1L605.5 199.1M604.0 195.0L605.5 195.0M604.0 190.9L605.5 190.9M604.0 186.8L605.5 186.8M604.0 182.6L605.5 182.6M604.0 178.5L605.5 178.5M604.0 174.4L605.5 174.4M604.0 170.3L605.5 170.3M604.0 166.2L605.5 166.2M604.0 162.0L605.5 162.0M604.0 157.9L605.5 157.9M604.0 153.8L605.5 153.8M604.0 149.7L605.5 149.7M604.0 145.6L605.5 145.6M604.0 141.4L605.5 141.4M604.0 137.3L605.5 137.3M604.0 133.2L605.5 133.2M114.5 326.4L116.0 326.4M114.5 321.4L116.0 321.4M114.5 316.3L116.0 316.3M114.5 311.3L116.0 311.3M114.5 306.2L116.0 306.2M114.5 301.2L116.0 301.2M114.5 296.2L116.0 296.2M114.5 291.1L116.0 291.1M114.5 286.1L116.0 286.1M114.5 281.0L116.0 281.0M114.5 276.0L116.0 276.0M114.5 271.0L116.0 271.0M114.5 265.9L116.0 265.9M114.5 260.9L116.0 260.9M114.5 255.8L116.0 255.8M114.5 250.8L116.0 250.8M114.5 245.8L116.0 245.8M213.1 326.7L214.6 326.7M213.1 320.7L214.6 320.7M213.1 314.7L214.6 314.7M213.1 308.7L214.6 308.7M213.1 302.7L214.6 302.7M213.1 296.7L214.6 296.7M213.1 290.7L214.6 290.7M213.1 284.7L214.6 284.7M213.1 278.7L214.6 278.7M213.1 272.7L214.6 272.7M213.1 266.7L214.6 266.7M213.1 260.7L214.6 260.7M213.1 254.7L214.6 254.7M213.1 248.7L214.6 248.7M213.1 242.7L214.6 242.7M309.7 326.7L311.2 326.7M309.7 320.0L311.2 320.0M309.7 313.4L311.2 313.4M309.7 306.7L311.2 306.7M309.7 300.1L311.2 300.1M309.7 293.4L311.2 293.4M309.7 286.7L311.2 286.7M309.7 280.1L311.2 280.1M309.7 273.4L311.2 273.4M309.7 266.8L311.2 266.8M309.7 260.1L311.2 260.1M309.7 253.4L311.2 253.4M309.7 246.8L311.2 246.8M408.8 327.2L410.3 327.2M408.8 322.8L410.3 322.8M408.8 318.3L410.3 318.3M408.8 313.9L410.3 313.9M408.8 309.4L410.3 309.4M408.8 305.0L410.3 305.0M408.8 300.6L410.3 300.6M408.8 296.1L410.3 296.1M408.8 291.7L410.3 291.7M408.8 287.2L410.3 287.2M408.8 282.8L410.3 282.8M408.8 278.4L410.3 278.4M408.8 273.9L410.3 273.9M408.8 269.5L410.3 269.5M408.8 265.0L410.3 265.0M408.8 260.6L410.3 260.6M408.8 256.2L410.3 256.2M408.8 251.7L410.3 251.7M408.8 247.3L410.3 247.3M506.2 326.7L507.7 326.7M506.2 322.4L507.7 322.4M506.2 318.0L507.7 318.0M506.2 313.7L507.7 313.7M506.2 309.3L507.7 309.3M506.2 305.0L507.7 305.0M506.2 300.7L507.7 300.7M506.2 296.3L507.7 296.3M506.2 292.0L507.7 292.0M506.2 287.6L507.7 287.6M506.2 283.3L507.7 283.3M506.2 279.0L507.7 279.0M506.2 274.6L507.7 274.6M506.2 270.3L507.7 270.3M506.2 265.9L507.7 265.9M506.2 261.6L507.7 261.6M506.2 257.3L507.7 257.3M506.2 252.9L507.7 252.9M506.2 248.6L507.7 248.6M603.7 327.5L605.2 327.5M603.7 322.0L605.2 322.0M603.7 316.4L605.2 316.4M603.7 310.9L605.2 310.9M603.7 305.3L605.2 305.3M603.7 299.8L605.2 299.8M603.7 294.3L605.2 294.3M603.7 288.7L605.2 288.7M603.7 283.2L605.2 283.2M603.7 277.6L605.2 277.6M603.7 272.1L605.2 272.1M603.7 266.6L605.2 266.6M603.7 261.0L605.2 261.0M603.7 255.5L605.2 255.5M603.7 249.9L605.2 249.9" stroke="#a8a8a8" stroke-width="0.6" fill="none"/>
<path d="M55.4 142.2L96.4 142.2M55.4 138.6L55.4 145.8M96.4 138.6L96.4 145.8M159.4 196.3L191.2 196.3M159.4 192.7L159.4 199.9M191.2 192.7L191.2 199.9M256.5 191.5L288.6 191.5M256.5 187.9L256.5 195.1M288.6 187.9L288.6 195.1M353.8 191.0L385.6 191.0M353.8 187.4L353.8 194.6M385.6 187.4L385.6 194.6M451.2 196.3L483.6 196.3M451.2 192.7L451.2 199.9M483.6 192.7L483.6 199.9M549.7 195.0L581.5 195.0M549.7 191.4L549.7 198.6M581.5 191.4L581.5 198.6M647.6 195.2L679.7 195.2M647.6 191.6L647.6 198.8M679.7 191.6L679.7 198.8" stroke="#6f8fe6" stroke-width="1.1" fill="none"/>
<path d="M49.3 254.4L93.5 254.4M49.3 250.8L49.3 258.0M93.5 250.8L93.5 258.0M147.9 266.5L194.0 266.5M147.9 262.9L147.9 270.1M194.0 262.9L194.0 270.1M246.0 255.2L291.4 255.2M246.0 251.6L246.0 258.8M291.4 251.6L291.4 258.8M343.8 253.6L390.7 253.6M343.8 250.0L343.8 257.2M390.7 250.0L390.7 257.2M441.3 274.5L487.7 274.5M441.3 270.9L441.3 278.1M487.7 270.9L487.7 278.1M540.3 275.4L586.4 275.4M540.3 271.8L540.3 279.0M586.4 271.8L586.4 279.0M636.8 261.3L682.6 261.3M636.8 257.7L636.8 264.9M682.6 257.7L682.6 264.9" stroke="#7e9466" stroke-width="1.1" fill="none"/>
<path d="M49.5 423.8L49.5 422.1M45.5 422.1L53.5 422.1M75.6 418.6L75.6 417.3M71.5 417.3L79.6 417.3M101.8 413.3L101.8 412.6M97.7 412.6L105.8 412.6M127.6 423.4L127.6 421.8M123.4 421.8L131.8 421.8M154.1 430.4L154.1 426.2M150.0 426.2L158.1 426.2M180.2 414.0L180.2 413.5M176.0 413.5L184.3 413.5M283.6 455.2L283.6 444.4M279.6 444.4L287.7 444.4M309.6 412.3L309.6 404.4M305.5 404.4L313.8 404.4M335.9 386.9L335.9 382.5M331.8 382.5L340.0 382.5M361.9 465.4L361.9 461.9M357.7 461.9L366.1 461.9M388.0 426.0L388.0 418.1M384.0 418.1L392.0 418.1M414.2 412.3L414.2 405.8M410.2 405.8L418.3 405.8M514.5 438.2L514.5 435.4M510.4 435.4L518.5 435.4M540.5 414.9L540.5 411.4M536.4 411.4L544.6 411.4M566.6 403.9L566.6 400.0M562.6 400.0L570.7 400.0M593.0 429.5L593.0 421.6M588.8 421.6L597.1 421.6M619.0 454.7L619.0 452.0M615.0 452.0L623.1 452.0M645.1 405.6L645.1 399.5M641.0 399.5L649.3 399.5M63.7 691.6L63.7 686.0M59.2 686.0L68.2 686.0M93.1 645.5L93.1 640.7M88.4 640.7L97.8 640.7M122.9 617.6L122.9 609.0M118.3 609.0L127.5 609.0M152.1 653.0L152.1 646.4M147.5 646.4L156.7 646.4M181.8 686.7L181.8 684.7M177.2 684.7L186.3 684.7M211.2 647.9L211.2 642.2M206.7 642.2L215.7 642.2M490.9 678.3L490.9 674.7M486.1 674.7L495.6 674.7M520.5 631.0L520.5 620.8M515.6 620.8L525.4 620.8M550.0 593.2L550.0 584.3M545.2 584.3L554.7 584.3M579.7 636.4L579.7 629.4M574.9 629.4L584.4 629.4M609.1 665.6L609.1 659.9M604.5 659.9L613.7 659.9M638.2 646.7L638.2 643.2M633.7 643.2L642.8 643.2M499.4 995.3L499.4 991.2M494.2 991.2L504.5 991.2M531.1 951.0L531.1 948.3M525.9 948.3L536.4 948.3M562.7 931.1L562.7 929.7M557.5 929.7L568.0 929.7M594.5 972.4L594.5 969.9M589.4 969.9L599.7 969.9M626.5 960.3L626.5 956.6M621.3 956.6L631.8 956.6M658.2 942.3L658.2 939.7M653.0 939.7L663.4 939.7M54.5 1209.0L54.5 1206.9M50.2 1206.9L58.8 1206.9M80.8 1177.1L80.8 1173.6M76.6 1173.6L85.1 1173.6M107.0 1158.7L107.0 1153.4M102.8 1153.4L111.3 1153.4M133.6 1189.6L133.6 1186.4M129.3 1186.4L137.8 1186.4M159.8 1186.9L159.8 1184.7M155.5 1184.7L164.0 1184.7M185.8 1171.5L185.8 1167.7M181.5 1167.7L190.2 1167.7M263.2 1174.3L263.2 1167.3M258.5 1167.3L268.0 1167.3M291.8 1205.8L291.8 1203.6M287.1 1203.6L296.4 1203.6M320.4 1235.8L320.4 1232.4M315.8 1232.4L325.0 1232.4M348.6 1214.0L348.6 1211.3M344.0 1211.3L353.2 1211.3M377.0 1186.2L377.0 1182.1M372.5 1182.1L381.6 1182.1M405.3 1204.2L405.3 1200.3M400.7 1200.3L409.9 1200.3M486.6 1243.5L486.6 1242.4M481.5 1242.4L491.7 1242.4M517.6 1227.1L517.6 1225.5M512.5 1225.5L522.8 1225.5M548.7 1162.5L548.7 1150.9M543.6 1150.9L553.8 1150.9M579.7 1226.5L579.7 1224.7M574.7 1224.7L584.7 1224.7M610.8 1236.6L610.8 1234.7M605.7 1234.7L615.8 1234.7M641.8 1225.3L641.8 1223.2M636.7 1223.2L646.8 1223.2" stroke="#000" stroke-width="1.1" fill="none"/>
<path d="M123.0 423.4L123.0 485.9M127.2 423.4L127.2 485.9M131.3 423.4L131.3 485.9M357.2 465.4L357.2 486.6M361.5 465.4L361.5 486.6M365.7 465.4L365.7 486.6M588.3 429.5L588.3 485.9M592.5 429.5L592.5 485.9M596.7 429.5L596.7 485.9M147.1 653.0L147.1 703.9M151.7 653.0L151.7 703.9M156.3 653.0L156.3 703.9M574.5 636.4L574.5 697.1M579.2 636.4L579.2 697.1M583.9 636.4L583.9 697.1" stroke="#000" stroke-width="1.4" fill="none"/>
<path d="M31.9 375.2L31.9 486.6M31.2 485.9L197.2 485.9M29.0 485.8L31.9 485.8M29.0 449.2L31.9 449.2M29.0 412.4L31.9 412.4M29.0 375.7L31.9 375.7M49.5 485.9L49.5 489.5M75.6 485.9L75.6 489.5M101.8 485.9L101.8 489.5M127.6 485.9L127.6 489.5M154.1 485.9L154.1 489.5M180.2 485.9L180.2 489.5M266.2 375.9L266.2 487.3M265.5 486.6L432.0 486.6M263.1 486.4L266.2 486.4M263.1 450.0L266.2 450.0M263.1 413.5L266.2 413.5M263.1 376.4L266.2 376.4M283.6 486.6L283.6 490.2M309.6 486.6L309.6 490.2M335.9 486.6L335.9 490.2M361.9 486.6L361.9 490.2M388.0 486.6L388.0 490.2M414.2 486.6L414.2 490.2M497.0 375.0L497.0 486.6M496.3 485.9L662.2 485.9M494.0 485.9L497.0 485.9M494.0 458.2L497.0 458.2M494.0 430.7L497.0 430.7M494.0 403.2L497.0 403.2M494.0 375.5L497.0 375.5M514.5 485.9L514.5 489.5M540.5 485.9L540.5 489.5M566.6 485.9L566.6 489.5M593.0 485.9L593.0 489.5M619.0 485.9L619.0 489.5M645.1 485.9L645.1 489.5M44.2 578.9L44.2 704.6M43.5 703.9L230.8 703.9M41.0 704.0L44.2 704.0M41.0 679.1L44.2 679.1M41.0 654.2L44.2 654.2M41.0 629.4L44.2 629.4M41.0 604.3L44.2 604.3M41.0 579.4L44.2 579.4M63.7 703.9L63.7 707.5M93.1 703.9L93.1 707.5M122.9 703.9L122.9 707.5M152.1 703.9L152.1 707.5M181.8 703.9L181.8 707.5M211.2 703.9L211.2 707.5M471.6 572.0L471.6 697.8M470.9 697.1L658.0 697.1M468.3 697.1L471.6 697.1M468.3 672.2L471.6 672.2M468.3 647.5L471.6 647.5M468.3 622.6L471.6 622.6M468.3 597.6L471.6 597.6M468.3 572.5L471.6 572.5M490.9 697.1L490.9 700.7M520.5 697.1L520.5 700.7M550.0 697.1L550.0 700.7M579.7 697.1L579.7 700.7M609.1 697.1L609.1 700.7M638.2 697.1L638.2 700.7M478.1 897.9L478.1 1033.7M477.4 1033.0L679.9 1033.0M474.3 1032.9L478.1 1032.9M474.3 1006.1L478.1 1006.1M474.3 979.3L478.1 979.3M474.3 952.4L478.1 952.4M474.3 925.5L478.1 925.5M474.3 898.4L478.1 898.4M499.4 1033.0L499.4 1036.6M531.1 1033.0L531.1 1036.6M562.7 1033.0L562.7 1036.6M594.5 1033.0L594.5 1036.6M626.5 1033.0L626.5 1036.6M658.2 1033.0L658.2 1036.6M36.9 1139.4L36.9 1251.8M36.2 1251.1L204.2 1251.1M33.9 1250.7L36.9 1250.7M33.9 1228.8L36.9 1228.8M33.9 1206.5L36.9 1206.5M33.9 1184.4L36.9 1184.4M33.9 1162.2L36.9 1162.2M33.9 1139.9L36.9 1139.9M54.5 1251.1L54.5 1254.7M80.8 1251.1L80.8 1254.7M107.0 1251.1L107.0 1254.7M133.6 1251.1L133.6 1254.7M159.8 1251.1L159.8 1254.7M185.8 1251.1L185.8 1254.7M244.6 1131.8L244.6 1253.1M243.9 1252.4L424.7 1252.4M241.2 1252.3L244.6 1252.3M241.2 1212.3L244.6 1212.3M241.2 1172.2L244.6 1172.2M241.2 1132.3L244.6 1132.3M263.2 1252.4L263.2 1256.0M291.8 1252.4L291.8 1256.0M320.4 1252.4L320.4 1256.0M348.6 1252.4L348.6 1256.0M377.0 1252.4L377.0 1256.0M405.3 1252.4L405.3 1256.0M466.0 1119.8L466.0 1252.3M465.3 1251.6L663.1 1251.6M462.3 1251.3L466.0 1251.3M462.3 1208.1L466.0 1208.1M462.3 1164.6L466.0 1164.6M462.3 1120.3L466.0 1120.3M486.6 1251.6L486.6 1255.2M517.6 1251.6L517.6 1255.2M548.7 1251.6L548.7 1255.2M579.7 1251.6L579.7 1255.2M610.8 1251.6L610.8 1255.2M641.8 1251.6L641.8 1255.2" stroke="#333" stroke-width="1.45" fill="none"/>
<path d="M26.7 921.5L142.8 921.5M165.8 916.2L281.2 916.2M309.6 920.0L423.4 920.0M26.3 1066.3L143.9 1066.3M164.1 1068.5L281.9 1068.5M309.6 1066.3L426.3 1066.3" stroke="#111" stroke-width="1.3" fill="none"/>
<path d="M26.7 922.4L142.8 922.4M165.8 917.1L281.2 917.1M309.6 920.9L423.4 920.9M26.3 1067.2L143.9 1067.2M164.1 1069.4L281.9 1069.4M309.6 1067.2L426.3 1067.2" stroke="#d030d0" stroke-width="0.5" fill="none"/>
<path d="M23.0 921.6L26.7 921.6M23.0 884.8L26.7 884.8M23.0 847.6L26.7 847.6M23.0 810.4L26.7 810.4M162.1 916.7L165.8 916.7M162.1 893.7L165.8 893.7M162.1 869.6L165.8 869.6M162.1 845.5L165.8 845.5M162.1 821.5L165.8 821.5M305.9 920.0L309.6 920.0M305.9 893.3L309.6 893.3M305.9 865.7L309.6 865.7M305.9 838.3L309.6 838.3M305.9 810.5L309.6 810.5M22.6 1066.3L26.3 1066.3M22.6 1043.3L26.3 1043.3M22.6 1018.5L26.3 1018.5M22.6 993.8L26.3 993.8M22.6 969.3L26.3 969.3M160.4 1068.5L164.1 1068.5M160.4 1040.9L164.1 1040.9M160.4 1012.6L164.1 1012.6M160.4 984.6L164.1 984.6M160.4 956.1L164.1 956.1M305.9 1066.3L309.6 1066.3M305.9 1042.2L309.6 1042.2M305.9 1017.9L309.6 1017.9M305.9 993.4L309.6 993.4M305.9 968.2L309.6 968.2" stroke="#444" stroke-width="0.7" fill="none"/>
<path d="M24.9 921.6L26.7 921.6M24.9 914.2L26.7 914.2M24.9 906.9L26.7 906.9M24.9 899.5L26.7 899.5M24.9 892.2L26.7 892.2M24.9 884.8L26.7 884.8M24.9 877.4L26.7 877.4M24.9 870.1L26.7 870.1M24.9 862.7L26.7 862.7M24.9 855.4L26.7 855.4M24.9 848.0L26.7 848.0M24.9 840.6L26.7 840.6M24.9 833.3L26.7 833.3M24.9 825.9L26.7 825.9M24.9 818.6L26.7 818.6M24.9 811.2L26.7 811.2M164.0 916.7L165.8 916.7M164.0 912.1L165.8 912.1M164.0 907.5L165.8 907.5M164.0 902.9L165.8 902.9M164.0 898.3L165.8 898.3M164.0 893.7L165.8 893.7M164.0 889.1L165.8 889.1M164.0 884.5L165.8 884.5M164.0 879.9L165.8 879.9M164.0 875.3L165.8 875.3M164.0 870.7L165.8 870.7M164.0 866.1L165.8 866.1M164.0 861.5L165.8 861.5M164.0 856.9L165.8 856.9M164.0 852.3L165.8 852.3M164.0 847.7L165.8 847.7M164.0 843.1L165.8 843.1M164.0 838.5L165.8 838.5M164.0 833.9L165.8 833.9M164.0 829.3L165.8 829.3M164.0 824.7L165.8 824.7M164.0 820.1L165.8 820.1M164.0 815.5L165.8 815.5M164.0 810.9L165.8 810.9M164.0 806.3L165.8 806.3M307.8 920.0L309.6 920.0M307.8 914.7L309.6 914.7M307.8 909.3L309.6 909.3M307.8 904.0L309.6 904.0M307.8 898.6L309.6 898.6M307.8 893.3L309.6 893.3M307.8 888.0L309.6 888.0M307.8 882.6L309.6 882.6M307.8 877.3L309.6 877.3M307.8 871.9L309.6 871.9M307.8 866.6L309.6 866.6M307.8 861.3L309.6 861.3M307.8 855.9L309.6 855.9M307.8 850.6L309.6 850.6M307.8 845.2L309.6 845.2M307.8 839.9L309.6 839.9M307.8 834.6L309.6 834.6M307.8 829.2L309.6 829.2M307.8 823.9L309.6 823.9M307.8 818.5L309.6 818.5M307.8 813.2L309.6 813.2M307.8 807.9L309.6 807.9M24.5 1066.3L26.3 1066.3M24.5 1061.7L26.3 1061.7M24.5 1057.1L26.3 1057.1M24.5 1052.5L26.3 1052.5M24.5 1047.9L26.3 1047.9M24.5 1043.3L26.3 1043.3M24.5 1038.7L26.3 1038.7M24.5 1034.1L26.3 1034.1M24.5 1029.5L26.3 1029.5M24.5 1024.9L26.3 1024.9M24.5 1020.3L26.3 1020.3M24.5 1015.7L26.3 1015.7M24.5 1011.1L26.3 1011.1M24.5 1006.5L26.3 1006.5M24.5 1001.9L26.3 1001.9M24.5 997.3L26.3 997.3M24.5 992.7L26.3 992.7M24.5 988.1L26.3 988.1M24.5 983.5L26.3 983.5M24.5 978.9L26.3 978.9M24.5 974.3L26.3 974.3M24.5 969.7L26.3 969.7M24.5 965.1L26.3 965.1M24.5 960.5L26.3 960.5M24.5 955.9L26.3 955.9M24.5 951.3L26.3 951.3M162.3 1068.5L164.1 1068.5M162.3 1063.0L164.1 1063.0M162.3 1057.5L164.1 1057.5M162.3 1051.9L164.1 1051.9M162.3 1046.4L164.1 1046.4M162.3 1040.9L164.1 1040.9M162.3 1035.4L164.1 1035.4M162.3 1029.9L164.1 1029.9M162.3 1024.3L164.1 1024.3M162.3 1018.8L164.1 1018.8M162.3 1013.3L164.1 1013.3M162.3 1007.8L164.1 1007.8M162.3 1002.3L164.1 1002.3M162.3 996.7L164.1 996.7M162.3 991.2L164.1 991.2M162.3 985.7L164.1 985.7M162.3 980.2L164.1 980.2M162.3 974.7L164.1 974.7M162.3 969.1L164.1 969.1M162.3 963.6L164.1 963.6M162.3 958.1L164.1 958.1M162.3 952.6L164.1 952.6M307.8 1066.3L309.6 1066.3M307.8 1061.5L309.6 1061.5M307.8 1056.7L309.6 1056.7M307.8 1051.8L309.6 1051.8M307.8 1047.0L309.6 1047.0M307.8 1042.2L309.6 1042.2M307.8 1037.4L309.6 1037.4M307.8 1032.6L309.6 1032.6M307.8 1027.7L309.6 1027.7M307.8 1022.9L309.6 1022.9M307.8 1018.1L309.6 1018.1M307.8 1013.3L309.6 1013.3M307.8 1008.5L309.6 1008.5M307.8 1003.6L309.6 1003.6M307.8 998.8L309.6 998.8M307.8 994.0L309.6 994.0M307.8 989.2L309.6 989.2M307.8 984.4L309.6 984.4M307.8 979.5L309.6 979.5M307.8 974.7L309.6 974.7M307.8 969.9L309.6 969.9M307.8 965.1L309.6 965.1M307.8 960.3L309.6 960.3M307.8 955.4L309.6 955.4" stroke="#666" stroke-width="0.55" fill="none"/>
<path d="M37.7 922.0L37.7 924.2M50.8 922.0L50.8 924.2M76.6 922.0L76.6 924.2M101.4 922.0L101.4 924.2M125.9 922.0L125.9 924.2M176.8 916.7L176.8 918.9M189.9 916.7L189.9 918.9M215.7 916.7L215.7 918.9M240.5 916.7L240.5 918.9M265.0 916.7L265.0 918.9M320.6 920.6L320.6 922.8M333.7 920.6L333.7 922.8M359.5 920.6L359.5 922.8M384.3 920.6L384.3 922.8M408.8 920.6L408.8 922.8M37.3 1067.1L37.3 1069.3M50.4 1067.1L50.4 1069.3M76.2 1067.1L76.2 1069.3M101.0 1067.1L101.0 1069.3M125.5 1067.1L125.5 1069.3M175.1 1069.3L175.1 1071.5M188.2 1069.3L188.2 1071.5M214.0 1069.3L214.0 1071.5M238.8 1069.3L238.8 1071.5M263.3 1069.3L263.3 1071.5M320.6 1066.7L320.6 1068.9M333.7 1066.7L333.7 1068.9M359.5 1066.7L359.5 1068.9M384.3 1066.7L384.3 1068.9M408.8 1066.7L408.8 1068.9" stroke="#555" stroke-width="0.6" fill="none"/>
<path d="M58.3 922.0L58.3 923.3M62.7 922.0L62.7 923.3M65.9 922.0L65.9 923.3M68.3 922.0L68.3 923.3M70.3 922.0L70.3 923.3M71.9 922.0L71.9 923.3M73.4 922.0L73.4 923.3M74.7 922.0L74.7 923.3M84.1 922.0L84.1 923.3M88.5 922.0L88.5 923.3M91.7 922.0L91.7 923.3M94.1 922.0L94.1 923.3M96.1 922.0L96.1 923.3M97.7 922.0L97.7 923.3M99.2 922.0L99.2 923.3M100.5 922.0L100.5 923.3M108.9 922.0L108.9 923.3M113.3 922.0L113.3 923.3M116.5 922.0L116.5 923.3M118.9 922.0L118.9 923.3M120.9 922.0L120.9 923.3M122.5 922.0L122.5 923.3M124.0 922.0L124.0 923.3M125.3 922.0L125.3 923.3M197.4 916.7L197.4 918.0M201.8 916.7L201.8 918.0M205.0 916.7L205.0 918.0M207.4 916.7L207.4 918.0M209.4 916.7L209.4 918.0M211.0 916.7L211.0 918.0M212.5 916.7L212.5 918.0M213.8 916.7L213.8 918.0M223.2 916.7L223.2 918.0M227.6 916.7L227.6 918.0M230.8 916.7L230.8 918.0M233.2 916.7L233.2 918.0M235.2 916.7L235.2 918.0M236.8 916.7L236.8 918.0M238.3 916.7L238.3 918.0M239.6 916.7L239.6 918.0M248.0 916.7L248.0 918.0M252.4 916.7L252.4 918.0M255.6 916.7L255.6 918.0M258.0 916.7L258.0 918.0M260.0 916.7L260.0 918.0M261.6 916.7L261.6 918.0M263.1 916.7L263.1 918.0M264.4 916.7L264.4 918.0M341.2 920.6L341.2 921.9M345.6 920.6L345.6 921.9M348.8 920.6L348.8 921.9M351.2 920.6L351.2 921.9M353.2 920.6L353.2 921.9M354.8 920.6L354.8 921.9M356.3 920.6L356.3 921.9M357.6 920.6L357.6 921.9M367.0 920.6L367.0 921.9M371.4 920.6L371.4 921.9M374.6 920.6L374.6 921.9M377.0 920.6L377.0 921.9M379.0 920.6L379.0 921.9M380.6 920.6L380.6 921.9M382.1 920.6L382.1 921.9M383.4 920.6L383.4 921.9M391.8 920.6L391.8 921.9M396.2 920.6L396.2 921.9M399.4 920.6L399.4 921.9M401.8 920.6L401.8 921.9M403.8 920.6L403.8 921.9M405.4 920.6L405.4 921.9M406.9 920.6L406.9 921.9M408.2 920.6L408.2 921.9M57.9 1067.1L57.9 1068.4M62.3 1067.1L62.3 1068.4M65.5 1067.1L65.5 1068.4M67.9 1067.1L67.9 1068.4M69.9 1067.1L69.9 1068.4M71.5 1067.1L71.5 1068.4M73.0 1067.1L73.0 1068.4M74.3 1067.1L74.3 1068.4M83.7 1067.1L83.7 1068.4M88.1 1067.1L88.1 1068.4M91.3 1067.1L91.3 1068.4M93.7 1067.1L93.7 1068.4M95.7 1067.1L95.7 1068.4M97.3 1067.1L97.3 1068.4M98.8 1067.1L98.8 1068.4M100.1 1067.1L100.1 1068.4M108.5 1067.1L108.5 1068.4M112.9 1067.1L112.9 1068.4M116.1 1067.1L116.1 1068.4M118.5 1067.1L118.5 1068.4M120.5 1067.1L120.5 1068.4M122.1 1067.1L122.1 1068.4M123.6 1067.1L123.6 1068.4M124.9 1067.1L124.9 1068.4M195.7 1069.3L195.7 1070.6M200.1 1069.3L200.1 1070.6M203.3 1069.3L203.3 1070.6M205.7 1069.3L205.7 1070.6M207.7 1069.3L207.7 1070.6M209.3 1069.3L209.3 1070.6M210.8 1069.3L210.8 1070.6M212.1 1069.3L212.1 1070.6M221.5 1069.3L221.5 1070.6M225.9 1069.3L225.9 1070.6M229.1 1069.3L229.1 1070.6M231.5 1069.3L231.5 1070.6M233.5 1069.3L233.5 1070.6M235.1 1069.3L235.1 1070.6M236.6 1069.3L236.6 1070.6M237.9 1069.3L237.9 1070.6M246.3 1069.3L246.3 1070.6M250.7 1069.3L250.7 1070.6M253.9 1069.3L253.9 1070.6M256.3 1069.3L256.3 1070.6M258.3 1069.3L258.3 1070.6M259.9 1069.3L259.9 1070.6M261.4 1069.3L261.4 1070.6M262.7 1069.3L262.7 1070.6M341.2 1066.7L341.2 1068.0M345.6 1066.7L345.6 1068.0M348.8 1066.7L348.8 1068.0M351.2 1066.7L351.2 1068.0M353.2 1066.7L353.2 1068.0M354.8 1066.7L354.8 1068.0M356.3 1066.7L356.3 1068.0M357.6 1066.7L357.6 1068.0M367.0 1066.7L367.0 1068.0M371.4 1066.7L371.4 1068.0M374.6 1066.7L374.6 1068.0M377.0 1066.7L377.0 1068.0M379.0 1066.7L379.0 1068.0M380.6 1066.7L380.6 1068.0M382.1 1066.7L382.1 1068.0M383.4 1066.7L383.4 1068.0M391.8 1066.7L391.8 1068.0M396.2 1066.7L396.2 1068.0M399.4 1066.7L399.4 1068.0M401.8 1066.7L401.8 1068.0M403.8 1066.7L403.8 1068.0M405.4 1066.7L405.4 1068.0M406.9 1066.7L406.9 1068.0M408.2 1066.7L408.2 1068.0" stroke="#777" stroke-width="0.45" fill="none"/>
</svg>
</body></html>
